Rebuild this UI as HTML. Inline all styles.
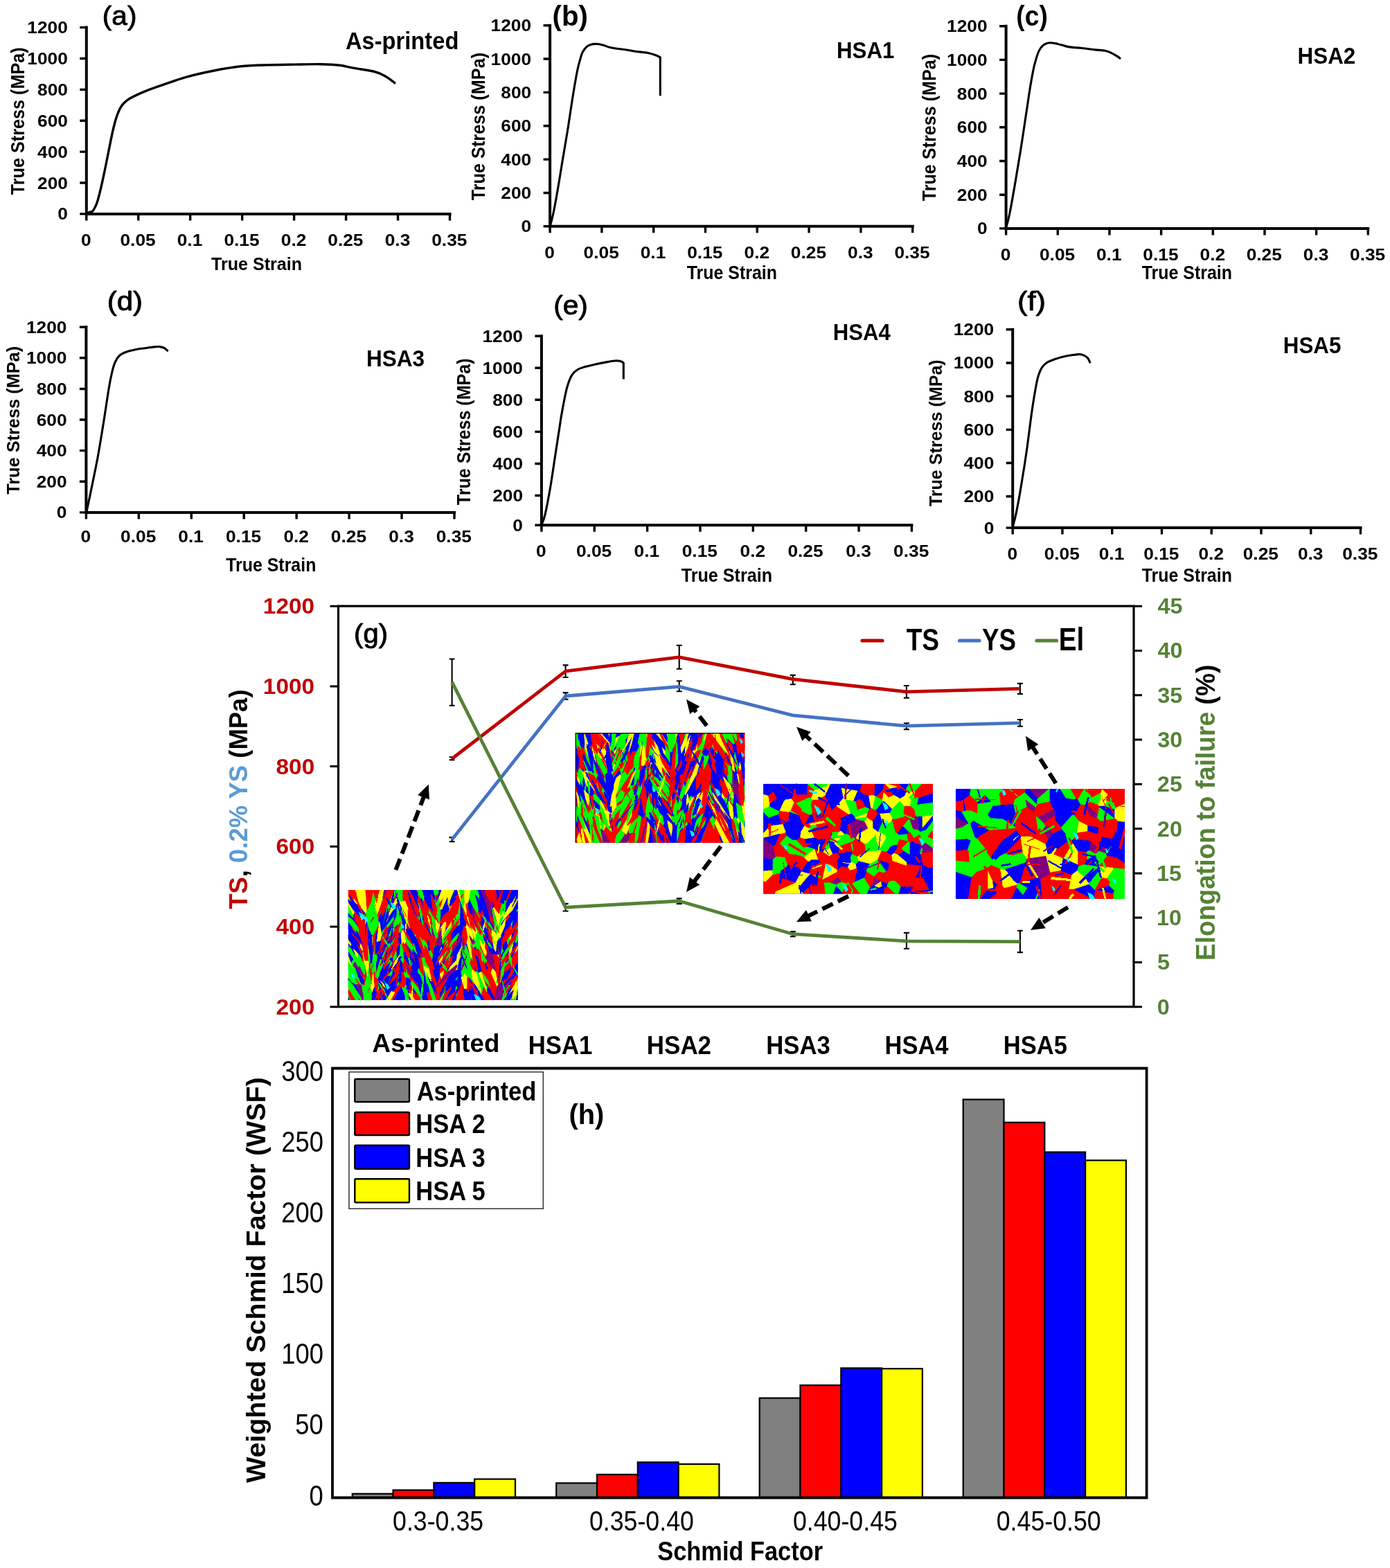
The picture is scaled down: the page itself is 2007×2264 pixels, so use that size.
<!DOCTYPE html>
<html><head><meta charset="utf-8"><title>Figure</title>
<style>
html,body{margin:0;padding:0;background:#fff}
body{width:2007px;height:2264px;overflow:hidden}
svg{display:block}
text{font-family:"Liberation Sans",sans-serif}
</style></head><body>
<svg width="2007" height="2264" viewBox="0 0 2007 2264">
<rect width="2007" height="2264" fill="#fff"/>
<path d="M124.80 39.60 V308.90 H649.50" fill="none" stroke="#000" stroke-width="4.00" stroke-linecap="square"/>
<path d="M115.30 308.90H124.80M115.30 264.02H124.80M115.30 219.13H124.80M115.30 174.25H124.80M115.30 129.37H124.80M115.30 84.48H124.80M115.30 39.60H124.80M124.80 308.90V318.40M199.76 308.90V318.40M274.71 308.90V318.40M349.67 308.90V318.40M424.63 308.90V318.40M499.59 308.90V318.40M574.54 308.90V318.40M649.50 308.90V318.40" fill="none" stroke="#000" stroke-width="3.40"/>
<text transform="translate(83.24 317.39) scale(1.0700 1)" font-size="24.60" font-weight="700" fill="#000" xml:space="preserve">0</text>
<text transform="translate(54.03 272.50) scale(1.0700 1)" font-size="24.60" font-weight="700" fill="#000" xml:space="preserve">200</text>
<text transform="translate(54.03 227.62) scale(1.0700 1)" font-size="24.60" font-weight="700" fill="#000" xml:space="preserve">400</text>
<text transform="translate(54.03 182.74) scale(1.0700 1)" font-size="24.60" font-weight="700" fill="#000" xml:space="preserve">600</text>
<text transform="translate(54.03 137.85) scale(1.0700 1)" font-size="24.60" font-weight="700" fill="#000" xml:space="preserve">800</text>
<text transform="translate(39.29 92.97) scale(1.0700 1)" font-size="24.60" font-weight="700" fill="#000" xml:space="preserve">1000</text>
<text transform="translate(39.29 48.09) scale(1.0700 1)" font-size="24.60" font-weight="700" fill="#000" xml:space="preserve">1200</text>
<text transform="translate(117.00 354.89) scale(1.0700 1)" font-size="24.60" font-weight="700" fill="#000" xml:space="preserve">0</text>
<text transform="translate(173.46 354.89) scale(1.0700 1)" font-size="24.60" font-weight="700" fill="#000" xml:space="preserve">0.05</text>
<text transform="translate(255.72 354.89) scale(1.0700 1)" font-size="24.60" font-weight="700" fill="#000" xml:space="preserve">0.1</text>
<text transform="translate(323.38 354.89) scale(1.0700 1)" font-size="24.60" font-weight="700" fill="#000" xml:space="preserve">0.15</text>
<text transform="translate(405.83 354.89) scale(1.0700 1)" font-size="24.60" font-weight="700" fill="#000" xml:space="preserve">0.2</text>
<text transform="translate(473.29 354.89) scale(1.0700 1)" font-size="24.60" font-weight="700" fill="#000" xml:space="preserve">0.25</text>
<text transform="translate(555.68 354.89) scale(1.0700 1)" font-size="24.60" font-weight="700" fill="#000" xml:space="preserve">0.3</text>
<text transform="translate(623.20 354.89) scale(1.0700 1)" font-size="24.60" font-weight="700" fill="#000" xml:space="preserve">0.35</text>
<path d="M124.4 308.3C125.2 308.0 127.9 306.9 129.4 306.3C130.9 305.8 132.0 306.3 133.3 305.2C134.6 304.0 135.9 302.0 137.1 299.4C138.4 296.8 139.4 295.2 141.0 289.7C142.6 284.3 144.9 274.9 146.8 266.6C148.7 258.2 150.7 248.8 152.6 239.5C154.5 230.2 156.5 219.9 158.4 210.5C160.3 201.2 162.2 191.2 164.2 183.5C166.1 175.8 168.0 169.3 170.0 164.2C171.9 159.0 173.5 155.8 175.8 152.6C178.0 149.4 180.6 147.1 183.5 144.9C186.4 142.6 188.3 141.5 193.2 139.1C198.0 136.7 206.0 133.1 212.5 130.6C218.9 128.0 222.1 126.9 231.8 123.6C241.4 120.3 257.5 114.5 270.4 110.9C283.3 107.3 296.2 104.5 309.0 102.0C321.9 99.5 334.8 97.2 347.7 95.8C360.6 94.5 373.4 94.3 386.3 93.9C399.2 93.4 412.1 93.3 424.9 93.1C437.8 92.9 452.6 92.5 463.6 92.7C474.5 92.9 482.9 93.4 490.6 94.3C498.3 95.2 501.6 96.6 509.9 98.1C518.3 99.7 533.1 101.5 540.8 103.5C548.6 105.5 551.3 107.3 556.3 110.1C561.3 112.9 568.5 118.8 571.0 120.5" fill="none" stroke="#000" stroke-width="3.40" stroke-linejoin="round" stroke-linecap="butt"/>
<text stroke="#000" stroke-width="1" stroke-linejoin="round" transform="translate(147.87 36.30) scale(1 0.9628)" font-size="40.55" font-weight="400" fill="#000" xml:space="preserve">(a)</text>
<text transform="translate(498.88 70.54) scale(0.9212 1)" font-size="35.51" font-weight="700" fill="#000" xml:space="preserve">As-printed</text>
<text transform="translate(34.77 281.25) rotate(-90) scale(0.9243 1)" font-size="27.27" font-weight="700" fill="#000" xml:space="preserve">True Stress (MPa)</text>
<text transform="translate(304.95 389.94) scale(0.9560 1)" font-size="26.26" font-weight="700" fill="#000" xml:space="preserve">True Strain</text>
<path d="M794.10 36.70 V326.80 H1317.70" fill="none" stroke="#000" stroke-width="4.00" stroke-linecap="square"/>
<path d="M784.60 326.80H794.10M784.60 278.45H794.10M784.60 230.10H794.10M784.60 181.75H794.10M784.60 133.40H794.10M784.60 85.05H794.10M784.60 36.70H794.10M794.10 326.80V336.30M868.90 326.80V336.30M943.70 326.80V336.30M1018.50 326.80V336.30M1093.30 326.80V336.30M1168.10 326.80V336.30M1242.90 326.80V336.30M1317.70 326.80V336.30" fill="none" stroke="#000" stroke-width="3.40"/>
<text transform="translate(752.54 335.29) scale(1.0700 1)" font-size="24.60" font-weight="700" fill="#000" xml:space="preserve">0</text>
<text transform="translate(723.33 286.94) scale(1.0700 1)" font-size="24.60" font-weight="700" fill="#000" xml:space="preserve">200</text>
<text transform="translate(723.33 238.59) scale(1.0700 1)" font-size="24.60" font-weight="700" fill="#000" xml:space="preserve">400</text>
<text transform="translate(723.33 190.24) scale(1.0700 1)" font-size="24.60" font-weight="700" fill="#000" xml:space="preserve">600</text>
<text transform="translate(723.33 141.89) scale(1.0700 1)" font-size="24.60" font-weight="700" fill="#000" xml:space="preserve">800</text>
<text transform="translate(708.59 93.54) scale(1.0700 1)" font-size="24.60" font-weight="700" fill="#000" xml:space="preserve">1000</text>
<text transform="translate(708.59 45.19) scale(1.0700 1)" font-size="24.60" font-weight="700" fill="#000" xml:space="preserve">1200</text>
<text transform="translate(786.30 372.79) scale(1.0700 1)" font-size="24.60" font-weight="700" fill="#000" xml:space="preserve">0</text>
<text transform="translate(842.60 372.79) scale(1.0700 1)" font-size="24.60" font-weight="700" fill="#000" xml:space="preserve">0.05</text>
<text transform="translate(924.71 372.79) scale(1.0700 1)" font-size="24.60" font-weight="700" fill="#000" xml:space="preserve">0.1</text>
<text transform="translate(992.20 372.79) scale(1.0700 1)" font-size="24.60" font-weight="700" fill="#000" xml:space="preserve">0.15</text>
<text transform="translate(1074.51 372.79) scale(1.0700 1)" font-size="24.60" font-weight="700" fill="#000" xml:space="preserve">0.2</text>
<text transform="translate(1141.80 372.79) scale(1.0700 1)" font-size="24.60" font-weight="700" fill="#000" xml:space="preserve">0.25</text>
<text transform="translate(1224.04 372.79) scale(1.0700 1)" font-size="24.60" font-weight="700" fill="#000" xml:space="preserve">0.3</text>
<text transform="translate(1291.40 372.79) scale(1.0700 1)" font-size="24.60" font-weight="700" fill="#000" xml:space="preserve">0.35</text>
<path d="M794.1 326.8C794.9 323.9 797.0 317.2 798.7 309.0C800.5 300.9 802.3 291.0 804.5 278.1C806.8 265.3 809.7 247.2 812.2 231.8C814.8 216.3 817.4 201.5 820.0 185.4C822.6 169.3 825.4 149.1 827.7 135.2C830.0 121.4 831.9 110.4 833.5 102.4C835.1 94.3 836.1 91.4 837.4 86.9C838.6 82.4 839.6 78.5 841.2 75.3C842.8 72.1 845.1 69.4 847.0 67.6C848.9 65.8 850.6 65.2 852.8 64.5C855.1 63.8 857.6 63.3 860.5 63.4C863.4 63.4 866.7 64.0 870.2 64.9C873.7 65.8 876.6 67.7 881.8 68.8C886.9 69.9 894.7 70.5 901.1 71.5C907.5 72.4 914.6 73.7 920.4 74.6C926.2 75.4 931.4 75.6 935.9 76.5C940.4 77.4 944.6 78.9 947.5 80.0C950.4 81.0 952.3 82.2 953.3 82.7" fill="none" stroke="#000" stroke-width="3.10" stroke-linejoin="round" stroke-linecap="butt"/>
<path d="M953.3 81.7V138.3" stroke="#000" stroke-width="3.10" fill="none"/>
<text transform="translate(797.49 36.93) scale(1 1.0017)" font-size="40.25" font-weight="700" fill="#000" xml:space="preserve">(b)</text>
<text transform="translate(1207.97 83.87) scale(0.9405 1)" font-size="33.24" font-weight="700" fill="#000" xml:space="preserve">HSA1</text>
<text transform="translate(700.39 289.25) rotate(-90) scale(0.9450 1)" font-size="26.74" font-weight="700" fill="#000" xml:space="preserve">True Stress (MPa)</text>
<text transform="translate(991.75 403.43) scale(0.9115 1)" font-size="27.35" font-weight="700" fill="#000" xml:space="preserve">True Strain</text>
<path d="M1452.60 37.70 V329.90 H1975.30" fill="none" stroke="#000" stroke-width="4.00" stroke-linecap="square"/>
<path d="M1443.10 329.90H1452.60M1443.10 281.20H1452.60M1443.10 232.50H1452.60M1443.10 183.80H1452.60M1443.10 135.10H1452.60M1443.10 86.40H1452.60M1443.10 37.70H1452.60M1452.60 329.90V339.40M1527.27 329.90V339.40M1601.94 329.90V339.40M1676.61 329.90V339.40M1751.29 329.90V339.40M1825.96 329.90V339.40M1900.63 329.90V339.40M1975.30 329.90V339.40" fill="none" stroke="#000" stroke-width="3.40"/>
<text transform="translate(1411.04 338.39) scale(1.0700 1)" font-size="24.60" font-weight="700" fill="#000" xml:space="preserve">0</text>
<text transform="translate(1381.83 289.69) scale(1.0700 1)" font-size="24.60" font-weight="700" fill="#000" xml:space="preserve">200</text>
<text transform="translate(1381.83 240.99) scale(1.0700 1)" font-size="24.60" font-weight="700" fill="#000" xml:space="preserve">400</text>
<text transform="translate(1381.83 192.29) scale(1.0700 1)" font-size="24.60" font-weight="700" fill="#000" xml:space="preserve">600</text>
<text transform="translate(1381.83 143.59) scale(1.0700 1)" font-size="24.60" font-weight="700" fill="#000" xml:space="preserve">800</text>
<text transform="translate(1367.09 94.89) scale(1.0700 1)" font-size="24.60" font-weight="700" fill="#000" xml:space="preserve">1000</text>
<text transform="translate(1367.09 46.19) scale(1.0700 1)" font-size="24.60" font-weight="700" fill="#000" xml:space="preserve">1200</text>
<text transform="translate(1444.80 375.89) scale(1.0700 1)" font-size="24.60" font-weight="700" fill="#000" xml:space="preserve">0</text>
<text transform="translate(1500.98 375.89) scale(1.0700 1)" font-size="24.60" font-weight="700" fill="#000" xml:space="preserve">0.05</text>
<text transform="translate(1582.95 375.89) scale(1.0700 1)" font-size="24.60" font-weight="700" fill="#000" xml:space="preserve">0.1</text>
<text transform="translate(1650.32 375.89) scale(1.0700 1)" font-size="24.60" font-weight="700" fill="#000" xml:space="preserve">0.15</text>
<text transform="translate(1732.49 375.89) scale(1.0700 1)" font-size="24.60" font-weight="700" fill="#000" xml:space="preserve">0.2</text>
<text transform="translate(1799.66 375.89) scale(1.0700 1)" font-size="24.60" font-weight="700" fill="#000" xml:space="preserve">0.25</text>
<text transform="translate(1881.77 375.89) scale(1.0700 1)" font-size="24.60" font-weight="700" fill="#000" xml:space="preserve">0.3</text>
<text transform="translate(1949.00 375.89) scale(1.0700 1)" font-size="24.60" font-weight="700" fill="#000" xml:space="preserve">0.35</text>
<path d="M1452.6 329.1C1453.5 325.8 1455.5 319.5 1457.7 309.0C1459.8 298.6 1462.8 281.4 1465.4 266.6C1468.0 251.7 1470.5 236.3 1473.1 220.2C1475.7 204.1 1478.6 184.8 1480.8 170.0C1483.1 155.2 1484.8 142.6 1486.6 131.3C1488.4 120.1 1490.2 109.8 1491.7 102.4C1493.1 95.0 1494.1 91.7 1495.5 86.9C1496.9 82.1 1498.4 76.9 1500.2 73.4C1501.9 69.9 1504.0 67.5 1505.9 65.7C1507.9 63.9 1509.8 63.2 1511.7 62.6C1513.7 61.9 1515.0 61.7 1517.5 61.8C1520.1 61.9 1523.0 62.4 1527.2 63.4C1531.4 64.3 1536.9 66.6 1542.6 67.6C1548.4 68.6 1555.5 68.8 1562.0 69.5C1568.4 70.2 1575.5 71.2 1581.3 71.9C1587.1 72.5 1592.5 72.5 1596.7 73.4C1600.9 74.3 1603.5 75.8 1606.4 77.3C1609.3 78.7 1612.2 80.6 1614.1 81.9C1616.0 83.2 1617.3 84.5 1618.0 85.0" fill="none" stroke="#000" stroke-width="3.10" stroke-linejoin="round" stroke-linecap="butt"/>
<text transform="translate(1467.34 36.78) scale(1 1.0794)" font-size="37.16" font-weight="700" fill="#000" xml:space="preserve">(c)</text>
<text transform="translate(1873.56 92.37) scale(0.9611 1)" font-size="32.68" font-weight="700" fill="#000" xml:space="preserve">HSA2</text>
<text transform="translate(1351.39 290.25) rotate(-90) scale(0.9406 1)" font-size="26.74" font-weight="700" fill="#000" xml:space="preserve">True Stress (MPa)</text>
<text transform="translate(1648.75 403.43) scale(0.9115 1)" font-size="27.35" font-weight="700" fill="#000" xml:space="preserve">True Strain</text>
<path d="M124.40 472.20 V739.90 H656.00" fill="none" stroke="#000" stroke-width="4.00" stroke-linecap="square"/>
<path d="M114.90 739.90H124.40M114.90 695.28H124.40M114.90 650.67H124.40M114.90 606.05H124.40M114.90 561.43H124.40M114.90 516.82H124.40M114.90 472.20H124.40M124.40 739.90V749.40M200.34 739.90V749.40M276.29 739.90V749.40M352.23 739.90V749.40M428.17 739.90V749.40M504.11 739.90V749.40M580.06 739.90V749.40M656.00 739.90V749.40" fill="none" stroke="#000" stroke-width="3.40"/>
<text transform="translate(81.84 748.39) scale(1.0700 1)" font-size="24.60" font-weight="700" fill="#000" xml:space="preserve">0</text>
<text transform="translate(52.63 703.77) scale(1.0700 1)" font-size="24.60" font-weight="700" fill="#000" xml:space="preserve">200</text>
<text transform="translate(52.63 659.15) scale(1.0700 1)" font-size="24.60" font-weight="700" fill="#000" xml:space="preserve">400</text>
<text transform="translate(52.63 614.54) scale(1.0700 1)" font-size="24.60" font-weight="700" fill="#000" xml:space="preserve">600</text>
<text transform="translate(52.63 569.92) scale(1.0700 1)" font-size="24.60" font-weight="700" fill="#000" xml:space="preserve">800</text>
<text transform="translate(37.89 525.30) scale(1.0700 1)" font-size="24.60" font-weight="700" fill="#000" xml:space="preserve">1000</text>
<text transform="translate(37.89 480.69) scale(1.0700 1)" font-size="24.60" font-weight="700" fill="#000" xml:space="preserve">1200</text>
<text transform="translate(116.60 783.39) scale(1.0700 1)" font-size="24.60" font-weight="700" fill="#000" xml:space="preserve">0</text>
<text transform="translate(174.05 783.39) scale(1.0700 1)" font-size="24.60" font-weight="700" fill="#000" xml:space="preserve">0.05</text>
<text transform="translate(257.29 783.39) scale(1.0700 1)" font-size="24.60" font-weight="700" fill="#000" xml:space="preserve">0.1</text>
<text transform="translate(325.93 783.39) scale(1.0700 1)" font-size="24.60" font-weight="700" fill="#000" xml:space="preserve">0.15</text>
<text transform="translate(409.38 783.39) scale(1.0700 1)" font-size="24.60" font-weight="700" fill="#000" xml:space="preserve">0.2</text>
<text transform="translate(477.82 783.39) scale(1.0700 1)" font-size="24.60" font-weight="700" fill="#000" xml:space="preserve">0.25</text>
<text transform="translate(561.20 783.39) scale(1.0700 1)" font-size="24.60" font-weight="700" fill="#000" xml:space="preserve">0.3</text>
<text transform="translate(629.70 783.39) scale(1.0700 1)" font-size="24.60" font-weight="700" fill="#000" xml:space="preserve">0.35</text>
<path d="M124.8 739.8C126.2 733.2 130.4 713.6 133.1 700.1C135.9 686.5 138.6 673.9 141.4 658.7C144.2 643.5 147.2 624.5 149.7 609.0C152.2 593.6 154.4 577.5 156.3 566.0C158.2 554.4 159.6 546.6 161.3 539.5C162.9 532.3 164.3 527.3 166.2 522.9C168.2 518.5 170.1 515.5 172.8 513.0C175.6 510.5 178.9 509.4 182.8 508.0C186.6 506.6 191.6 505.6 196.0 504.7C200.4 503.8 204.9 503.3 209.3 502.7C213.7 502.1 218.9 501.3 222.5 500.9C226.1 500.5 228.3 500.3 230.8 500.6C233.3 500.9 235.4 501.6 237.4 502.7C239.4 503.8 241.8 506.4 242.7 507.2" fill="none" stroke="#000" stroke-width="3.10" stroke-linejoin="round" stroke-linecap="butt"/>
<text stroke="#000" stroke-width="1" stroke-linejoin="round" transform="translate(154.78 448.27) scale(1 0.9447)" font-size="42.00" font-weight="400" fill="#000" xml:space="preserve">(d)</text>
<text transform="translate(528.95 528.97) scale(0.9541 1)" font-size="33.10" font-weight="700" fill="#000" xml:space="preserve">HSA3</text>
<text transform="translate(27.50 713.85) rotate(-90) scale(0.9670 1)" font-size="26.20" font-weight="700" fill="#000" xml:space="preserve">True Stress (MPa)</text>
<text transform="translate(326.15 825.32) scale(0.8901 1)" font-size="28.03" font-weight="700" fill="#000" xml:space="preserve">True Strain</text>
<path d="M781.90 485.20 V758.20 H1316.40" fill="none" stroke="#000" stroke-width="4.00" stroke-linecap="square"/>
<path d="M772.40 758.20H781.90M772.40 715.50H781.90M772.40 669.44H781.90M772.40 623.38H781.90M772.40 577.32H781.90M772.40 531.26H781.90M772.40 485.20H781.90M781.90 758.20V767.70M858.26 758.20V767.70M934.61 758.20V767.70M1010.97 758.20V767.70M1087.33 758.20V767.70M1163.69 758.20V767.70M1240.04 758.20V767.70M1316.40 758.20V767.70" fill="none" stroke="#000" stroke-width="3.40"/>
<text transform="translate(740.34 766.69) scale(1.0700 1)" font-size="24.60" font-weight="700" fill="#000" xml:space="preserve">0</text>
<text transform="translate(711.13 723.99) scale(1.0700 1)" font-size="24.60" font-weight="700" fill="#000" xml:space="preserve">200</text>
<text transform="translate(711.13 677.93) scale(1.0700 1)" font-size="24.60" font-weight="700" fill="#000" xml:space="preserve">400</text>
<text transform="translate(711.13 631.87) scale(1.0700 1)" font-size="24.60" font-weight="700" fill="#000" xml:space="preserve">600</text>
<text transform="translate(711.13 585.81) scale(1.0700 1)" font-size="24.60" font-weight="700" fill="#000" xml:space="preserve">800</text>
<text transform="translate(696.39 539.75) scale(1.0700 1)" font-size="24.60" font-weight="700" fill="#000" xml:space="preserve">1000</text>
<text transform="translate(696.39 493.69) scale(1.0700 1)" font-size="24.60" font-weight="700" fill="#000" xml:space="preserve">1200</text>
<text transform="translate(774.10 804.19) scale(1.0700 1)" font-size="24.60" font-weight="700" fill="#000" xml:space="preserve">0</text>
<text transform="translate(831.96 804.19) scale(1.0700 1)" font-size="24.60" font-weight="700" fill="#000" xml:space="preserve">0.05</text>
<text transform="translate(915.62 804.19) scale(1.0700 1)" font-size="24.60" font-weight="700" fill="#000" xml:space="preserve">0.1</text>
<text transform="translate(984.68 804.19) scale(1.0700 1)" font-size="24.60" font-weight="700" fill="#000" xml:space="preserve">0.15</text>
<text transform="translate(1068.53 804.19) scale(1.0700 1)" font-size="24.60" font-weight="700" fill="#000" xml:space="preserve">0.2</text>
<text transform="translate(1137.39 804.19) scale(1.0700 1)" font-size="24.60" font-weight="700" fill="#000" xml:space="preserve">0.25</text>
<text transform="translate(1221.18 804.19) scale(1.0700 1)" font-size="24.60" font-weight="700" fill="#000" xml:space="preserve">0.3</text>
<text transform="translate(1290.10 804.19) scale(1.0700 1)" font-size="24.60" font-weight="700" fill="#000" xml:space="preserve">0.35</text>
<path d="M781.7 758.4C782.6 755.8 785.0 752.0 787.1 742.6C789.3 733.2 792.3 717.1 794.9 702.0C797.4 686.9 800.0 668.5 802.6 651.8C805.2 635.0 808.1 615.1 810.3 601.6C812.6 588.0 814.5 578.4 816.1 570.7C817.7 562.9 818.4 560.0 820.0 555.2C821.6 550.4 823.5 545.2 825.8 541.7C828.0 538.1 830.6 535.9 833.5 534.0C836.4 532.0 839.0 531.4 843.2 530.1C847.3 528.8 852.8 527.5 858.6 526.2C864.4 524.9 872.8 523.3 877.9 522.4C883.1 521.5 886.3 520.9 889.5 520.8C892.7 520.8 895.4 521.4 897.2 522.0C899.0 522.6 899.8 523.9 900.3 524.3" fill="none" stroke="#000" stroke-width="3.10" stroke-linejoin="round" stroke-linecap="butt"/>
<path d="M900.3 523.3V547.5" stroke="#000" stroke-width="3.10" fill="none"/>
<text stroke="#000" stroke-width="1" stroke-linejoin="round" transform="translate(799.16 453.77) scale(1 0.9743)" font-size="40.73" font-weight="400" fill="#000" xml:space="preserve">(e)</text>
<text transform="translate(1202.68 491.17) scale(0.9529 1)" font-size="32.68" font-weight="700" fill="#000" xml:space="preserve">HSA4</text>
<text transform="translate(679.16 729.25) rotate(-90) scale(0.9346 1)" font-size="26.84" font-weight="700" fill="#000" xml:space="preserve">True Stress (MPa)</text>
<text transform="translate(983.75 840.02) scale(0.9014 1)" font-size="27.89" font-weight="700" fill="#000" xml:space="preserve">True Strain</text>
<path d="M1462.20 475.80 V762.10 H1964.50" fill="none" stroke="#000" stroke-width="4.00" stroke-linecap="square"/>
<path d="M1452.70 762.10H1462.20M1452.70 716.70H1462.20M1452.70 668.52H1462.20M1452.70 620.34H1462.20M1452.70 572.16H1462.20M1452.70 523.98H1462.20M1452.70 475.80H1462.20M1462.20 762.10V771.60M1533.96 762.10V771.60M1605.71 762.10V771.60M1677.47 762.10V771.60M1749.23 762.10V771.60M1820.99 762.10V771.60M1892.74 762.10V771.60M1964.50 762.10V771.60" fill="none" stroke="#000" stroke-width="3.40"/>
<text transform="translate(1420.64 770.59) scale(1.0700 1)" font-size="24.60" font-weight="700" fill="#000" xml:space="preserve">0</text>
<text transform="translate(1391.43 725.19) scale(1.0700 1)" font-size="24.60" font-weight="700" fill="#000" xml:space="preserve">200</text>
<text transform="translate(1391.43 677.01) scale(1.0700 1)" font-size="24.60" font-weight="700" fill="#000" xml:space="preserve">400</text>
<text transform="translate(1391.43 628.83) scale(1.0700 1)" font-size="24.60" font-weight="700" fill="#000" xml:space="preserve">600</text>
<text transform="translate(1391.43 580.65) scale(1.0700 1)" font-size="24.60" font-weight="700" fill="#000" xml:space="preserve">800</text>
<text transform="translate(1376.69 532.47) scale(1.0700 1)" font-size="24.60" font-weight="700" fill="#000" xml:space="preserve">1000</text>
<text transform="translate(1376.69 484.29) scale(1.0700 1)" font-size="24.60" font-weight="700" fill="#000" xml:space="preserve">1200</text>
<text transform="translate(1454.40 808.09) scale(1.0700 1)" font-size="24.60" font-weight="700" fill="#000" xml:space="preserve">0</text>
<text transform="translate(1507.66 808.09) scale(1.0700 1)" font-size="24.60" font-weight="700" fill="#000" xml:space="preserve">0.05</text>
<text transform="translate(1586.72 808.09) scale(1.0700 1)" font-size="24.60" font-weight="700" fill="#000" xml:space="preserve">0.1</text>
<text transform="translate(1651.18 808.09) scale(1.0700 1)" font-size="24.60" font-weight="700" fill="#000" xml:space="preserve">0.15</text>
<text transform="translate(1730.43 808.09) scale(1.0700 1)" font-size="24.60" font-weight="700" fill="#000" xml:space="preserve">0.2</text>
<text transform="translate(1794.69 808.09) scale(1.0700 1)" font-size="24.60" font-weight="700" fill="#000" xml:space="preserve">0.25</text>
<text transform="translate(1873.88 808.09) scale(1.0700 1)" font-size="24.60" font-weight="700" fill="#000" xml:space="preserve">0.3</text>
<text transform="translate(1938.20 808.09) scale(1.0700 1)" font-size="24.60" font-weight="700" fill="#000" xml:space="preserve">0.35</text>
<path d="M1461.9 761.9C1462.8 758.3 1465.1 751.3 1467.3 740.6C1469.5 730.0 1472.5 713.6 1475.0 698.1C1477.6 682.7 1480.2 666.0 1482.8 647.9C1485.3 629.9 1488.2 605.4 1490.5 590.0C1492.8 574.5 1494.7 563.6 1496.3 555.2C1497.9 546.8 1498.7 543.9 1500.2 539.8C1501.6 535.6 1502.9 532.8 1504.8 530.1C1506.7 527.4 1508.7 525.5 1511.7 523.5C1514.8 521.6 1518.8 520.1 1523.3 518.5C1527.8 517.0 1533.6 515.4 1538.8 514.3C1543.9 513.2 1550.7 512.4 1554.2 511.9C1557.8 511.5 1558.1 511.3 1560.0 511.6C1562.0 511.8 1564.0 512.5 1565.8 513.5C1567.6 514.5 1569.4 515.5 1570.8 517.3C1572.3 519.2 1573.7 523.1 1574.3 524.3" fill="none" stroke="#000" stroke-width="3.10" stroke-linejoin="round" stroke-linecap="butt"/>
<text stroke="#000" stroke-width="1" stroke-linejoin="round" transform="translate(1468.89 448.27) scale(1 0.9114)" font-size="43.54" font-weight="400" fill="#000" xml:space="preserve">(f)</text>
<text transform="translate(1852.76 510.47) scale(0.9591 1)" font-size="32.68" font-weight="700" fill="#000" xml:space="preserve">HSA5</text>
<text transform="translate(1359.61 731.25) rotate(-90) scale(0.9779 1)" font-size="25.67" font-weight="700" fill="#000" xml:space="preserve">True Stress (MPa)</text>
<text transform="translate(1648.75 840.03) scale(0.9300 1)" font-size="26.80" font-weight="700" fill="#000" xml:space="preserve">True Strain</text>
<path d="M488.5 875.2H1637.0V1453.7H488.5Z" fill="none" stroke="#000" stroke-width="3.2"/>
<path d="M476.5 1453.7H488.5M476.5 1338.0H488.5M476.5 1222.3H488.5M476.5 1106.6H488.5M476.5 990.9H488.5M476.5 875.2H488.5M1637.0 1453.7H1649.0M1637.0 1389.4H1649.0M1637.0 1325.1H1649.0M1637.0 1260.9H1649.0M1637.0 1196.6H1649.0M1637.0 1132.3H1649.0M1637.0 1068.0H1649.0M1637.0 1003.8H1649.0M1637.0 939.5H1649.0M1637.0 875.2H1649.0" fill="none" stroke="#000" stroke-width="3"/>
<text transform="translate(398.54 1464.67) scale(1.0500 1)" font-size="31.80" font-weight="700" fill="#C00000" xml:space="preserve">200</text>
<text transform="translate(398.54 1348.97) scale(1.0500 1)" font-size="31.80" font-weight="700" fill="#C00000" xml:space="preserve">400</text>
<text transform="translate(398.54 1233.27) scale(1.0500 1)" font-size="31.80" font-weight="700" fill="#C00000" xml:space="preserve">600</text>
<text transform="translate(398.54 1117.57) scale(1.0500 1)" font-size="31.80" font-weight="700" fill="#C00000" xml:space="preserve">800</text>
<text transform="translate(379.84 1001.87) scale(1.0500 1)" font-size="31.80" font-weight="700" fill="#C00000" xml:space="preserve">1000</text>
<text transform="translate(379.84 886.17) scale(1.0500 1)" font-size="31.80" font-weight="700" fill="#C00000" xml:space="preserve">1200</text>
<text transform="translate(1670.70 1464.67) scale(1.0200 1)" font-size="31.80" font-weight="700" fill="#548235" xml:space="preserve">0</text>
<text transform="translate(1671.03 1400.23) scale(1.0200 1)" font-size="31.80" font-weight="700" fill="#548235" xml:space="preserve">5</text>
<text transform="translate(1670.05 1336.12) scale(1.0200 1)" font-size="31.80" font-weight="700" fill="#548235" xml:space="preserve">10</text>
<text transform="translate(1670.05 1271.68) scale(1.0200 1)" font-size="31.80" font-weight="700" fill="#548235" xml:space="preserve">15</text>
<text transform="translate(1670.86 1207.56) scale(1.0200 1)" font-size="31.80" font-weight="700" fill="#548235" xml:space="preserve">20</text>
<text transform="translate(1670.86 1143.28) scale(1.0200 1)" font-size="31.80" font-weight="700" fill="#548235" xml:space="preserve">25</text>
<text transform="translate(1671.19 1079.00) scale(1.0200 1)" font-size="31.80" font-weight="700" fill="#548235" xml:space="preserve">30</text>
<text transform="translate(1671.19 1014.73) scale(1.0200 1)" font-size="31.80" font-weight="700" fill="#548235" xml:space="preserve">35</text>
<text transform="translate(1671.51 950.45) scale(1.0200 1)" font-size="31.80" font-weight="700" fill="#548235" xml:space="preserve">40</text>
<text transform="translate(1671.51 886.01) scale(1.0200 1)" font-size="31.80" font-weight="700" fill="#548235" xml:space="preserve">45</text>
<path d="M652.6 951.5V1018.7M648.6 951.5h8M648.6 1018.7h8M652.6 1093.3V1097.2M648.6 1093.3h8M648.6 1097.2h8M652.6 1209.1V1215.3M648.6 1209.1h8M648.6 1215.3h8M816.6 960.4V978.0M812.6 960.4h8M812.6 978.0h8M816.6 1000.1V1009.8M812.6 1000.1h8M812.6 1009.8h8M816.6 1304.9V1315.5M812.6 1304.9h8M812.6 1315.5h8M980.7 931.7V965.7M976.7 931.7h8M976.7 965.7h8M980.7 983.3V998.3M976.7 983.3h8M976.7 998.3h8M980.7 1297.4V1304.9M976.7 1297.4h8M976.7 1304.9h8M1144.8 974.9V988.2M1140.8 974.9h8M1140.8 988.2h8M1144.8 1345.1V1352.2M1140.8 1345.1h8M1140.8 1352.2h8M1308.9 990.0V1007.6M1304.9 990.0h8M1304.9 1007.6h8M1308.9 1044.3V1053.1M1304.9 1044.3h8M1304.9 1053.1h8M1308.9 1346.9V1369.8M1304.9 1346.9h8M1304.9 1369.8h8M1472.9 986.9V1001.9M1468.9 986.9h8M1468.9 1001.9h8M1472.9 1039.0V1048.7M1468.9 1039.0h8M1468.9 1048.7h8M1472.9 1343.8V1375.1M1468.9 1343.8h8M1468.9 1375.1h8" fill="none" stroke="#000" stroke-width="2.1"/>
<polyline points="652.6,1095.5 816.6,969.2 980.7,948.9 1144.8,980.7 1308.9,998.8 1472.9,994.4" fill="none" stroke="#C00000" stroke-width="4.8" stroke-linejoin="round"/>
<polyline points="652.6,1212.2 816.6,1005.0 980.7,991.3 1144.8,1032.8 1308.9,1048.2 1472.9,1043.8" fill="none" stroke="#4472C4" stroke-width="4.8" stroke-linejoin="round"/>
<polyline points="652.6,984.7 816.6,1310.2 980.7,1301.0 1144.8,1348.7 1308.9,1358.8 1472.9,1359.7" fill="none" stroke="#548235" stroke-width="4.8" stroke-linejoin="round"/>
<path d="M1245 925H1274" stroke="#C00000" stroke-width="5.2" stroke-linecap="round"/>
<path d="M1385.5 925H1414" stroke="#4472C4" stroke-width="5.2" stroke-linecap="round"/>
<path d="M1497 925H1525.5" stroke="#548235" stroke-width="5.2" stroke-linecap="round"/>
<text transform="translate(1308.63 938.75) scale(0.8348 1)" font-size="44.51" font-weight="700" fill="#000" xml:space="preserve">TS</text>
<text transform="translate(1417.97 938.75) scale(0.8247 1)" font-size="44.51" font-weight="700" fill="#000" xml:space="preserve">YS</text>
<text transform="translate(1528.79 939.20) scale(0.8438 1)" font-size="45.79" font-weight="700" fill="#000" xml:space="preserve">El</text>
<text stroke="#000" stroke-width="1" stroke-linejoin="round" transform="translate(511.10 928.03) scale(1 0.9492)" font-size="40.00" font-weight="400" fill="#000" xml:space="preserve">(g)</text>
<text transform="translate(357.23 1312.86) rotate(-90) scale(0.9726 1)" font-size="37.50" font-weight="700" fill="#000" xml:space="preserve"><tspan fill="#C00000">TS</tspan><tspan fill="#000">, </tspan><tspan fill="#5B9BD5">0.2% YS</tspan><tspan fill="#000"> (MPa)</tspan></text>
<text transform="translate(1753.60 1387.02) rotate(-90) scale(0.9520 1)" font-size="39.04" font-weight="700" fill="#000" xml:space="preserve"><tspan fill="#548235">Elongation to failure</tspan><tspan fill="#000"> (%)</tspan></text>
<text transform="translate(537.58 1518.66) scale(0.9854 1)" font-size="37.33" font-weight="700" fill="#000" xml:space="preserve">As-printed</text>
<text transform="translate(762.74 1522.13) scale(0.9348 1)" font-size="37.18" font-weight="700" fill="#000" xml:space="preserve">HSA1</text>
<text transform="translate(933.83 1522.13) scale(0.9402 1)" font-size="37.18" font-weight="700" fill="#000" xml:space="preserve">HSA2</text>
<text transform="translate(1106.24 1522.13) scale(0.9332 1)" font-size="37.18" font-weight="700" fill="#000" xml:space="preserve">HSA3</text>
<text transform="translate(1277.56 1522.13) scale(0.9276 1)" font-size="37.18" font-weight="700" fill="#000" xml:space="preserve">HSA4</text>
<text transform="translate(1448.75 1522.13) scale(0.9295 1)" font-size="37.18" font-weight="700" fill="#000" xml:space="preserve">HSA5</text>
<clipPath id="c1"><rect x="502.7" y="1285.0" width="245.1" height="158.9"/></clipPath>
<g clip-path="url(#c1)" stroke-width="0.6" stroke-linejoin="round" shape-rendering="crispEdges"><rect x="502.7" y="1285.0" width="245.1" height="158.9" fill="#0000FF"/><path d="M701 1318L697 1305L690 1305L688 1340L689 1341Z" fill="#FF0000" stroke="#FF0000"/><path d="M627 1352L622 1371L618 1375L616 1338L618 1331L625 1336Z" fill="#0000FF" stroke="#0000FF"/><path d="M656 1399L658 1444L661 1444L667 1401L667 1399Z" fill="#00FF00" stroke="#00FF00"/><path d="M519 1296L526 1302L527 1285L519 1285Z" fill="#00FF00" stroke="#00FF00"/><path d="M703 1354L703 1343L715 1357L713 1362L705 1364Z" fill="#FF0000" stroke="#FF0000"/><path d="M678 1285L679 1301L690 1305L697 1305L698 1285Z" fill="#00FF00" stroke="#00FF00"/><path d="M601 1410L608 1437L619 1416L620 1395L618 1379L607 1384Z" fill="#00FF00" stroke="#00FF00"/><path d="M560 1419L567 1444L559 1444L552 1418L554 1416L558 1417Z" fill="#0000FF" stroke="#0000FF"/><path d="M725 1285L730 1285L731 1300L721 1307L721 1294Z" fill="#0000FF" stroke="#0000FF"/><path d="M516 1358L503 1360L503 1397L519 1372L520 1365Z" fill="#0000FF" stroke="#0000FF"/><path d="M732 1348L738 1335L737 1330L730 1347Z" fill="#0000FF" stroke="#0000FF"/><path d="M550 1360L561 1351L562 1342L557 1336L549 1356Z" fill="#FF0000" stroke="#FF0000"/><path d="M503 1308L506 1305L511 1303L513 1305L512 1318L510 1322Z" fill="#FFFF00" stroke="#FFFF00"/><path d="M603 1354L603 1351L604 1342L606 1340L616 1338L618 1375L618 1379L607 1384Z" fill="#FF0000" stroke="#FF0000"/><path d="M551 1296L551 1307L557 1336L562 1342L568 1334L569 1330L569 1314L569 1312L566 1309Z" fill="#00FF00" stroke="#00FF00"/><path d="M560 1372L561 1351L550 1360L551 1366L552 1369Z" fill="#800080" stroke="#800080"/><path d="M575 1308L569 1314L569 1312L569 1285L577 1285Z" fill="#FF0000" stroke="#FF0000"/><path d="M705 1364L713 1362L711 1386L704 1379Z" fill="#0000FF" stroke="#0000FF"/><path d="M670 1332L668 1338L663 1346L652 1329L652 1329L651 1315L652 1285L658 1285Z" fill="#FF0000" stroke="#FF0000"/><path d="M743 1418L748 1413L748 1444L744 1444Z" fill="#FFFF00" stroke="#FFFF00"/><path d="M529 1360L538 1352L539 1347L537 1322L528 1326L528 1330L525 1358Z" fill="#0000FF" stroke="#0000FF"/><path d="M682 1377L687 1405L682 1444L681 1444L675 1413L680 1379Z" fill="#FF0000" stroke="#FF0000"/><path d="M738 1361L735 1374L729 1348L730 1347L732 1348L738 1359Z" fill="#00FF00" stroke="#00FF00"/><path d="M704 1379L711 1386L712 1395L706 1415L698 1391L699 1388Z" fill="#FF0000" stroke="#FF0000"/><path d="M572 1390L573 1375L579 1368L581 1372L581 1373L576 1399Z" fill="#FF0000" stroke="#FF0000"/><path d="M721 1436L715 1426L717 1410L727 1415Z" fill="#FFFF00" stroke="#FFFF00"/><path d="M630 1393L620 1395L618 1379L618 1375L622 1371L631 1370Z" fill="#00FF00" stroke="#00FF00"/><path d="M509 1334L512 1338L512 1318L510 1322Z" fill="#0000FF" stroke="#0000FF"/><path d="M703 1354L703 1343L701 1318L701 1318L694 1359L700 1359Z" fill="#FFFF00" stroke="#FFFF00"/><path d="M551 1366L542 1380L546 1350L546 1350L549 1356L550 1360Z" fill="#0000FF" stroke="#0000FF"/><path d="M680 1379L674 1379L672 1407L675 1413Z" fill="#00FF00" stroke="#00FF00"/><path d="M589 1358L591 1370L593 1375L603 1354L603 1351L593 1346Z" fill="#00FF00" stroke="#00FF00"/><path d="M639 1418L624 1424L623 1424L619 1416L620 1395L630 1393Z" fill="#FF0000" stroke="#FF0000"/><path d="M635 1364L633 1366L627 1352L625 1336L635 1328L636 1333Z" fill="#FF0000" stroke="#FF0000"/><path d="M635 1285L634 1290L618 1315L612 1285Z" fill="#0000FF" stroke="#0000FF"/><path d="M503 1397L503 1423L518 1406L521 1400L519 1372Z" fill="#00FF00" stroke="#00FF00"/><path d="M733 1392L734 1384L748 1371L748 1393L736 1397Z" fill="#FF0000" stroke="#FF0000"/><path d="M593 1321L602 1332L604 1285L596 1285L592 1310L593 1321Z" fill="#800080" stroke="#800080"/><path d="M624 1444L628 1444L624 1424L623 1424Z" fill="#00FF00" stroke="#00FF00"/><path d="M687 1366L690 1355L694 1359L696 1391L696 1391Z" fill="#FF0000" stroke="#FF0000"/><path d="M716 1341L703 1317L711 1301L720 1311L720 1315Z" fill="#0000FF" stroke="#0000FF"/><path d="M639 1418L624 1424L628 1444L642 1444L639 1418Z" fill="#0000FF" stroke="#0000FF"/><path d="M640 1369L647 1369L646 1338L645 1339Z" fill="#FF0000" stroke="#FF0000"/><path d="M572 1390L573 1375L570 1355L568 1363L567 1390L568 1392Z" fill="#00FF00" stroke="#00FF00"/><path d="M730 1285L744 1285L732 1305L731 1300Z" fill="#FF0000" stroke="#FF0000"/><path d="M696 1409L696 1391L687 1405L682 1444L692 1444Z" fill="#0000FF" stroke="#0000FF"/><path d="M732 1393L731 1393L727 1391L716 1402L717 1410L727 1415L729 1412Z" fill="#800080" stroke="#800080"/><path d="M703 1354L705 1364L704 1379L699 1388L700 1359Z" fill="#FF0000" stroke="#FF0000"/><path d="M639 1371L635 1364L636 1333L645 1339L640 1369Z" fill="#0000FF" stroke="#0000FF"/><path d="M518 1406L519 1444L503 1444L503 1423Z" fill="#00FF00" stroke="#00FF00"/><path d="M649 1315L635 1313L635 1322Z" fill="#0000FF" stroke="#0000FF"/><path d="M633 1366L627 1352L622 1371L631 1370Z" fill="#00FF00" stroke="#00FF00"/><path d="M585 1348L587 1356L589 1358L593 1346L593 1321L593 1321L591 1324Z" fill="#FF0000" stroke="#FF0000"/><path d="M639 1371L641 1409L639 1418L639 1418L630 1393L631 1370L633 1366L635 1364Z" fill="#FFFF00" stroke="#FFFF00"/><path d="M652 1329L650 1374L653 1385L661 1362L663 1346Z" fill="#0000FF" stroke="#0000FF"/><path d="M503 1308L503 1332L509 1334L510 1322L503 1308Z" fill="#00FF00" stroke="#00FF00"/><path d="M552 1369L551 1366L542 1380L542 1383L548 1394L551 1380Z" fill="#0000FF" stroke="#0000FF"/><path d="M712 1395L706 1415L706 1415L710 1428L715 1426L717 1410L716 1402L714 1396Z" fill="#FFFF00" stroke="#FFFF00"/><path d="M706 1415L706 1415L698 1431L696 1409L696 1391L696 1391L696 1391L698 1391Z" fill="#FF0000" stroke="#FF0000"/><path d="M571 1433L566 1406L560 1419L567 1444L570 1444L571 1433Z" fill="#0000FF" stroke="#0000FF"/><path d="M673 1326L664 1285L678 1285L679 1301L676 1322Z" fill="#FF0000" stroke="#FF0000"/><path d="M503 1308L506 1305L507 1285L503 1285L503 1308Z" fill="#FF0000" stroke="#FF0000"/><path d="M676 1322L679 1331L688 1340L690 1305L679 1301Z" fill="#800080" stroke="#800080"/><path d="M533 1395L528 1387L523 1361L525 1358L529 1360L535 1388Z" fill="#00FF00" stroke="#00FF00"/><path d="M583 1306L592 1310L596 1285L583 1285Z" fill="#0000FF" stroke="#0000FF"/><path d="M540 1383L542 1383L542 1380L546 1350L539 1347L538 1352Z" fill="#FF0000" stroke="#FF0000"/><path d="M546 1350L539 1347L537 1322L542 1286L543 1285L548 1285L551 1296L551 1307L546 1350Z" fill="#FF0000" stroke="#FF0000"/><path d="M670 1332L668 1338L670 1350L682 1373L682 1371L679 1331L676 1322L673 1326Z" fill="#FFFF00" stroke="#FFFF00"/><path d="M585 1348L587 1356L581 1372L579 1368L578 1352L583 1344Z" fill="#FF0000" stroke="#FF0000"/><path d="M509 1334L512 1338L513 1338L516 1358L503 1360L503 1332Z" fill="#0000FF" stroke="#0000FF"/><path d="M602 1332L604 1285L608 1285L606 1340L604 1342Z" fill="#00FF00" stroke="#00FF00"/><path d="M526 1410L531 1444L533 1444L527 1410Z" fill="#0000FF" stroke="#0000FF"/><path d="M635 1328L625 1336L618 1331L618 1315L634 1290L635 1313L635 1322Z" fill="#00FF00" stroke="#00FF00"/><path d="M639 1418L642 1444L658 1444L656 1399L653 1388L641 1409Z" fill="#0000FF" stroke="#0000FF"/><path d="M507 1285L510 1285L511 1303L506 1305Z" fill="#FF0000" stroke="#FF0000"/><path d="M533 1395L532 1406L543 1434L539 1384L535 1388Z" fill="#0000FF" stroke="#0000FF"/><path d="M539 1384L543 1434L544 1436L549 1420L548 1394L542 1383L540 1383Z" fill="#00FF00" stroke="#00FF00"/><path d="M663 1346L661 1362L667 1384L673 1378L670 1350L668 1338Z" fill="#800080" stroke="#800080"/><path d="M549 1420L544 1436L543 1444L559 1444L552 1418Z" fill="#FFFF00" stroke="#FFFF00"/><path d="M700 1359L694 1359L694 1359L696 1391L698 1391L699 1388Z" fill="#FFFF00" stroke="#FFFF00"/><path d="M560 1372L560 1372L563 1385L556 1399L555 1390Z" fill="#FF0000" stroke="#FF0000"/><path d="M594 1406L593 1375L603 1354L607 1384L601 1410Z" fill="#0000FF" stroke="#0000FF"/><path d="M576 1399L581 1373L584 1380L585 1404L578 1401L577 1401Z" fill="#0000FF" stroke="#0000FF"/><path d="M513 1338L518 1315L519 1318L520 1327L522 1361L520 1365L516 1358Z" fill="#FF0000" stroke="#FF0000"/><path d="M739 1444L737 1401L743 1418L744 1444Z" fill="#FF0000" stroke="#FF0000"/><path d="M571 1433L577 1401L578 1401L580 1427L571 1433Z" fill="#00FF00" stroke="#00FF00"/><path d="M571 1433L580 1427L580 1428L585 1444L570 1444Z" fill="#0000FF" stroke="#0000FF"/><path d="M682 1371L679 1331L688 1340L689 1341L690 1355L687 1366Z" fill="#00FF00" stroke="#00FF00"/><path d="M563 1285L569 1285L569 1312L566 1309Z" fill="#0000FF" stroke="#0000FF"/><path d="M721 1294L721 1307L720 1311L711 1301L712 1285L720 1285Z" fill="#0000FF" stroke="#0000FF"/><path d="M710 1428L709 1444L695 1444L698 1431L706 1415Z" fill="#0000FF" stroke="#0000FF"/><path d="M635 1313L634 1290L635 1285L652 1285L651 1315L649 1315Z" fill="#FFFF00" stroke="#FFFF00"/><path d="M710 1428L709 1444L721 1444L721 1436L715 1426Z" fill="#0000FF" stroke="#0000FF"/><path d="M682 1377L682 1373L670 1350L673 1378L674 1379L680 1379Z" fill="#0000FF" stroke="#0000FF"/><path d="M593 1346L603 1351L604 1342L602 1332L593 1321Z" fill="#FF0000" stroke="#FF0000"/><path d="M551 1380L548 1394L549 1420L552 1418L554 1416L556 1399L555 1390Z" fill="#FF0000" stroke="#FF0000"/><path d="M616 1338L606 1340L608 1285L612 1285L618 1315L618 1331Z" fill="#0000FF" stroke="#0000FF"/><path d="M533 1395L532 1406L527 1410L526 1410L526 1410L524 1406L528 1387Z" fill="#0000FF" stroke="#0000FF"/><path d="M579 1368L578 1352L571 1346L570 1355L573 1375Z" fill="#FF0000" stroke="#FF0000"/><path d="M580 1428L585 1444L587 1444L592 1409L585 1404Z" fill="#00FF00" stroke="#00FF00"/><path d="M725 1285L720 1285L721 1294Z" fill="#800080" stroke="#800080"/><path d="M549 1356L557 1336L551 1307L546 1350Z" fill="#00FF00" stroke="#00FF00"/><path d="M737 1401L736 1397L748 1393L748 1413L743 1418Z" fill="#FF0000" stroke="#FF0000"/><path d="M582 1326L581 1311L583 1306L592 1310L593 1321L591 1324Z" fill="#FF0000" stroke="#FF0000"/><path d="M675 1413L672 1407L667 1401L661 1444L681 1444Z" fill="#FF0000" stroke="#FF0000"/><path d="M727 1346L729 1348L730 1347L737 1330L736 1323L734 1317L730 1326Z" fill="#FF0000" stroke="#FF0000"/><path d="M719 1383L727 1391L716 1402L714 1396Z" fill="#FFFF00" stroke="#FFFF00"/><path d="M624 1444L608 1444L608 1437L619 1416L623 1424Z" fill="#FF0000" stroke="#FF0000"/><path d="M563 1385L564 1387L558 1417L554 1416L556 1399Z" fill="#00FF00" stroke="#00FF00"/><path d="M517 1305L518 1315L519 1318L527 1321L527 1304L526 1302L519 1296Z" fill="#0000FF" stroke="#0000FF"/><path d="M723 1325L720 1315L720 1311L721 1307L731 1300L732 1305L734 1317L730 1326Z" fill="#00FF00" stroke="#00FF00"/><path d="M682 1377L682 1373L682 1371L687 1366L696 1391L696 1391L687 1405Z" fill="#0000FF" stroke="#0000FF"/><path d="M716 1357L717 1353L716 1341L703 1317L701 1318L703 1343L715 1357Z" fill="#0000FF" stroke="#0000FF"/><path d="M585 1348L591 1324L582 1326L582 1331L583 1344Z" fill="#00FF00" stroke="#00FF00"/><path d="M716 1357L719 1383L714 1396L712 1395L711 1386L713 1362L715 1357Z" fill="#FF0000" stroke="#FF0000"/><path d="M737 1401L739 1444L733 1444L729 1412L732 1393L733 1392L736 1397Z" fill="#0000FF" stroke="#0000FF"/><path d="M535 1388L539 1384L540 1383L538 1352L529 1360Z" fill="#FFFF00" stroke="#FFFF00"/><path d="M526 1302L527 1285L543 1285L542 1286L527 1304Z" fill="#00FF00" stroke="#00FF00"/><path d="M526 1410L522 1444L519 1444L518 1406L521 1400L524 1406Z" fill="#FF0000" stroke="#FF0000"/><path d="M698 1431L696 1409L692 1444L695 1444Z" fill="#00FF00" stroke="#00FF00"/><path d="M585 1404L592 1409L594 1406L593 1375L591 1370L584 1380L585 1404Z" fill="#FF0000" stroke="#FF0000"/><path d="M701 1318L689 1341L690 1355L694 1359L694 1359L701 1318Z" fill="#0000FF" stroke="#0000FF"/><path d="M636 1333L635 1328L635 1322L649 1315L651 1315L652 1329L646 1338L645 1339Z" fill="#FF0000" stroke="#FF0000"/><path d="M520 1327L519 1318L527 1321L528 1326L528 1330Z" fill="#00FF00" stroke="#00FF00"/><path d="M716 1357L717 1353L723 1354L731 1393L727 1391L719 1383Z" fill="#00FF00" stroke="#00FF00"/><path d="M732 1393L731 1393L723 1354L724 1349L727 1346L729 1348L735 1374L734 1384L733 1392Z" fill="#0000FF" stroke="#0000FF"/><path d="M571 1433L577 1401L576 1399L572 1390L568 1392L566 1406Z" fill="#0000FF" stroke="#0000FF"/><path d="M701 1318L697 1305L698 1285L712 1285L711 1301L703 1317L701 1318L701 1318Z" fill="#FF0000" stroke="#FF0000"/><path d="M670 1332L658 1285L664 1285L673 1326Z" fill="#FF0000" stroke="#FF0000"/><path d="M527 1410L533 1444L543 1444L544 1436L543 1434L532 1406Z" fill="#FF0000" stroke="#FF0000"/><path d="M512 1338L512 1318L513 1305L517 1305L518 1315L513 1338Z" fill="#FF0000" stroke="#FF0000"/><path d="M740 1344L748 1340L748 1363Z" fill="#FF0000" stroke="#FF0000"/><path d="M527 1321L527 1304L542 1286L537 1322L528 1326Z" fill="#FF0000" stroke="#FF0000"/><path d="M566 1406L568 1392L567 1390L564 1387L558 1417L560 1419Z" fill="#00FF00" stroke="#00FF00"/><path d="M526 1410L531 1444L522 1444L526 1410Z" fill="#00FF00" stroke="#00FF00"/><path d="M594 1406L592 1409L587 1444L608 1444L608 1437L601 1410Z" fill="#FF0000" stroke="#FF0000"/><path d="M724 1349L723 1325L730 1326L727 1346Z" fill="#0000FF" stroke="#0000FF"/><path d="M560 1372L560 1372L568 1363L570 1355L571 1346L568 1334L562 1342L561 1351L560 1372Z" fill="#00FF00" stroke="#00FF00"/><path d="M528 1387L524 1406L521 1400L519 1372L520 1365L522 1361L523 1361Z" fill="#FFFF00" stroke="#FFFF00"/><path d="M510 1285L519 1285L519 1296L517 1305L513 1305L511 1303Z" fill="#FFFF00" stroke="#FFFF00"/><path d="M739 1344L738 1335L737 1330L736 1323L748 1312L748 1340L740 1344Z" fill="#00FF00" stroke="#00FF00"/><path d="M652 1329L646 1338L647 1369L650 1374L652 1329Z" fill="#FF0000" stroke="#FF0000"/><path d="M583 1285L583 1306L581 1311L575 1308L577 1285Z" fill="#00FF00" stroke="#00FF00"/><path d="M729 1412L727 1415L721 1436L721 1444L733 1444Z" fill="#0000FF" stroke="#0000FF"/><path d="M734 1317L736 1323L748 1312L748 1285L744 1285L732 1305Z" fill="#0000FF" stroke="#0000FF"/><path d="M560 1372L555 1390L551 1380L552 1369L560 1372Z" fill="#0000FF" stroke="#0000FF"/><path d="M738 1361L748 1366L748 1371L734 1384L735 1374Z" fill="#FFFF00" stroke="#FFFF00"/><path d="M667 1399L667 1401L672 1407L674 1379L673 1378L667 1384Z" fill="#00FF00" stroke="#00FF00"/><path d="M560 1372L568 1363L567 1390L564 1387L563 1385Z" fill="#0000FF" stroke="#0000FF"/><path d="M582 1331L569 1330L569 1314L575 1308L581 1311L582 1326Z" fill="#0000FF" stroke="#0000FF"/><path d="M523 1361L522 1361L520 1327L528 1330L525 1358Z" fill="#FFFF00" stroke="#FFFF00"/><path d="M738 1361L748 1366L748 1363L740 1344L739 1344L738 1359Z" fill="#800080" stroke="#800080"/><path d="M653 1388L656 1399L667 1399L667 1384L661 1362L653 1385Z" fill="#0000FF" stroke="#0000FF"/><path d="M738 1359L732 1348L738 1335L739 1344Z" fill="#FFFF00" stroke="#FFFF00"/><path d="M583 1344L578 1352L571 1346L568 1334L569 1330L582 1331Z" fill="#800080" stroke="#800080"/><path d="M580 1427L578 1401L585 1404L585 1404L580 1428Z" fill="#00FF00" stroke="#00FF00"/><path d="M723 1354L724 1349L723 1325L720 1315L716 1341L717 1353Z" fill="#FFFF00" stroke="#FFFF00"/><path d="M589 1358L591 1370L584 1380L581 1373L581 1372L587 1356Z" fill="#FF0000" stroke="#FF0000"/><path d="M639 1371L641 1409L653 1388L653 1385L650 1374L647 1369L640 1369Z" fill="#FF0000" stroke="#FF0000"/><path d="M551 1296L566 1309L563 1285L548 1285Z" fill="#800080" stroke="#800080"/><path d="M762 1331L763 1336L756 1348L755 1339L755 1329L756 1327L758 1324Z" fill="#00FF00" stroke="#00FF00"/><path d="M523 1419L523 1419L523 1422L523 1444L529 1444Z" fill="#00FF00" stroke="#00FF00"/><path d="M696 1416L698 1427L699 1432L700 1435L704 1425L704 1425Z" fill="#00FF00" stroke="#00FF00"/><path d="M456 1436L453 1444L447 1444L459 1408L460 1412Z" fill="#FF0000" stroke="#FF0000"/><path d="M665 1351L669 1321L672 1324L673 1336L665 1352Z" fill="#0000FF" stroke="#0000FF"/><path d="M597 1394L600 1398L605 1417L603 1416L597 1401Z" fill="#0000FF" stroke="#0000FF"/><path d="M723 1323L734 1303L740 1305L737 1314L721 1337L718 1336L722 1326Z" fill="#FFFF00" stroke="#FFFF00"/><path d="M674 1303L669 1305L667 1314L669 1321L673 1324L674 1309Z" fill="#FFFF00" stroke="#FFFF00"/><path d="M799 1360L805 1365L803 1350L798 1342L792 1338L791 1342Z" fill="#0000FF" stroke="#0000FF"/><path d="M778 1398L778 1402L777 1422L773 1411L772 1408L774 1396L775 1392Z" fill="#0000FF" stroke="#0000FF"/><path d="M663 1351L665 1301L665 1301L662 1315L660 1334L661 1350Z" fill="#00FF00" stroke="#00FF00"/><path d="M641 1296L632 1319L632 1308L634 1305L641 1295Z" fill="#FF0000" stroke="#FF0000"/><path d="M494 1383L496 1410L493 1417L492 1409L494 1384Z" fill="#0000FF" stroke="#0000FF"/><path d="M579 1383L573 1416L572 1415L571 1413L572 1396L576 1382L577 1381L579 1383Z" fill="#FF0000" stroke="#FF0000"/><path d="M533 1390L531 1387L527 1387L529 1416L532 1406L533 1398Z" fill="#FFFF00" stroke="#FFFF00"/><path d="M717 1350L717 1350L706 1331L693 1318L694 1321Z" fill="#00FF00" stroke="#00FF00"/><path d="M490 1338L490 1338L488 1339L478 1354L472 1368L472 1368L483 1357L485 1353Z" fill="#00FF00" stroke="#00FF00"/><path d="M627 1322L625 1291L623 1285L620 1285L618 1303L619 1307L621 1315L623 1318Z" fill="#0000FF" stroke="#0000FF"/><path d="M512 1285L502 1285L520 1309L516 1292Z" fill="#FF0000" stroke="#FF0000"/><path d="M664 1428L661 1423L660 1432L664 1430Z" fill="#FF0000" stroke="#FF0000"/><path d="M515 1292L520 1309L531 1322L531 1317L527 1285L515 1285Z" fill="#FFFF00" stroke="#FFFF00"/><path d="M697 1404L703 1416L706 1427L696 1403L697 1403Z" fill="#FF0000" stroke="#FF0000"/><path d="M785 1369L796 1390L799 1396L799 1396L794 1380Z" fill="#00FF00" stroke="#00FF00"/><path d="M557 1429L567 1411L575 1401L576 1405L569 1415L563 1423Z" fill="#FF0000" stroke="#FF0000"/><path d="M491 1393L486 1405L482 1412L480 1414L482 1399L483 1394L488 1389Z" fill="#00FF00" stroke="#00FF00"/><path d="M481 1346L477 1354L469 1368L471 1354L478 1341L484 1335Z" fill="#FF0000" stroke="#FF0000"/><path d="M621 1334L619 1323L621 1327L628 1349L628 1358L626 1352Z" fill="#800080" stroke="#800080"/><path d="M510 1326L499 1315L495 1317L495 1317L522 1345Z" fill="#0000FF" stroke="#0000FF"/><path d="M749 1361L750 1354L750 1342L742 1361L737 1382L737 1385L743 1375Z" fill="#0000FF" stroke="#0000FF"/><path d="M649 1315L644 1326L643 1333L657 1318L660 1310L661 1300L650 1313Z" fill="#FF0000" stroke="#FF0000"/><path d="M715 1350L693 1321L694 1323L711 1350Z" fill="#0000FF" stroke="#0000FF"/><path d="M652 1444L658 1431L664 1422L664 1423L661 1432L653 1444Z" fill="#0000FF" stroke="#0000FF"/><path d="M805 1311L806 1311L807 1309L809 1308L804 1285L800 1285L804 1309Z" fill="#00FF00" stroke="#00FF00"/><path d="M738 1423L741 1418L731 1426L725 1437L734 1430Z" fill="#0000FF" stroke="#0000FF"/><path d="M558 1358L557 1359L556 1356L556 1351L558 1346L562 1341L568 1334L562 1348Z" fill="#0000FF" stroke="#0000FF"/><path d="M650 1444L656 1431L661 1415L662 1412L651 1430L649 1444Z" fill="#0000FF" stroke="#0000FF"/><path d="M589 1428L593 1429L594 1425L591 1416L588 1412L584 1413L584 1413L585 1418Z" fill="#0000FF" stroke="#0000FF"/><path d="M713 1310L726 1285L729 1285L725 1303L719 1323L717 1323Z" fill="#FF0000" stroke="#FF0000"/><path d="M770 1285L777 1285L782 1298L779 1297Z" fill="#FF0000" stroke="#FF0000"/><path d="M492 1383L492 1383L493 1371L496 1372L501 1401L500 1410L500 1410Z" fill="#00FF00" stroke="#00FF00"/><path d="M460 1347L461 1337L467 1344L464 1353Z" fill="#FF0000" stroke="#FF0000"/><path d="M486 1353L485 1357L485 1363L488 1365L493 1354L494 1345L494 1342L492 1342Z" fill="#00FF00" stroke="#00FF00"/><path d="M754 1428L750 1420L745 1444L751 1444Z" fill="#0000FF" stroke="#0000FF"/><path d="M452 1303L452 1296L455 1285L459 1285Z" fill="#FF0000" stroke="#FF0000"/><path d="M748 1306L749 1285L755 1285L749 1306Z" fill="#00FF00" stroke="#00FF00"/><path d="M549 1308L542 1327L541 1315L540 1307L543 1299L549 1285L554 1285L551 1303Z" fill="#FFFF00" stroke="#FFFF00"/><path d="M475 1285L481 1285L478 1297L473 1298L473 1294Z" fill="#0000FF" stroke="#0000FF"/><path d="M673 1385L677 1410L677 1411L685 1420L685 1412L684 1404L676 1387L674 1383L674 1383Z" fill="#00FF00" stroke="#00FF00"/><path d="M691 1405L691 1404L687 1402L685 1405L694 1428L703 1439L702 1435L701 1432Z" fill="#00FF00" stroke="#00FF00"/><path d="M681 1325L690 1348L690 1365L688 1361L682 1345L680 1323Z" fill="#FFFF00" stroke="#FFFF00"/><path d="M668 1428L671 1427L679 1436L680 1444L671 1444Z" fill="#0000FF" stroke="#0000FF"/><path d="M680 1338L681 1336L682 1309L677 1285L677 1285L675 1299Z" fill="#0000FF" stroke="#0000FF"/><path d="M467 1425L466 1437L464 1444L463 1444L465 1427Z" fill="#0000FF" stroke="#0000FF"/><path d="M656 1358L662 1350L667 1334L659 1338L655 1347L655 1355Z" fill="#0000FF" stroke="#0000FF"/><path d="M656 1399L660 1366L663 1358L667 1350L669 1351L669 1351L669 1352L669 1365L667 1372L657 1402Z" fill="#0000FF" stroke="#0000FF"/><path d="M632 1297L633 1291L634 1285L637 1285L633 1298Z" fill="#0000FF" stroke="#0000FF"/><path d="M572 1343L578 1338L565 1362L565 1355Z" fill="#800080" stroke="#800080"/><path d="M514 1422L509 1419L508 1423L519 1444L525 1444Z" fill="#0000FF" stroke="#0000FF"/><path d="M594 1392L590 1382L597 1388L601 1394L602 1401L602 1403Z" fill="#0000FF" stroke="#0000FF"/><path d="M697 1387L702 1403L703 1404L711 1416L704 1397L697 1384Z" fill="#0000FF" stroke="#0000FF"/><path d="M699 1397L706 1403L709 1418L708 1416Z" fill="#FF0000" stroke="#FF0000"/><path d="M536 1444L537 1434L536 1425L532 1431L530 1444Z" fill="#00FF00" stroke="#00FF00"/><path d="M500 1429L494 1417L501 1442Z" fill="#0000FF" stroke="#0000FF"/><path d="M753 1410L759 1424L756 1444L753 1444L752 1428L753 1412Z" fill="#FFFF00" stroke="#FFFF00"/><path d="M461 1316L467 1299L471 1285L465 1285L457 1318Z" fill="#0000FF" stroke="#0000FF"/><path d="M737 1357L738 1355L748 1343L741 1361L729 1382L731 1372L736 1358Z" fill="#FF0000" stroke="#FF0000"/><path d="M579 1423L579 1426L581 1444L573 1444L578 1423Z" fill="#0000FF" stroke="#0000FF"/><path d="M461 1384L460 1361L455 1383L460 1387Z" fill="#0000FF" stroke="#0000FF"/><path d="M605 1323L612 1325L606 1301L600 1285L595 1285L602 1313Z" fill="#0000FF" stroke="#0000FF"/><path d="M590 1413L590 1413L583 1387L583 1394L585 1405Z" fill="#00FF00" stroke="#00FF00"/><path d="M762 1303L764 1304L767 1285L760 1285L761 1297Z" fill="#0000FF" stroke="#0000FF"/><path d="M638 1295L640 1285L639 1285L633 1298L632 1305Z" fill="#FFFF00" stroke="#FFFF00"/><path d="M737 1304L730 1317L726 1314L730 1305L743 1285L746 1285Z" fill="#0000FF" stroke="#0000FF"/><path d="M454 1355L464 1337L466 1330L455 1344L449 1358L449 1358L453 1357Z" fill="#FF0000" stroke="#FF0000"/><path d="M716 1342L708 1330L706 1319Z" fill="#FF0000" stroke="#FF0000"/><path d="M492 1403L493 1409L493 1417L489 1432L486 1412L489 1405Z" fill="#00FF00" stroke="#00FF00"/><path d="M750 1402L726 1431L726 1430L730 1423L747 1402L751 1401Z" fill="#FF0000" stroke="#FF0000"/><path d="M559 1342L554 1350L551 1358L549 1368L550 1367L550 1367L559 1351L560 1346Z" fill="#FF0000" stroke="#FF0000"/><path d="M538 1390L531 1343L528 1337L527 1334L535 1387L537 1390Z" fill="#0000FF" stroke="#0000FF"/><path d="M547 1358L570 1331L574 1323L573 1323L554 1348Z" fill="#800080" stroke="#800080"/><path d="M735 1426L731 1437L727 1444L721 1444L725 1437L735 1422L736 1423Z" fill="#00FF00" stroke="#00FF00"/><path d="M653 1294L650 1300L649 1310L659 1297Z" fill="#0000FF" stroke="#0000FF"/><path d="M679 1357L677 1345L678 1345L686 1361L685 1362L682 1364Z" fill="#800080" stroke="#800080"/><path d="M805 1408L804 1395L803 1394L802 1404L804 1409L805 1408Z" fill="#FF0000" stroke="#FF0000"/><path d="M741 1402L738 1412L738 1412L738 1415L747 1406L753 1392L758 1375L749 1385L741 1401Z" fill="#0000FF" stroke="#0000FF"/><path d="M631 1444L627 1444L631 1429L641 1406L643 1405L640 1424Z" fill="#FF0000" stroke="#FF0000"/><path d="M748 1335L739 1354L739 1342L741 1327L743 1323L750 1314L752 1315Z" fill="#0000FF" stroke="#0000FF"/><path d="M488 1332L497 1350L506 1366L508 1362L508 1358Z" fill="#FFFF00" stroke="#FFFF00"/><path d="M633 1308L631 1309L630 1303L633 1297L634 1298L634 1305Z" fill="#00FF00" stroke="#00FF00"/><path d="M569 1381L564 1383L574 1365Z" fill="#00FF00" stroke="#00FF00"/><path d="M451 1436L457 1412L471 1395L458 1425Z" fill="#00FF00" stroke="#00FF00"/><path d="M682 1323L673 1309L679 1336L686 1345L687 1345Z" fill="#FF0000" stroke="#FF0000"/><path d="M554 1308L547 1327L546 1331L549 1350L552 1342Z" fill="#0000FF" stroke="#0000FF"/><path d="M572 1384L566 1400L565 1401L558 1411L548 1421L554 1409L568 1388L568 1388Z" fill="#FF0000" stroke="#FF0000"/><path d="M619 1365L620 1368L630 1387L626 1365Z" fill="#FF0000" stroke="#FF0000"/><path d="M495 1417L501 1442L502 1444L497 1444L494 1432L491 1417L492 1410L492 1410Z" fill="#FF0000" stroke="#FF0000"/><path d="M549 1348L556 1334L564 1323L567 1321L568 1323Z" fill="#0000FF" stroke="#0000FF"/><path d="M467 1437L463 1444L472 1444L473 1438L475 1426Z" fill="#FF0000" stroke="#FF0000"/><path d="M622 1433L616 1434L615 1421L618 1421Z" fill="#0000FF" stroke="#0000FF"/><path d="M781 1428L778 1429L784 1444L791 1444L787 1436Z" fill="#0000FF" stroke="#0000FF"/><path d="M732 1444L734 1437L749 1412L749 1412L743 1426Z" fill="#FFFF00" stroke="#FFFF00"/><path d="M779 1407L781 1428L779 1430L776 1422L775 1402Z" fill="#0000FF" stroke="#0000FF"/><path d="M491 1365L495 1354L496 1371L492 1383L491 1371Z" fill="#0000FF" stroke="#0000FF"/><path d="M652 1444L659 1430L648 1439L645 1444Z" fill="#FF0000" stroke="#FF0000"/><path d="M734 1391L735 1387L728 1393L721 1407L732 1396Z" fill="#00FF00" stroke="#00FF00"/><path d="M714 1343L719 1346L717 1337L715 1332Z" fill="#FFFF00" stroke="#FFFF00"/><path d="M799 1398L787 1381L779 1370L778 1369L785 1387L798 1400Z" fill="#00FF00" stroke="#00FF00"/><path d="M587 1362L582 1338L585 1343L595 1363L595 1366L595 1375L594 1374Z" fill="#00FF00" stroke="#00FF00"/><path d="M804 1381L797 1365L795 1350L804 1360L807 1386Z" fill="#00FF00" stroke="#00FF00"/><path d="M513 1315L508 1317L494 1285L498 1285Z" fill="#FFFF00" stroke="#FFFF00"/><path d="M693 1373L699 1382L699 1379L691 1364L688 1361L689 1365Z" fill="#00FF00" stroke="#00FF00"/><path d="M771 1312L774 1308L777 1323L772 1322Z" fill="#00FF00" stroke="#00FF00"/><path d="M588 1391L590 1392L596 1403L599 1411L598 1416L595 1412L587 1395Z" fill="#FF0000" stroke="#FF0000"/><path d="M459 1318L454 1324L454 1321L457 1311L467 1285L468 1285Z" fill="#FF0000" stroke="#FF0000"/><path d="M638 1332L637 1343L645 1334L647 1329L643 1325L643 1325Z" fill="#FF0000" stroke="#FF0000"/><path d="M477 1338L476 1338L480 1321L480 1321L486 1312L487 1319L485 1324Z" fill="#FFFF00" stroke="#FFFF00"/><path d="M679 1385L678 1385L668 1372L666 1365L668 1354L680 1383Z" fill="#00FF00" stroke="#00FF00"/><path d="M474 1294L468 1305L465 1299L469 1285L475 1285Z" fill="#FFFF00" stroke="#FFFF00"/><path d="M757 1391L753 1397L751 1390L754 1382Z" fill="#00FF00" stroke="#00FF00"/><path d="M507 1424L516 1431L502 1411L497 1409Z" fill="#0000FF" stroke="#0000FF"/><path d="M448 1358L449 1342L453 1332L454 1335L453 1344Z" fill="#0000FF" stroke="#0000FF"/><path d="M754 1390L752 1392L749 1406L750 1412L751 1410L756 1397Z" fill="#FF0000" stroke="#FF0000"/><path d="M544 1435L543 1444L549 1444L551 1439L552 1437L553 1415Z" fill="#FF0000" stroke="#FF0000"/><path d="M663 1428L667 1416L667 1411L666 1402L665 1399L664 1400L660 1415L659 1422L659 1423Z" fill="#0000FF" stroke="#0000FF"/><path d="M768 1371L770 1369L772 1345L770 1337L767 1338L767 1358Z" fill="#FF0000" stroke="#FF0000"/><path d="M688 1370L683 1370L690 1387L690 1378Z" fill="#FF0000" stroke="#FF0000"/><path d="M780 1398L783 1400L801 1436L794 1428L786 1415L779 1400Z" fill="#FF0000" stroke="#FF0000"/><path d="M703 1418L705 1425L706 1425L716 1444L723 1444L717 1424L705 1397L702 1403Z" fill="#FF0000" stroke="#FF0000"/><path d="M808 1337L806 1309L808 1308Z" fill="#FF0000" stroke="#FF0000"/><path d="M511 1390L510 1394L523 1409L527 1410L520 1396L515 1388L514 1388Z" fill="#800080" stroke="#800080"/><path d="M719 1380L719 1378L729 1353L729 1353L724 1372Z" fill="#FF0000" stroke="#FF0000"/><path d="M618 1344L617 1344L616 1350L619 1359L621 1365L624 1368L624 1365L623 1358L622 1352Z" fill="#FF0000" stroke="#FF0000"/><path d="M765 1386L767 1419L762 1432L758 1419L765 1387Z" fill="#00FF00" stroke="#00FF00"/><path d="M662 1291L666 1285L653 1285L647 1294L653 1297Z" fill="#0000FF" stroke="#0000FF"/><path d="M753 1369L759 1347L749 1362L750 1370Z" fill="#0000FF" stroke="#0000FF"/><path d="M518 1340L510 1329L496 1318L500 1326L513 1345L517 1350L518 1349Z" fill="#00FF00" stroke="#00FF00"/><path d="M696 1299L690 1285L700 1285L699 1303Z" fill="#0000FF" stroke="#0000FF"/><path d="M483 1338L481 1353L488 1342L491 1326L488 1324Z" fill="#FF0000" stroke="#FF0000"/><path d="M766 1382L769 1411L766 1419L762 1386L762 1385L762 1384Z" fill="#0000FF" stroke="#0000FF"/><path d="M794 1369L792 1367L790 1363L788 1360L796 1365L806 1381L803 1380Z" fill="#0000FF" stroke="#0000FF"/><path d="M662 1361L664 1358L663 1357L661 1359L637 1393L637 1396L637 1396Z" fill="#00FF00" stroke="#00FF00"/><path d="M631 1384L631 1386L637 1366L631 1363Z" fill="#0000FF" stroke="#0000FF"/><path d="M744 1437L750 1426L736 1444L736 1444L738 1444Z" fill="#00FF00" stroke="#00FF00"/><path d="M595 1391L594 1395L588 1387L587 1382L592 1384Z" fill="#00FF00" stroke="#00FF00"/><path d="M555 1308L549 1342L550 1346L552 1341L558 1311L557 1303Z" fill="#0000FF" stroke="#0000FF"/><path d="M630 1361L630 1363L632 1384L626 1399L624 1398L624 1387L628 1365Z" fill="#0000FF" stroke="#0000FF"/><path d="M651 1428L652 1424L645 1431L635 1444L643 1444L645 1439Z" fill="#FF0000" stroke="#FF0000"/><path d="M494 1366L494 1372L506 1401L511 1404L509 1397L496 1362Z" fill="#FFFF00" stroke="#FFFF00"/><path d="M807 1389L808 1386L807 1402L804 1408L805 1395Z" fill="#00FF00" stroke="#00FF00"/><path d="M653 1329L650 1334L636 1357L637 1359L639 1357L660 1326L665 1315Z" fill="#FFFF00" stroke="#FFFF00"/><path d="M587 1425L591 1434L595 1444L593 1444L591 1440L586 1429Z" fill="#0000FF" stroke="#0000FF"/><path d="M767 1376L772 1395L772 1408L772 1411L771 1411L765 1382Z" fill="#00FF00" stroke="#00FF00"/><path d="M776 1430L775 1422L773 1411L772 1411L769 1419L766 1432L766 1444L775 1444Z" fill="#0000FF" stroke="#0000FF"/><path d="M759 1329L757 1339L754 1347L745 1362L744 1361L745 1354L752 1335Z" fill="#00FF00" stroke="#00FF00"/><path d="M609 1385L609 1385L609 1399L616 1424L616 1401L615 1395L612 1387Z" fill="#00FF00" stroke="#00FF00"/><path d="M578 1383L582 1391L583 1402L578 1423L577 1423L576 1416Z" fill="#0000FF" stroke="#0000FF"/><path d="M617 1318L614 1315L614 1329L623 1350L623 1344Z" fill="#FF0000" stroke="#FF0000"/><path d="M605 1293L617 1331L612 1325L602 1301Z" fill="#FF0000" stroke="#FF0000"/><path d="M568 1362L569 1367L578 1340L579 1333L575 1338Z" fill="#FF0000" stroke="#FF0000"/><path d="M447 1305L442 1321L447 1326L452 1314L452 1310L448 1301Z" fill="#00FF00" stroke="#00FF00"/><path d="M538 1403L535 1421L535 1425L538 1434L541 1425L541 1412L539 1407Z" fill="#FFFF00" stroke="#FFFF00"/><path d="M651 1338L652 1333L662 1318L666 1315L659 1334Z" fill="#00FF00" stroke="#00FF00"/><path d="M802 1311L810 1344L809 1337L804 1309Z" fill="#00FF00" stroke="#00FF00"/><path d="M635 1406L634 1392L633 1386L633 1384L625 1399L629 1429Z" fill="#0000FF" stroke="#0000FF"/><path d="M690 1336L700 1356L700 1358L698 1364L695 1361L689 1350Z" fill="#00FF00" stroke="#00FF00"/><path d="M723 1370L736 1339L727 1353L719 1372Z" fill="#FF0000" stroke="#FF0000"/><path d="M701 1350L701 1350L716 1369L716 1382L699 1357L698 1350Z" fill="#0000FF" stroke="#0000FF"/><path d="M794 1397L802 1409L800 1397L797 1391Z" fill="#0000FF" stroke="#0000FF"/><path d="M471 1321L478 1312L484 1301L486 1297L480 1298L473 1311L471 1322Z" fill="#0000FF" stroke="#0000FF"/><path d="M802 1342L802 1338L797 1327L787 1311L786 1311L793 1330L800 1339Z" fill="#0000FF" stroke="#0000FF"/><path d="M457 1314L457 1321L448 1335L447 1332L449 1326Z" fill="#0000FF" stroke="#0000FF"/><path d="M623 1444L619 1433L613 1434L613 1440L613 1444Z" fill="#FF0000" stroke="#FF0000"/><path d="M594 1413L597 1412L589 1395L583 1387L583 1387Z" fill="#800080" stroke="#800080"/><path d="M742 1315L740 1314L751 1285L753 1285L748 1306Z" fill="#0000FF" stroke="#0000FF"/><path d="M665 1428L668 1416L669 1428L669 1444L663 1444L664 1430Z" fill="#FF0000" stroke="#FF0000"/><path d="M637 1374L644 1360L646 1357L647 1364L642 1371Z" fill="#00FF00" stroke="#00FF00"/><path d="M574 1428L575 1423L570 1429L567 1433L563 1444L568 1444Z" fill="#FF0000" stroke="#FF0000"/><path d="M802 1311L801 1311L784 1285L790 1285L802 1304Z" fill="#00FF00" stroke="#00FF00"/><path d="M638 1357L639 1364L644 1357L655 1334L646 1343Z" fill="#00FF00" stroke="#00FF00"/><path d="M691 1308L693 1317L693 1325L691 1323L683 1309L672 1285L678 1285L683 1292Z" fill="#00FF00" stroke="#00FF00"/><path d="M539 1350L546 1336L547 1331L542 1323L532 1337L533 1343L536 1351L538 1350Z" fill="#00FF00" stroke="#00FF00"/><path d="M624 1421L622 1404L621 1400L612 1395L613 1401L621 1421Z" fill="#FFFF00" stroke="#FFFF00"/><path d="M764 1387L758 1419L756 1424L752 1410L756 1397L760 1391Z" fill="#FFFF00" stroke="#FFFF00"/><path d="M692 1301L691 1308L686 1292L690 1296Z" fill="#0000FF" stroke="#0000FF"/><path d="M583 1402L586 1405L586 1394L583 1383L582 1385L581 1391Z" fill="#FF0000" stroke="#FF0000"/><path d="M544 1385L545 1387L555 1368L557 1358L552 1360L545 1377Z" fill="#FF0000" stroke="#FF0000"/><path d="M770 1312L769 1304L772 1285L774 1307L774 1308Z" fill="#0000FF" stroke="#0000FF"/><path d="M750 1318L760 1285L756 1285L750 1306Z" fill="#00FF00" stroke="#00FF00"/><path d="M587 1434L586 1428L583 1418L581 1425L588 1440Z" fill="#00FF00" stroke="#00FF00"/><path d="M510 1355L514 1364L514 1365L518 1370L524 1375L515 1360Z" fill="#0000FF" stroke="#0000FF"/><path d="M588 1416L589 1411L595 1420L597 1423L601 1435L598 1434L592 1425Z" fill="#0000FF" stroke="#0000FF"/><path d="M802 1350L801 1342L804 1311L805 1311L808 1344L807 1361L806 1360Z" fill="#0000FF" stroke="#0000FF"/><path d="M621 1433L625 1444L630 1444L616 1404L618 1421Z" fill="#00FF00" stroke="#00FF00"/><path d="M637 1325L637 1325L649 1313L646 1304Z" fill="#0000FF" stroke="#0000FF"/><path d="M716 1346L717 1337L724 1323L726 1323L726 1326L716 1352Z" fill="#00FF00" stroke="#00FF00"/><path d="M622 1303L616 1285L622 1285Z" fill="#0000FF" stroke="#0000FF"/><path d="M806 1395L806 1389L800 1388L804 1394Z" fill="#FF0000" stroke="#FF0000"/><path d="M777 1428L775 1430L777 1444L783 1444L780 1429Z" fill="#FF0000" stroke="#FF0000"/><path d="M542 1350L540 1351L536 1379L539 1379Z" fill="#FF0000" stroke="#FF0000"/><path d="M605 1417L614 1431L607 1409L597 1397L596 1398Z" fill="#0000FF" stroke="#0000FF"/><path d="M753 1327L754 1318L754 1306L753 1306L748 1315L746 1335L753 1329Z" fill="#FF0000" stroke="#FF0000"/><path d="M540 1407L540 1412L543 1410L544 1403L545 1386Z" fill="#FF0000" stroke="#FF0000"/><path d="M585 1301L599 1327L600 1329L600 1327L586 1285L580 1285Z" fill="#FF0000" stroke="#FF0000"/><path d="M507 1370L518 1390L518 1394L518 1394L512 1386L511 1384L503 1365Z" fill="#00FF00" stroke="#00FF00"/><path d="M666 1430L662 1444L656 1444L662 1432Z" fill="#FF0000" stroke="#FF0000"/><path d="M633 1405L638 1399L640 1394L649 1369L635 1392L631 1406Z" fill="#0000FF" stroke="#0000FF"/><path d="M493 1354L499 1371L502 1372L502 1366L497 1350L491 1343L490 1345Z" fill="#FF0000" stroke="#FF0000"/><path d="M544 1381L545 1378L547 1377L549 1385L544 1403L543 1386Z" fill="#0000FF" stroke="#0000FF"/><path d="M540 1318L543 1315L546 1327L545 1331L545 1331L539 1323Z" fill="#00FF00" stroke="#00FF00"/><path d="M575 1383L580 1363L580 1347L578 1340L573 1367L573 1381Z" fill="#0000FF" stroke="#0000FF"/><path d="M577 1362L576 1364L558 1390L549 1400L557 1384L574 1363Z" fill="#FF0000" stroke="#FF0000"/><path d="M520 1444L510 1431L498 1411L497 1407L510 1423L524 1444Z" fill="#00FF00" stroke="#00FF00"/><path d="M700 1380L699 1379L691 1364L692 1358L700 1377Z" fill="#FF0000" stroke="#FF0000"/><path d="M458 1337L458 1337L459 1330L460 1324L465 1318L468 1316L468 1317L466 1337L464 1344Z" fill="#00FF00" stroke="#00FF00"/><path d="M693 1380L691 1379L691 1382L692 1388L696 1402L701 1404L697 1392Z" fill="#FF0000" stroke="#FF0000"/><path d="M753 1402L749 1412L728 1437L730 1431Z" fill="#FF0000" stroke="#FF0000"/><path d="M552 1372L553 1367L563 1351L563 1356L553 1371Z" fill="#0000FF" stroke="#0000FF"/><path d="M558 1309L567 1299L576 1285L567 1285L556 1304Z" fill="#00FF00" stroke="#00FF00"/><path d="M495 1345L496 1343L496 1340L491 1311L488 1306L494 1342Z" fill="#0000FF" stroke="#0000FF"/><path d="M481 1354L470 1376L471 1393L472 1393L475 1390L483 1368L483 1368Z" fill="#FF0000" stroke="#FF0000"/><path d="M708 1387L708 1387L699 1377L691 1358L691 1356L693 1357L707 1382L708 1384Z" fill="#FFFF00" stroke="#FFFF00"/><path d="M690 1318L692 1311L698 1327L694 1326Z" fill="#FF0000" stroke="#FF0000"/><path d="M515 1375L523 1388L518 1390L510 1370Z" fill="#FFFF00" stroke="#FFFF00"/><path d="M765 1358L768 1338L767 1335L764 1337L762 1352Z" fill="#00FF00" stroke="#00FF00"/><path d="M443 1305L445 1285L450 1285L445 1301Z" fill="#FFFF00" stroke="#FFFF00"/><path d="M559 1367L558 1368L549 1387L548 1394L549 1404L554 1395Z" fill="#00FF00" stroke="#00FF00"/><path d="M479 1322L479 1311L476 1314L474 1319L468 1338L468 1341L472 1335Z" fill="#0000FF" stroke="#0000FF"/><path d="M689 1433L688 1428L697 1439L699 1444L690 1444Z" fill="#0000FF" stroke="#0000FF"/><path d="M574 1365L563 1383L557 1390L574 1364Z" fill="#00FF00" stroke="#00FF00"/><path d="M629 1294L633 1291L633 1285L626 1285L627 1291Z" fill="#00FF00" stroke="#00FF00"/><path d="M558 1323L557 1321L570 1304L572 1309L559 1323Z" fill="#800080" stroke="#800080"/><path d="M538 1403L536 1421L535 1419L533 1398L533 1390L533 1390L536 1391L538 1399Z" fill="#FF0000" stroke="#FF0000"/><path d="M694 1301L696 1299L691 1285L689 1285L692 1296Z" fill="#0000FF" stroke="#0000FF"/><path d="M468 1387L460 1412L460 1418L475 1396L476 1393L477 1376L474 1378Z" fill="#FF0000" stroke="#FF0000"/><path d="M483 1321L482 1338L481 1339L478 1340Z" fill="#0000FF" stroke="#0000FF"/><path d="M542 1299L538 1289L539 1285L546 1285Z" fill="#FF0000" stroke="#FF0000"/><path d="M451 1314L452 1321L455 1321L458 1311L458 1303L458 1296L452 1310Z" fill="#00FF00" stroke="#00FF00"/><path d="M586 1434L591 1440L588 1429L585 1428Z" fill="#00FF00" stroke="#00FF00"/><path d="M680 1340L673 1309L672 1303L672 1299L681 1338Z" fill="#FF0000" stroke="#FF0000"/><path d="M688 1318L687 1317L685 1325L692 1348L693 1348L691 1326Z" fill="#FF0000" stroke="#FF0000"/><path d="M632 1323L629 1327L629 1354L634 1340L635 1334Z" fill="#FFFF00" stroke="#FFFF00"/><path d="M798 1339L791 1330L777 1313L778 1320L798 1353Z" fill="#00FF00" stroke="#00FF00"/><path d="M735 1401L746 1385L748 1382L751 1372L729 1396L727 1400L731 1402Z" fill="#FF0000" stroke="#FF0000"/><path d="M751 1382L748 1390L746 1392L746 1375L751 1361L752 1362L754 1370Z" fill="#FF0000" stroke="#FF0000"/><path d="M763 1337L763 1336L758 1348L759 1364Z" fill="#FFFF00" stroke="#FFFF00"/><path d="M688 1380L692 1388L694 1402L693 1405L687 1400L684 1387L686 1378Z" fill="#0000FF" stroke="#0000FF"/><path d="M640 1366L629 1386L628 1392L640 1369L642 1365Z" fill="#0000FF" stroke="#0000FF"/><path d="M642 1331L640 1334L636 1340L631 1364L635 1360L636 1357L643 1343L644 1332Z" fill="#FFFF00" stroke="#FFFF00"/><path d="M773 1374L770 1369L768 1371L767 1376L773 1395L773 1377L773 1377Z" fill="#0000FF" stroke="#0000FF"/><path d="M640 1296L638 1304L640 1313L641 1313L649 1300L652 1294L656 1285L645 1285L640 1295Z" fill="#FFFF00" stroke="#FFFF00"/><path d="M630 1309L633 1323L631 1327L628 1327L626 1323L626 1322L622 1291L624 1294L628 1303Z" fill="#FF0000" stroke="#FF0000"/><path d="M522 1364L526 1375L527 1373L527 1331L526 1327L518 1345Z" fill="#FF0000" stroke="#FF0000"/><path d="M652 1313L652 1313L651 1315L639 1329L636 1325Z" fill="#FF0000" stroke="#FF0000"/><path d="M543 1381L544 1378L542 1350L542 1350L541 1379L542 1381Z" fill="#00FF00" stroke="#00FF00"/><path d="M621 1359L612 1351L610 1344L608 1333L611 1329L619 1350Z" fill="#FF0000" stroke="#FF0000"/><path d="M478 1346L475 1354L485 1339L482 1340Z" fill="#FFFF00" stroke="#FFFF00"/><path d="M679 1361L678 1362L681 1387L690 1404L690 1400L688 1387L683 1370L681 1365Z" fill="#FF0000" stroke="#FF0000"/><path d="M640 1424L650 1405L649 1399L643 1405L635 1424L633 1431Z" fill="#FF0000" stroke="#FF0000"/><path d="M702 1384L702 1382L704 1369L704 1369L713 1382L719 1397L716 1403L710 1397Z" fill="#800080" stroke="#800080"/><path d="M450 1344L450 1335L457 1321L460 1321L460 1324L459 1330Z" fill="#00FF00" stroke="#00FF00"/><path d="M689 1301L691 1299L694 1303L696 1311L694 1318L692 1317L690 1308Z" fill="#0000FF" stroke="#0000FF"/><path d="M770 1297L773 1307L773 1308L781 1323L788 1330L786 1320L774 1298Z" fill="#FF0000" stroke="#FF0000"/><path d="M762 1337L765 1335L768 1308L766 1304L764 1303L761 1331L762 1336L762 1337Z" fill="#800080" stroke="#800080"/><path d="M753 1412L751 1406L746 1415L746 1420L751 1428Z" fill="#FF0000" stroke="#FF0000"/><path d="M565 1429L573 1411L563 1421L562 1423L558 1431L562 1433Z" fill="#0000FF" stroke="#0000FF"/><path d="M508 1424L510 1432L507 1429L498 1417L494 1410L492 1401L497 1404L500 1409Z" fill="#00FF00" stroke="#00FF00"/><path d="M583 1365L586 1360L583 1343L581 1343L579 1347L580 1363Z" fill="#FFFF00" stroke="#FFFF00"/><path d="M489 1366L482 1387L487 1381L488 1374Z" fill="#0000FF" stroke="#0000FF"/><path d="M537 1403L539 1407L544 1386L545 1381L544 1381L537 1399Z" fill="#00FF00" stroke="#00FF00"/><path d="M726 1391L751 1358L744 1372L724 1396L724 1396Z" fill="#FF0000" stroke="#FF0000"/><path d="M447 1431L444 1444L440 1444L445 1421L447 1421Z" fill="#00FF00" stroke="#00FF00"/><path d="M775 1370L775 1381L779 1392L783 1398L780 1382Z" fill="#FF0000" stroke="#FF0000"/><path d="M577 1383L582 1391L583 1385L581 1365L578 1363L577 1383Z" fill="#00FF00" stroke="#00FF00"/><path d="M768 1371L766 1376L764 1382L760 1384L765 1352L768 1358Z" fill="#00FF00" stroke="#00FF00"/><path d="M730 1377L722 1388L722 1388L723 1380L728 1372L731 1370L731 1371Z" fill="#0000FF" stroke="#0000FF"/><path d="M594 1435L592 1423L604 1444L599 1444Z" fill="#FF0000" stroke="#FF0000"/><path d="M597 1384L587 1366L587 1375L592 1382Z" fill="#FF0000" stroke="#FF0000"/><path d="M465 1352L462 1366L460 1384L460 1387L461 1389L463 1387L467 1378L468 1370Z" fill="#0000FF" stroke="#0000FF"/><path d="M464 1387L464 1389L462 1395L450 1412L449 1408L449 1404L452 1389L453 1386L459 1383Z" fill="#0000FF" stroke="#0000FF"/><path d="M445 1305L446 1285L445 1285L440 1322L441 1321Z" fill="#0000FF" stroke="#0000FF"/><path d="M481 1316L480 1319L478 1312L484 1301L489 1298Z" fill="#0000FF" stroke="#0000FF"/><path d="M621 1327L627 1349L634 1360L633 1354L625 1327Z" fill="#00FF00" stroke="#00FF00"/><path d="M544 1435L542 1428L540 1444L545 1444Z" fill="#0000FF" stroke="#0000FF"/><path d="M776 1381L772 1377L772 1377L777 1396L778 1392Z" fill="#00FF00" stroke="#00FF00"/><path d="M743 1402L739 1400L737 1403L730 1418L727 1423Z" fill="#FF0000" stroke="#FF0000"/><path d="M534 1425L535 1421L535 1419L533 1406L528 1416L528 1416L530 1431Z" fill="#00FF00" stroke="#00FF00"/><path d="M524 1373L527 1387L531 1387L531 1334L531 1331Z" fill="#FF0000" stroke="#FF0000"/><path d="M571 1299L580 1285L583 1285L558 1331L563 1315Z" fill="#FFFF00" stroke="#FFFF00"/><path d="M722 1437L729 1422L730 1414L724 1418Z" fill="#FF0000" stroke="#FF0000"/><path d="M562 1423L548 1439L549 1437L558 1414Z" fill="#0000FF" stroke="#0000FF"/><path d="M580 1382L579 1381L574 1383L569 1390L561 1400L561 1401L562 1405L570 1396Z" fill="#0000FF" stroke="#0000FF"/><path d="M804 1408L808 1402L808 1422L804 1408Z" fill="#800080" stroke="#800080"/><path d="M462 1352L464 1370L467 1353L463 1347Z" fill="#00FF00" stroke="#00FF00"/><path d="M580 1343L577 1347L575 1340L575 1333L575 1331L582 1304L582 1305Z" fill="#00FF00" stroke="#00FF00"/><path d="M751 1327L744 1342L729 1361L737 1343Z" fill="#FF0000" stroke="#FF0000"/><path d="M695 1380L699 1392L703 1387L695 1377Z" fill="#00FF00" stroke="#00FF00"/><path d="M630 1303L628 1294L633 1291L633 1297Z" fill="#FF0000" stroke="#FF0000"/><path d="M694 1433L684 1418L682 1412L681 1404L682 1400L688 1405L694 1428Z" fill="#FFFF00" stroke="#FFFF00"/><path d="M495 1358L495 1358L496 1362L518 1397L518 1386L517 1384Z" fill="#00FF00" stroke="#00FF00"/><path d="M624 1334L622 1323L622 1322L617 1318L622 1344L623 1344Z" fill="#FF0000" stroke="#FF0000"/><path d="M696 1435L697 1439L700 1444L712 1444L698 1425Z" fill="#FF0000" stroke="#FF0000"/><path d="M445 1436L444 1444L445 1444L458 1408L459 1404L453 1414Z" fill="#0000FF" stroke="#0000FF"/><path d="M580 1402L582 1405L586 1413L586 1418L584 1425L581 1426L580 1423Z" fill="#FF0000" stroke="#FF0000"/><path d="M507 1394L514 1407L514 1411L509 1409L504 1404L501 1397L501 1386Z" fill="#00FF00" stroke="#00FF00"/><path d="M482 1321L481 1322L474 1335L472 1346L476 1340L482 1321Z" fill="#0000FF" stroke="#0000FF"/><path d="M794 1380L796 1381L799 1386L799 1386L801 1391L798 1397L797 1396Z" fill="#00FF00" stroke="#00FF00"/><path d="M717 1371L731 1357L733 1355L739 1337L737 1336L735 1339L717 1370Z" fill="#FF0000" stroke="#FF0000"/><path d="M614 1359L617 1365L620 1387L616 1385L604 1351Z" fill="#00FF00" stroke="#00FF00"/><path d="M729 1388L729 1393L727 1407L724 1414L719 1418L716 1419L729 1388Z" fill="#00FF00" stroke="#00FF00"/><path d="M519 1355L512 1344L508 1340L508 1349L523 1364Z" fill="#FF0000" stroke="#FF0000"/><path d="M641 1374L647 1360L643 1364L642 1365L640 1369L629 1394L637 1382Z" fill="#FF0000" stroke="#FF0000"/><path d="M778 1407L783 1415L788 1428L784 1429L781 1428L778 1407Z" fill="#FF0000" stroke="#FF0000"/><path d="M497 1332L500 1350L494 1343L495 1340L497 1329Z" fill="#FF0000" stroke="#FF0000"/><path d="M484 1285L493 1285L481 1298L475 1301L477 1297Z" fill="#00FF00" stroke="#00FF00"/><path d="M464 1316L463 1317L469 1319L471 1314L473 1305L471 1299Z" fill="#0000FF" stroke="#0000FF"/><path d="M724 1388L722 1419L720 1424L715 1397L713 1382L714 1378L721 1378L723 1380Z" fill="#FF0000" stroke="#FF0000"/><path d="M742 1327L730 1343L720 1355L726 1337L744 1314L747 1317L745 1323Z" fill="#0000FF" stroke="#0000FF"/><path d="M499 1444L499 1442L496 1429L499 1432L505 1444Z" fill="#0000FF" stroke="#0000FF"/><path d="M740 1437L740 1444L743 1444L748 1420L749 1415L748 1412L743 1426Z" fill="#FFFF00" stroke="#FFFF00"/><path d="M453 1358L454 1342L443 1362L441 1369L445 1378L453 1358Z" fill="#00FF00" stroke="#00FF00"/><path d="M673 1385L677 1410L673 1404L672 1385Z" fill="#00FF00" stroke="#00FF00"/><path d="M780 1370L780 1381L775 1377L774 1374L773 1369L775 1358L778 1365Z" fill="#FF0000" stroke="#FF0000"/><path d="M576 1285L588 1285L591 1301L583 1302Z" fill="#FF0000" stroke="#FF0000"/><path d="M741 1430L733 1437L729 1444L735 1444L736 1444L739 1437L741 1431Z" fill="#0000FF" stroke="#0000FF"/><path d="M774 1377L775 1396L771 1408L772 1395Z" fill="#FF0000" stroke="#FF0000"/><path d="M559 1331L558 1336L572 1315L580 1299L572 1309L562 1323Z" fill="#0000FF" stroke="#0000FF"/><path d="M726 1437L726 1418L722 1419L718 1424L713 1444L724 1444Z" fill="#800080" stroke="#800080"/><path d="M810 1330L792 1313L776 1285L777 1285L800 1311Z" fill="#FF0000" stroke="#FF0000"/><path d="M651 1379L654 1369L664 1355L665 1358L661 1366L651 1379Z" fill="#800080" stroke="#800080"/><path d="M593 1403L594 1401L603 1416L601 1420L596 1411Z" fill="#0000FF" stroke="#0000FF"/><path d="M787 1400L791 1415L785 1407L778 1387L779 1387Z" fill="#0000FF" stroke="#0000FF"/><path d="M698 1387L698 1387L694 1392L698 1404L699 1405L702 1403L703 1403Z" fill="#FF0000" stroke="#FF0000"/><path d="M680 1383L682 1387L680 1362L676 1364Z" fill="#00FF00" stroke="#00FF00"/><path d="M532 1398L531 1406L536 1419Z" fill="#00FF00" stroke="#00FF00"/><path d="M490 1384L485 1393L482 1389L484 1387L491 1381Z" fill="#0000FF" stroke="#0000FF"/><path d="M587 1385L581 1365L582 1360L583 1362L589 1374L588 1383Z" fill="#FF0000" stroke="#FF0000"/><path d="M680 1383L681 1383L679 1364L678 1357L672 1347L672 1354Z" fill="#FFFF00" stroke="#FFFF00"/><path d="M799 1327L801 1338L805 1342L801 1311L800 1309L798 1307Z" fill="#FF0000" stroke="#FF0000"/><path d="M450 1436L449 1431L445 1444L449 1444Z" fill="#0000FF" stroke="#0000FF"/><path d="M561 1323L560 1311L552 1341L556 1334Z" fill="#0000FF" stroke="#0000FF"/><path d="M601 1391L603 1392L599 1382L591 1369L585 1363L586 1366L596 1384Z" fill="#800080" stroke="#800080"/><path d="M806 1404L801 1397L799 1391L798 1386L799 1388L804 1394Z" fill="#FF0000" stroke="#FF0000"/><path d="M568 1363L557 1384L553 1388L557 1372L558 1371L569 1360Z" fill="#FF0000" stroke="#FF0000"/><path d="M605 1351L617 1385L617 1385L611 1381L601 1352L602 1344Z" fill="#FF0000" stroke="#FF0000"/><path d="M604 1327L589 1285L591 1285L605 1313Z" fill="#FF0000" stroke="#FF0000"/><path d="M594 1360L584 1343L581 1332L584 1327L585 1329L590 1338L596 1362Z" fill="#800080" stroke="#800080"/><path d="M521 1421L522 1422L516 1419L512 1409L515 1410Z" fill="#FF0000" stroke="#FF0000"/><path d="M581 1302L580 1304L572 1331L572 1331L575 1285L581 1285Z" fill="#00FF00" stroke="#00FF00"/><path d="M667 1401L639 1428L631 1439L642 1430L659 1412L667 1402Z" fill="#0000FF" stroke="#0000FF"/><path d="M734 1377L730 1387L723 1393L724 1388Z" fill="#FF0000" stroke="#FF0000"/><path d="M712 1347L718 1369L718 1369L707 1350L701 1331L701 1330L709 1342Z" fill="#FF0000" stroke="#FF0000"/><path d="M499 1329L498 1340L491 1311L498 1319Z" fill="#00FF00" stroke="#00FF00"/><path d="M565 1343L571 1338L575 1333L576 1331L576 1331L576 1315L567 1336Z" fill="#00FF00" stroke="#00FF00"/><path d="M616 1329L619 1315L617 1307L610 1293L610 1293L612 1331L612 1333Z" fill="#FF0000" stroke="#FF0000"/><path d="M488 1326L491 1299L492 1306L492 1342L490 1342Z" fill="#800080" stroke="#800080"/><path d="M503 1394L516 1409L522 1419L522 1423L510 1407L503 1394Z" fill="#00FF00" stroke="#00FF00"/><path d="M646 1296L646 1304L638 1325L634 1332L631 1331L636 1319Z" fill="#0000FF" stroke="#0000FF"/><path d="M596 1417L607 1431L614 1444L610 1444L594 1423L593 1420L594 1416Z" fill="#00FF00" stroke="#00FF00"/><path d="M654 1379L638 1396L664 1361L660 1369Z" fill="#0000FF" stroke="#0000FF"/><path d="M577 1302L578 1304L578 1305L592 1332L595 1327L585 1301Z" fill="#FFFF00" stroke="#FFFF00"/><path d="M676 1303L671 1305L669 1285L679 1285L677 1299Z" fill="#FFFF00" stroke="#FFFF00"/><path d="M736 1285L727 1285L722 1303L728 1305Z" fill="#0000FF" stroke="#0000FF"/><path d="M710 1345L710 1343L715 1346L717 1352L719 1359L720 1378L720 1382L713 1369L710 1347Z" fill="#FFFF00" stroke="#FFFF00"/><path d="M689 1373L694 1382L695 1388L691 1380Z" fill="#FF0000" stroke="#FF0000"/><path d="M488 1363L491 1365L490 1371L486 1374L487 1366Z" fill="#00FF00" stroke="#00FF00"/><path d="M469 1317L465 1337L469 1338L474 1319Z" fill="#00FF00" stroke="#00FF00"/><path d="M585 1343L573 1305L586 1332L587 1343Z" fill="#0000FF" stroke="#0000FF"/><path d="M681 1418L678 1412L678 1420L680 1436L682 1444L691 1444Z" fill="#0000FF" stroke="#0000FF"/><path d="M577 1415L567 1428L568 1423L572 1415L577 1413Z" fill="#0000FF" stroke="#0000FF"/><path d="M517 1375L518 1373L525 1387L532 1416L532 1416L531 1419L531 1419L520 1396L517 1388Z" fill="#00FF00" stroke="#00FF00"/><path d="M568 1381L574 1367L575 1362L575 1355L569 1362L568 1364L568 1365L566 1381L567 1382Z" fill="#FF0000" stroke="#FF0000"/><path d="M465 1444L467 1444L486 1393L485 1393L484 1396L466 1438Z" fill="#FF0000" stroke="#FF0000"/><path d="M517 1355L514 1344L516 1345L524 1364L519 1360Z" fill="#0000FF" stroke="#0000FF"/><path d="M546 1413L553 1394L554 1404L554 1410L553 1414L549 1437L546 1415Z" fill="#0000FF" stroke="#0000FF"/><path d="M660 1399L667 1366L660 1379L658 1399L659 1400Z" fill="#FFFF00" stroke="#FFFF00"/><path d="M712 1311L713 1310L722 1323L720 1337L718 1332Z" fill="#FFFF00" stroke="#FFFF00"/><path d="M466 1389L464 1395L458 1425L460 1427L462 1425L467 1412L468 1387Z" fill="#0000FF" stroke="#0000FF"/><path d="M559 1421L564 1409L558 1410L555 1414L557 1423L557 1423Z" fill="#0000FF" stroke="#0000FF"/><path d="M793 1398L795 1400L798 1402L796 1396L792 1390L785 1382L782 1381Z" fill="#FF0000" stroke="#FF0000"/><path d="M490 1414L492 1399L469 1444L474 1444Z" fill="#FF0000" stroke="#FF0000"/><path d="M679 1340L679 1341L675 1336L669 1324L668 1309Z" fill="#FF0000" stroke="#FF0000"/><path d="M512 1360L517 1364L523 1375L525 1388L524 1388L518 1375Z" fill="#FF0000" stroke="#FF0000"/><path d="M490 1444L480 1444L487 1414L489 1412L492 1432Z" fill="#0000FF" stroke="#0000FF"/><path d="M705 1416L705 1418L708 1425L700 1416L696 1404Z" fill="#00FF00" stroke="#00FF00"/><path d="M586 1440L587 1444L583 1444L577 1426L579 1425Z" fill="#0000FF" stroke="#0000FF"/><path d="M488 1403L490 1409L494 1384L494 1385Z" fill="#FF0000" stroke="#FF0000"/><path d="M530 1317L537 1303L538 1289L538 1285L528 1285Z" fill="#FF0000" stroke="#FF0000"/><path d="M481 1324L482 1319L484 1316L496 1292L495 1299L485 1326Z" fill="#FF0000" stroke="#FF0000"/><path d="M722 1353L722 1353L714 1359L716 1352L730 1326L729 1336L728 1339Z" fill="#FFFF00" stroke="#FFFF00"/><path d="M613 1365L616 1368L624 1387L627 1398L627 1400L618 1395L614 1387Z" fill="#FF0000" stroke="#FF0000"/><path d="M535 1399L535 1391L539 1379L543 1379L544 1381Z" fill="#00FF00" stroke="#00FF00"/><path d="M691 1444L690 1444L679 1418L690 1433Z" fill="#FF0000" stroke="#FF0000"/><path d="M634 1429L623 1399L621 1398L620 1400L621 1404L630 1444L636 1444Z" fill="#FF0000" stroke="#FF0000"/><path d="M782 1396L785 1402L818 1444L820 1444L796 1409L784 1397L783 1396Z" fill="#0000FF" stroke="#0000FF"/><path d="M596 1338L590 1329L589 1327L589 1313L597 1323L606 1340L601 1343Z" fill="#FF0000" stroke="#FF0000"/><path d="M460 1444L486 1393L489 1390L489 1394L487 1399L461 1444Z" fill="#FF0000" stroke="#FF0000"/><path d="M489 1374L488 1381L488 1384L491 1385L491 1384L492 1383L492 1383L493 1371Z" fill="#00FF00" stroke="#00FF00"/><path d="M613 1293L609 1285L602 1285L611 1301L613 1293Z" fill="#00FF00" stroke="#00FF00"/><path d="M528 1419L513 1396L517 1410L522 1421L528 1422Z" fill="#0000FF" stroke="#0000FF"/><path d="M643 1431L643 1424L634 1444L638 1444Z" fill="#00FF00" stroke="#00FF00"/><path d="M778 1297L771 1285L769 1285L769 1285L778 1307Z" fill="#0000FF" stroke="#0000FF"/><path d="M693 1296L689 1285L684 1285L688 1292Z" fill="#00FF00" stroke="#00FF00"/><path d="M596 1363L587 1343L593 1340L602 1358L604 1362L602 1369Z" fill="#0000FF" stroke="#0000FF"/><path d="M794 1381L798 1382L790 1367L788 1363L787 1370Z" fill="#0000FF" stroke="#0000FF"/><path d="M516 1364L501 1349L500 1350L504 1358L523 1384L516 1365Z" fill="#0000FF" stroke="#0000FF"/><path d="M635 1308L633 1309L630 1323L633 1334L635 1331L636 1319Z" fill="#00FF00" stroke="#00FF00"/><path d="M582 1416L580 1423L567 1444L567 1444L571 1428L581 1415Z" fill="#FF0000" stroke="#FF0000"/><path d="M799 1404L794 1397L796 1409L805 1444L806 1444L801 1409Z" fill="#FF0000" stroke="#FF0000"/><path d="M464 1425L470 1412L471 1418L470 1426L464 1437Z" fill="#FF0000" stroke="#FF0000"/><path d="M606 1431L611 1444L618 1444L617 1440L611 1424L599 1399L601 1409Z" fill="#0000FF" stroke="#0000FF"/><path d="M513 1309L518 1318L522 1326L511 1315L491 1285L491 1285Z" fill="#0000FF" stroke="#0000FF"/><path d="M771 1322L770 1337L772 1345L775 1345L779 1342L780 1330L776 1323Z" fill="#800080" stroke="#800080"/><path d="M455 1384L460 1366L460 1355L459 1357L458 1361Z" fill="#800080" stroke="#800080"/><path d="M808 1444L808 1422L804 1408L803 1409L799 1444Z" fill="#FFFF00" stroke="#FFFF00"/><path d="M584 1434L589 1440L591 1444L585 1444L585 1440Z" fill="#00FF00" stroke="#00FF00"/><path d="M724 1426L735 1418L744 1403L726 1423Z" fill="#0000FF" stroke="#0000FF"/><path d="M674 1340L674 1341L676 1347L683 1357L682 1345L675 1336L674 1338Z" fill="#FFFF00" stroke="#FFFF00"/><path d="M773 1374L770 1369L771 1345L774 1345L774 1369Z" fill="#FF0000" stroke="#FF0000"/><path d="M791 1387L791 1387L786 1382L777 1370L774 1365L779 1361L785 1369Z" fill="#0000FF" stroke="#0000FF"/><path d="M780 1358L776 1342L773 1345L778 1369Z" fill="#800080" stroke="#800080"/><path d="M599 1382L605 1388L600 1370L597 1362L595 1369Z" fill="#00FF00" stroke="#00FF00"/><path d="M553 1321L551 1323L550 1311L551 1303L560 1285L569 1285L561 1304Z" fill="#FF0000" stroke="#FF0000"/><path d="M659 1422L652 1431L657 1415L663 1415Z" fill="#0000FF" stroke="#0000FF"/><path d="M545 1435L546 1415L545 1413L543 1410L540 1412L541 1425L542 1428Z" fill="#FF0000" stroke="#FF0000"/><path d="M738 1396L738 1396L737 1400L735 1403L723 1423L723 1422L724 1414L728 1407Z" fill="#0000FF" stroke="#0000FF"/><path d="M599 1444L594 1444L590 1434L593 1435Z" fill="#FFFF00" stroke="#FFFF00"/><path d="M727 1377L723 1387L722 1391L743 1358L744 1357L731 1371Z" fill="#00FF00" stroke="#00FF00"/><path d="M491 1363L492 1357L482 1368L474 1390L475 1394L479 1389L480 1387L490 1366Z" fill="#0000FF" stroke="#0000FF"/><path d="M447 1436L451 1414L446 1421L446 1431Z" fill="#0000FF" stroke="#0000FF"/><path d="M559 1358L558 1359L558 1360L556 1363L559 1362L566 1355L575 1343L578 1336L579 1331Z" fill="#FF0000" stroke="#FF0000"/><path d="M648 1393L654 1380L649 1382L639 1394L635 1399L636 1405Z" fill="#FF0000" stroke="#FF0000"/><path d="M648 1369L651 1361L652 1358L662 1347L660 1355Z" fill="#00FF00" stroke="#00FF00"/><path d="M672 1427L680 1436L680 1420L673 1411Z" fill="#FF0000" stroke="#FF0000"/><path d="M603 1370L599 1362L598 1358L600 1352L611 1381L611 1380Z" fill="#0000FF" stroke="#0000FF"/><path d="M745 1285L739 1285L732 1304Z" fill="#0000FF" stroke="#0000FF"/><path d="M514 1350L511 1345L485 1317L486 1319L492 1329L494 1332L519 1358L519 1358Z" fill="#0000FF" stroke="#0000FF"/><path d="M521 1422L514 1421L515 1422L523 1444L526 1444Z" fill="#800080" stroke="#800080"/><path d="M501 1319L495 1311L492 1306L491 1299L489 1292L489 1285L499 1285L501 1317L501 1317Z" fill="#FF0000" stroke="#FF0000"/><path d="M564 1360L551 1371L563 1356L564 1359Z" fill="#0000FF" stroke="#0000FF"/><path d="M739 1444L743 1444L746 1437Z" fill="#00FF00" stroke="#00FF00"/><path d="M761 1385L761 1386L760 1387L757 1391L752 1382L753 1370L755 1369L759 1376Z" fill="#FF0000" stroke="#FF0000"/><path d="M462 1285L454 1311L454 1303L459 1285Z" fill="#0000FF" stroke="#0000FF"/><path d="M667 1416L671 1428L674 1427L674 1411L674 1410L670 1404L666 1411Z" fill="#FFFF00" stroke="#FFFF00"/><path d="M541 1428L541 1425L537 1434L537 1444L540 1444Z" fill="#0000FF" stroke="#0000FF"/><path d="M644 1374L649 1371L644 1380L639 1382Z" fill="#00FF00" stroke="#00FF00"/><path d="M663 1291L663 1301L663 1301L667 1314L670 1305L670 1285L663 1285Z" fill="#00FF00" stroke="#00FF00"/><path d="M507 1444L501 1432L498 1424L505 1431L513 1444Z" fill="#FF0000" stroke="#FF0000"/><path d="M542 1299L540 1307L538 1307L536 1303L539 1289Z" fill="#00FF00" stroke="#00FF00"/><path d="M544 1403L543 1410L545 1413L550 1394L550 1387L549 1385Z" fill="#00FF00" stroke="#00FF00"/><path d="M529 1327L529 1322L529 1317L536 1303L538 1307L539 1318L539 1323L532 1337L531 1334L530 1331Z" fill="#00FF00" stroke="#00FF00"/><path d="M542 1350L549 1336L547 1360L544 1377L542 1378Z" fill="#0000FF" stroke="#0000FF"/><path d="M720 1345L705 1310L702 1308L706 1319L718 1342L721 1347Z" fill="#FF0000" stroke="#FF0000"/><path d="M761 1424L754 1444L765 1444L766 1432L763 1419Z" fill="#800080" stroke="#800080"/><path d="M751 1285L755 1285L740 1314L731 1323L733 1317L739 1304Z" fill="#FFFF00" stroke="#FFFF00"/><path d="M566 1423L565 1423L550 1439L547 1444L557 1444L563 1431Z" fill="#0000FF" stroke="#0000FF"/><path d="M753 1324L750 1327L751 1318L762 1285L764 1285L763 1297Z" fill="#FF0000" stroke="#FF0000"/><path d="M601 1340L610 1358L612 1352L612 1344L608 1333L607 1331L602 1325L595 1323Z" fill="#FF0000" stroke="#FF0000"/><path d="M716 1310L717 1311L718 1310L716 1285L703 1285L714 1308Z" fill="#FF0000" stroke="#FF0000"/><path d="M564 1388L557 1409L551 1410L552 1404L558 1395Z" fill="#0000FF" stroke="#0000FF"/><path d="M770 1285L770 1285L770 1304L767 1308L765 1304L765 1285Z" fill="#FF0000" stroke="#FF0000"/><path d="M648 1401L650 1396L650 1396L666 1379L666 1379L657 1399L647 1402Z" fill="#FFFF00" stroke="#FFFF00"/><path d="M757 1384L757 1385L757 1376L759 1364L768 1337L768 1337L765 1352Z" fill="#0000FF" stroke="#0000FF"/><path d="M803 1327L799 1307L797 1304L796 1311Z" fill="#0000FF" stroke="#0000FF"/><path d="M491 1292L480 1316L483 1298L490 1285L492 1285Z" fill="#800080" stroke="#800080"/><path d="M669 1291L661 1297L653 1310L652 1318L656 1315L665 1301Z" fill="#FF0000" stroke="#FF0000"/><path d="M538 1307L541 1307L542 1315L539 1318Z" fill="#00FF00" stroke="#00FF00"/><path d="M465 1427L464 1425L458 1436L455 1444L462 1444Z" fill="#FF0000" stroke="#FF0000"/><path d="M570 1433L565 1431L558 1444L564 1444Z" fill="#FFFF00" stroke="#FFFF00"/><path d="M713 1319L715 1330L715 1331L705 1318L694 1285L698 1285L710 1308Z" fill="#800080" stroke="#800080"/><path d="M777 1298L793 1320L793 1320L792 1313L779 1285L769 1285Z" fill="#00FF00" stroke="#00FF00"/><path d="M804 1307L807 1309L799 1285L793 1285L802 1304Z" fill="#0000FF" stroke="#0000FF"/><path d="M535 1390L533 1343L537 1351L538 1379L537 1391Z" fill="#0000FF" stroke="#0000FF"/><path d="M448 1414L453 1404L457 1389L441 1416L440 1421L442 1421Z" fill="#FF0000" stroke="#FF0000"/><path d="M468 1426L465 1438L486 1396L470 1418Z" fill="#FF0000" stroke="#FF0000"/><path d="M458 1361L459 1357L455 1358L448 1378L448 1386L454 1383Z" fill="#800080" stroke="#800080"/><path d="M521 1344L523 1345L528 1327L526 1322L512 1309L515 1329L518 1340Z" fill="#FF0000" stroke="#FF0000"/><path d="M621 1334L624 1352L621 1344Z" fill="#00FF00" stroke="#00FF00"/><path d="M591 1394L590 1387L590 1387L588 1382L585 1375L584 1374L584 1383Z" fill="#0000FF" stroke="#0000FF"/><path d="M504 1292L517 1309L526 1329L514 1318L510 1309Z" fill="#0000FF" stroke="#0000FF"/><path d="M689 1326L693 1348L694 1350L697 1336L696 1333L694 1327Z" fill="#FF0000" stroke="#FF0000"/><path d="M793 1365L788 1358L778 1342L772 1330L769 1320L769 1320L793 1353L797 1361Z" fill="#0000FF" stroke="#0000FF"/><path d="M620 1303L620 1307L612 1293L610 1285L616 1285Z" fill="#0000FF" stroke="#0000FF"/><path d="M445 1301L451 1285L455 1285L453 1296L448 1310Z" fill="#00FF00" stroke="#00FF00"/><path d="M666 1402L668 1372L674 1385L671 1404L667 1411Z" fill="#00FF00" stroke="#00FF00"/><path d="M795 1369L789 1361L784 1353L783 1339L785 1342L796 1360L797 1363L796 1370Z" fill="#FF0000" stroke="#FF0000"/><path d="M705 1350L705 1357L703 1356L695 1336L694 1333L696 1323Z" fill="#0000FF" stroke="#0000FF"/><path d="M461 1370L459 1378L462 1376L474 1354L478 1341L478 1338L474 1337L471 1344L467 1353Z" fill="#00FF00" stroke="#00FF00"/><path d="M695 1403L702 1427L703 1432L691 1405Z" fill="#FFFF00" stroke="#FFFF00"/><path d="M777 1402L808 1444L800 1444L794 1436L774 1400Z" fill="#0000FF" stroke="#0000FF"/><path d="M637 1393L660 1359L659 1357L653 1364L648 1371L642 1380L635 1393Z" fill="#FF0000" stroke="#FF0000"/><path d="M622 1358L623 1365L630 1365L631 1361L630 1360L624 1349Z" fill="#FF0000" stroke="#FF0000"/><path d="M692 1373L694 1380L692 1378L690 1370L689 1365Z" fill="#FF0000" stroke="#FF0000"/><path d="M755 1376L752 1369L756 1347L759 1339L760 1348L757 1364Z" fill="#FF0000" stroke="#FF0000"/><path d="M616 1434L615 1440L612 1424L612 1401L616 1421Z" fill="#0000FF" stroke="#0000FF"/><path d="M693 1365L693 1361L689 1350L687 1348L687 1348L687 1365L688 1370L693 1370Z" fill="#00FF00" stroke="#00FF00"/><path d="M657 1401L660 1396L660 1393L659 1393L645 1405L630 1424L628 1428Z" fill="#800080" stroke="#800080"/><path d="M664 1351L669 1321L668 1314L665 1301L664 1351Z" fill="#0000FF" stroke="#0000FF"/><path d="M556 1388L556 1388L548 1395L560 1367L560 1367L560 1372Z" fill="#FF0000" stroke="#FF0000"/><path d="M461 1352L458 1366L456 1355L461 1337L461 1337L461 1347Z" fill="#0000FF" stroke="#0000FF"/><path d="M772 1312L771 1304L768 1308L764 1335L766 1338L769 1337L771 1322Z" fill="#00FF00" stroke="#00FF00"/><path d="M603 1380L603 1381L609 1385L611 1399L611 1409L604 1397Z" fill="#FF0000" stroke="#FF0000"/><path d="M776 1382L779 1398L780 1402L785 1407L786 1407L779 1387Z" fill="#00FF00" stroke="#00FF00"/><path d="M672 1365L666 1352L670 1336L673 1341L674 1347L675 1354Z" fill="#FF0000" stroke="#FF0000"/><path d="M602 1394L600 1388L596 1370L603 1380L606 1397L605 1398Z" fill="#0000FF" stroke="#0000FF"/><path d="M578 1396L571 1405L566 1415L571 1413Z" fill="#FF0000" stroke="#FF0000"/><path d="M451 1378L451 1386L450 1389L437 1416L446 1369Z" fill="#00FF00" stroke="#00FF00"/><path d="M716 1345L716 1343L717 1332L711 1311L710 1310Z" fill="#00FF00" stroke="#00FF00"/><path d="M447 1321L447 1322L434 1362L447 1342L451 1332L452 1326Z" fill="#FF0000" stroke="#FF0000"/><path d="M666 1400L665 1399L656 1402L651 1412L650 1415L656 1415Z" fill="#0000FF" stroke="#0000FF"/><path d="M762 1331L762 1303L760 1297L757 1324Z" fill="#0000FF" stroke="#0000FF"/><path d="M478 1294L470 1305L468 1314L472 1311L477 1298Z" fill="#0000FF" stroke="#0000FF"/><path d="M801 1386L801 1386L802 1388L808 1389L808 1386L806 1361L805 1360Z" fill="#0000FF" stroke="#0000FF"/><path d="M490 1384L492 1385L489 1403L487 1405L488 1393Z" fill="#FF0000" stroke="#FF0000"/><path d="M788 1369L786 1367L796 1382L803 1390Z" fill="#0000FF" stroke="#0000FF"/><path d="M526 1419L528 1416L531 1431L531 1444L525 1444Z" fill="#00FF00" stroke="#00FF00"/><path d="M695 1311L692 1303L693 1285L694 1285L705 1318L705 1321L706 1323L705 1333L702 1327Z" fill="#0000FF" stroke="#0000FF"/><path d="M723 1378L716 1378L718 1359L724 1353Z" fill="#0000FF" stroke="#0000FF"/><path d="M652 1347L641 1358L641 1357L663 1326L662 1333L659 1338Z" fill="#FF0000" stroke="#FF0000"/><path d="M551 1350L548 1331L548 1331L547 1336L544 1360L549 1358Z" fill="#FFFF00" stroke="#FFFF00"/><path d="M638 1364L637 1365L636 1366L630 1363L630 1361L630 1360L632 1354L637 1340Z" fill="#800080" stroke="#800080"/><path d="M734 1389L744 1405L755 1420L745 1404Z" fill="#0000FF"/><path d="M588 1318L585 1337L584 1357L587 1338Z" fill="#FFFF00"/><path d="M568 1332L564 1349L563 1366L567 1349Z" fill="#0000FF"/><path d="M550 1349L556 1361L564 1371L558 1359Z" fill="#00FF00"/><path d="M640 1279L632 1293L625 1309L634 1294Z" fill="#0000FF"/><path d="M704 1337L710 1353L717 1368L711 1352Z" fill="#00FF00"/><path d="M545 1415L552 1431L562 1446L555 1429Z" fill="#00FF00"/><path d="M724 1411L727 1428L732 1445L729 1428Z" fill="#00FF00"/><path d="M698 1411L693 1421L689 1433L694 1422Z" fill="#00FF00"/><path d="M574 1294L576 1307L581 1318L578 1306Z" fill="#0000FF"/><path d="M621 1411L625 1422L631 1433L627 1421Z" fill="#0000FF"/><path d="M701 1329L697 1338L697 1348L700 1338Z" fill="#FFFF00"/><path d="M702 1355L705 1365L712 1372L708 1363Z" fill="#00FF00"/><path d="M549 1426L552 1434L558 1440L555 1432Z" fill="#FF0000"/><path d="M735 1372L735 1385L739 1397L739 1384Z" fill="#00FF00"/><path d="M580 1339L588 1355L599 1369L591 1353Z" fill="#FF0000"/><path d="M657 1269L661 1290L668 1309L664 1289Z" fill="#FFFF00"/><path d="M646 1301L653 1319L662 1336L655 1318Z" fill="#FF0000"/><path d="M617 1409L623 1424L632 1437L626 1422Z" fill="#0000FF"/><path d="M612 1407L608 1429L607 1452L611 1430Z" fill="#00FF00"/><path d="M653 1360L649 1377L647 1394L651 1377Z" fill="#00FF00"/><path d="M555 1422L545 1434L539 1448L548 1436Z" fill="#FF0000"/><path d="M692 1341L699 1352L707 1363L700 1351Z" fill="#FF0000"/><path d="M570 1282L565 1298L562 1315L568 1299Z" fill="#0000FF"/><path d="M528 1396L526 1410L526 1425L529 1410Z" fill="#FF0000"/><path d="M509 1342L512 1349L517 1355L514 1348Z" fill="#0000FF"/><path d="M580 1311L585 1326L592 1341L587 1325Z" fill="#FFFF00"/><path d="M664 1372L668 1387L675 1401L671 1386Z" fill="#0000FF"/><path d="M675 1377L668 1391L664 1406L671 1392Z" fill="#800080"/><path d="M706 1272L707 1294L711 1315L710 1293Z" fill="#FF0000"/><path d="M560 1367L556 1382L554 1397L558 1382Z" fill="#0000FF"/><path d="M545 1360L549 1380L555 1399L551 1379Z" fill="#0000FF"/><path d="M723 1380L721 1398L720 1416L723 1398Z" fill="#0000FF"/><path d="M614 1303L624 1321L637 1337L627 1319Z" fill="#FF0000"/><path d="M564 1393L569 1403L576 1411L572 1401Z" fill="#FF0000"/><path d="M603 1310L597 1326L592 1342L599 1326Z" fill="#FF0000"/><path d="M678 1422L677 1434L680 1446L681 1434Z" fill="#0000FF"/><path d="M654 1319L652 1331L654 1342L656 1331Z" fill="#FF0000"/><path d="M689 1330L694 1342L702 1353L696 1341Z" fill="#00FF00"/><path d="M549 1416L553 1423L558 1429L555 1422Z" fill="#FFFF00"/><path d="M668 1350L667 1364L670 1378L671 1364Z" fill="#800080"/><path d="M591 1367L592 1382L594 1396L594 1382Z" fill="#0000FF"/><path d="M569 1279L573 1300L578 1322L575 1300Z" fill="#0000FF"/><path d="M637 1389L640 1398L647 1405L644 1396Z" fill="#00FF00"/><path d="M544 1425L551 1444L560 1462L553 1443Z" fill="#FF0000"/><path d="M561 1288L555 1300L552 1312L558 1301Z" fill="#FF0000"/><path d="M596 1419L594 1435L595 1451L596 1435Z" fill="#FFFF00"/><path d="M557 1296L562 1307L570 1315L566 1305Z" fill="#0000FF"/><path d="M574 1409L572 1417L571 1425L574 1417Z" fill="#FF0000"/><path d="M513 1297L518 1311L525 1322L521 1309Z" fill="#FF0000"/><path d="M729 1297L727 1310L728 1324L730 1311Z" fill="#00FF00"/><path d="M548 1281L544 1295L542 1310L546 1295Z" fill="#FF0000"/><path d="M718 1365L722 1382L729 1399L724 1382Z" fill="#FF0000"/><path d="M738 1390L745 1405L754 1418L747 1404Z" fill="#00FF00"/><path d="M578 1377L570 1388L564 1402L573 1390Z" fill="#FFFF00"/><path d="M647 1418L639 1432L633 1446L641 1433Z" fill="#800080"/><path d="M604 1303L606 1321L611 1338L610 1320Z" fill="#00FF00"/><path d="M756 1274L746 1292L738 1313L749 1294Z" fill="#0000FF"/><path d="M541 1383L541 1399L543 1415L543 1399Z" fill="#00FF00"/><path d="M617 1320L618 1330L622 1340L621 1329Z" fill="#FFFF00"/><path d="M524 1321l5 3l3 5l-4 3Z" fill="#00FFFF"/><path d="M555 1418l5 3l3 5l-4 3Z" fill="#00FFFF"/><path d="M518 1317l6 3l3 6l-5 3Z" fill="#00FFFF"/><path d="M578 1333l4 2l2 4l-3 2Z" fill="#00FFFF"/><path d="M506 1405l5 2l2 5l-3 2Z" fill="#00FFFF"/><path d="M563 1302l6 3l3 6l-4 3Z" fill="#00FFFF"/><path d="M684 1435l8 4l4 8l-6 4Z" fill="#00FFFF"/></g>
<clipPath id="c2"><rect x="831.2" y="1058.6" width="244.2" height="158.2"/></clipPath>
<g clip-path="url(#c2)" stroke-width="0.6" stroke-linejoin="round" shape-rendering="crispEdges"><rect x="831.2" y="1058.6" width="244.2" height="158.2" fill="#0000FF"/><path d="M841 1074L844 1059L846 1059L846 1089L845 1090Z" fill="#FF0000" stroke="#FF0000"/><path d="M1039 1173L1034 1168L1031 1217L1036 1217L1041 1201L1041 1200Z" fill="#FF0000" stroke="#FF0000"/><path d="M999 1099L994 1097L993 1101L995 1132L995 1132L995 1131L1000 1109Z" fill="#FF0000" stroke="#FF0000"/><path d="M970 1147L975 1140L984 1140L985 1161L972 1173L970 1172L969 1169Z" fill="#00FF00" stroke="#00FF00"/><path d="M979 1085L974 1102L970 1103L973 1075L978 1075Z" fill="#FF0000" stroke="#FF0000"/><path d="M935 1131L935 1131L931 1118L929 1104L932 1101L941 1115L942 1125L941 1128L940 1129Z" fill="#0000FF" stroke="#0000FF"/><path d="M1004 1217L1013 1217L1008 1207Z" fill="#FFFF00" stroke="#FFFF00"/><path d="M1060 1160L1058 1132L1058 1126L1060 1124L1067 1129L1070 1138L1065 1157Z" fill="#FF0000" stroke="#FF0000"/><path d="M932 1101L941 1115L943 1099L941 1082L937 1083Z" fill="#0000FF" stroke="#0000FF"/><path d="M836 1073L836 1059L844 1059L841 1074Z" fill="#00FF00" stroke="#00FF00"/><path d="M943 1126L942 1125L941 1115L943 1099L948 1104L949 1111Z" fill="#00FF00" stroke="#00FF00"/><path d="M921 1198L921 1174L929 1185L937 1213L937 1217L929 1217Z" fill="#FF0000" stroke="#FF0000"/><path d="M954 1165L963 1177L964 1177L969 1169L970 1147L968 1142L958 1141L957 1141Z" fill="#0000FF" stroke="#0000FF"/><path d="M901 1061L901 1059L881 1059L883 1076L896 1080Z" fill="#00FF00" stroke="#00FF00"/><path d="M901 1059L916 1059L921 1097L916 1104L903 1070L901 1061Z" fill="#0000FF" stroke="#0000FF"/><path d="M961 1217L955 1217L957 1212L958 1212Z" fill="#FF0000" stroke="#FF0000"/><path d="M995 1069L992 1090L994 1097L999 1099L999 1098L998 1076Z" fill="#00FF00" stroke="#00FF00"/><path d="M1041 1200L1041 1201L1053 1199L1054 1191L1047 1171Z" fill="#FFFF00" stroke="#FFFF00"/><path d="M1008 1207L1013 1217L1017 1217L1012 1187L1012 1185L1009 1181L1008 1203Z" fill="#FF0000" stroke="#FF0000"/><path d="M1025 1186L1016 1178L1012 1185L1012 1187L1026 1191Z" fill="#FF0000" stroke="#FF0000"/><path d="M920 1211L919 1206L902 1206L901 1217L917 1217Z" fill="#00FF00" stroke="#00FF00"/><path d="M1060 1090L1058 1059L1069 1059L1070 1093Z" fill="#0000FF" stroke="#0000FF"/><path d="M1019 1157L1008 1179L1009 1181L1012 1185L1016 1178Z" fill="#0000FF" stroke="#0000FF"/><path d="M950 1165L945 1172L941 1158L941 1128L942 1125L943 1126L949 1139Z" fill="#0000FF" stroke="#0000FF"/><path d="M953 1208L954 1200L944 1184L944 1184L937 1213L937 1217L951 1217Z" fill="#800080" stroke="#800080"/><path d="M954 1165L963 1177L956 1197L954 1200L944 1184L945 1172L950 1165Z" fill="#00FF00" stroke="#00FF00"/><path d="M919 1206L921 1198L921 1174L918 1165L918 1165L902 1205L902 1206Z" fill="#FF0000" stroke="#FF0000"/><path d="M1058 1132L1058 1126L1050 1117L1050 1148Z" fill="#00FF00" stroke="#00FF00"/><path d="M969 1169L970 1172L975 1217L964 1217L964 1177Z" fill="#FF0000" stroke="#FF0000"/><path d="M1006 1127L1009 1117L1014 1138L1006 1136Z" fill="#800080" stroke="#800080"/><path d="M894 1111L880 1093L875 1105L876 1110L881 1127Z" fill="#FFFF00" stroke="#FFFF00"/><path d="M998 1076L999 1098L1005 1089L1006 1088L1008 1078L1006 1070Z" fill="#FFFF00" stroke="#FFFF00"/><path d="M1059 1095L1047 1095L1046 1098L1046 1111L1047 1112L1059 1098Z" fill="#00FF00" stroke="#00FF00"/><path d="M1050 1117L1047 1112L1059 1098L1060 1108L1060 1124L1058 1126Z" fill="#FF0000" stroke="#FF0000"/><path d="M1059 1165L1065 1176L1068 1165L1065 1157L1060 1160Z" fill="#FFFF00" stroke="#FFFF00"/><path d="M954 1165L957 1141L954 1126L949 1139L950 1165Z" fill="#FFFF00" stroke="#FFFF00"/><path d="M990 1167L997 1145L995 1132L995 1132L987 1128L984 1140L985 1161L987 1169Z" fill="#0000FF" stroke="#0000FF"/><path d="M903 1074L903 1070L916 1104L909 1122Z" fill="#FF0000" stroke="#FF0000"/><path d="M958 1212L956 1197L954 1200L953 1208L957 1212Z" fill="#FF0000" stroke="#FF0000"/><path d="M984 1089L989 1059L979 1059L978 1075L979 1085Z" fill="#0000FF" stroke="#0000FF"/><path d="M1029 1145L1024 1148L1025 1186L1026 1191L1030 1217L1031 1217L1034 1168Z" fill="#FF0000" stroke="#FF0000"/><path d="M1059 1095L1047 1095L1052 1059L1058 1059L1060 1090Z" fill="#0000FF" stroke="#0000FF"/><path d="M1017 1093L1008 1078L1006 1070L1007 1059L1022 1059L1022 1070L1021 1080Z" fill="#FF0000" stroke="#FF0000"/><path d="M993 1101L986 1119L986 1118L985 1093L992 1090L994 1097Z" fill="#0000FF" stroke="#0000FF"/><path d="M885 1198L888 1217L901 1217L902 1206L902 1205L898 1185L891 1177L884 1177Z" fill="#00FF00" stroke="#00FF00"/><path d="M856 1136L860 1133L856 1150L856 1150Z" fill="#FF0000" stroke="#FF0000"/><path d="M1033 1101L1036 1084L1038 1077L1046 1098L1046 1111L1038 1131L1038 1131L1033 1105Z" fill="#0000FF" stroke="#0000FF"/><path d="M868 1216L867 1209L871 1200L883 1176L884 1177L885 1198Z" fill="#FF0000" stroke="#FF0000"/><path d="M944 1184L937 1213L929 1185L933 1165Z" fill="#FF0000" stroke="#FF0000"/><path d="M838 1108L842 1123L837 1122L833 1114Z" fill="#FFFF00" stroke="#FFFF00"/><path d="M876 1157L874 1152L868 1148L867 1149L864 1169L863 1186L865 1197L867 1209L871 1200Z" fill="#00FF00" stroke="#00FF00"/><path d="M868 1216L867 1209L865 1197L841 1205L837 1217L868 1217Z" fill="#FF0000" stroke="#FF0000"/><path d="M844 1156L843 1190L841 1205L837 1217L831 1217L831 1181L844 1156Z" fill="#FF0000" stroke="#FF0000"/><path d="M838 1108L842 1098L833 1083L831 1085L831 1113L833 1114Z" fill="#FF0000" stroke="#FF0000"/><path d="M1033 1101L1036 1084L1022 1070L1021 1080Z" fill="#00FF00" stroke="#00FF00"/><path d="M882 1170L879 1161L876 1157L871 1200L883 1176Z" fill="#FFFF00" stroke="#FFFF00"/><path d="M916 1059L921 1097L922 1099L931 1059Z" fill="#0000FF" stroke="#0000FF"/><path d="M1071 1100L1075 1101L1075 1059L1069 1059L1070 1093Z" fill="#FF0000" stroke="#FF0000"/><path d="M838 1108L842 1098L843 1098L847 1127L842 1123Z" fill="#FFFF00" stroke="#FFFF00"/><path d="M987 1170L979 1188L972 1173L985 1161L987 1169Z" fill="#FF0000" stroke="#FF0000"/><path d="M866 1098L862 1126L856 1118L860 1097L861 1095Z" fill="#00FF00" stroke="#00FF00"/><path d="M837 1122L837 1138L845 1151L846 1149L847 1128L847 1127L842 1123Z" fill="#00FF00" stroke="#00FF00"/><path d="M1024 1148L1023 1146L1019 1157L1016 1178L1025 1186Z" fill="#0000FF" stroke="#0000FF"/><path d="M1057 1170L1057 1173L1054 1191L1047 1171L1048 1157Z" fill="#0000FF" stroke="#0000FF"/><path d="M1048 1157L1047 1171L1041 1200L1039 1173L1042 1143L1048 1154Z" fill="#FFFF00" stroke="#FFFF00"/><path d="M951 1082L949 1066L941 1082L943 1099L948 1104Z" fill="#FFFF00" stroke="#FFFF00"/><path d="M993 1101L995 1132L987 1128L986 1119Z" fill="#FF0000" stroke="#FF0000"/><path d="M856 1136L860 1133L862 1130L862 1126L856 1118L852 1119L848 1127Z" fill="#FF0000" stroke="#FF0000"/><path d="M1038 1077L1046 1098L1047 1095L1052 1059L1039 1059Z" fill="#00FF00" stroke="#00FF00"/><path d="M968 1142L965 1106L970 1103L974 1102L977 1114L975 1140L970 1147Z" fill="#0000FF" stroke="#0000FF"/><path d="M964 1105L964 1105L964 1065L963 1059L949 1059L949 1066L951 1082L959 1106Z" fill="#0000FF" stroke="#0000FF"/><path d="M1071 1100L1070 1093L1060 1090L1059 1095L1059 1098L1060 1108L1070 1103Z" fill="#FF0000" stroke="#FF0000"/><path d="M986 1118L977 1114L975 1140L984 1140L987 1128L986 1119Z" fill="#FF0000" stroke="#FF0000"/><path d="M836 1138L837 1138L845 1151L845 1153L844 1156L844 1156L831 1157L831 1143Z" fill="#0000FF" stroke="#0000FF"/><path d="M860 1059L869 1095L871 1059Z" fill="#FFFF00" stroke="#FFFF00"/><path d="M843 1098L845 1090L841 1074L836 1073L833 1083L842 1098Z" fill="#0000FF" stroke="#0000FF"/><path d="M845 1151L846 1149L856 1150L856 1150L864 1169L863 1186L858 1181L845 1153Z" fill="#00FF00" stroke="#00FF00"/><path d="M957 1212L955 1217L951 1217L953 1208Z" fill="#FF0000" stroke="#FF0000"/><path d="M1055 1204L1055 1217L1071 1217L1070 1214L1063 1203Z" fill="#00FF00" stroke="#00FF00"/><path d="M894 1111L881 1127L881 1132L882 1132L886 1142L888 1144L899 1125L895 1111Z" fill="#0000FF" stroke="#0000FF"/><path d="M899 1125L901 1129L898 1185L891 1177L888 1144Z" fill="#FF0000" stroke="#FF0000"/><path d="M982 1203L979 1188L987 1170L987 1173L986 1197Z" fill="#0000FF" stroke="#0000FF"/><path d="M999 1098L1005 1089L1005 1112L1000 1109L999 1099Z" fill="#0000FF" stroke="#0000FF"/><path d="M935 1131L935 1131L934 1134L934 1155L937 1153L936 1148Z" fill="#FFFF00" stroke="#FFFF00"/><path d="M831 1059L836 1059L836 1073L833 1083L831 1085Z" fill="#0000FF" stroke="#0000FF"/><path d="M923 1100L929 1104L932 1101L937 1083L933 1059L931 1059L922 1099Z" fill="#FF0000" stroke="#FF0000"/><path d="M1017 1093L1008 1078L1006 1088L1009 1115L1017 1094Z" fill="#00FF00" stroke="#00FF00"/><path d="M861 1095L860 1097L853 1098L850 1087L855 1065Z" fill="#FF0000" stroke="#FF0000"/><path d="M894 1111L880 1093L883 1076L896 1080L895 1111Z" fill="#FF0000" stroke="#FF0000"/><path d="M957 1141L958 1141L964 1105L959 1106L955 1114L954 1126Z" fill="#00FF00" stroke="#00FF00"/><path d="M904 1128L901 1129L898 1185L902 1205L918 1165L907 1127Z" fill="#FF0000" stroke="#FF0000"/><path d="M868 1217L888 1217L885 1198L868 1216Z" fill="#FF0000" stroke="#FF0000"/><path d="M1068 1165L1071 1172L1069 1186L1065 1180L1065 1176Z" fill="#00FF00" stroke="#00FF00"/><path d="M935 1131L940 1129L936 1148Z" fill="#FFFF00" stroke="#FFFF00"/><path d="M978 1075L979 1059L963 1059L964 1065L973 1075Z" fill="#FFFF00" stroke="#FFFF00"/><path d="M934 1134L929 1149L933 1155L934 1155Z" fill="#0000FF" stroke="#0000FF"/><path d="M875 1105L869 1095L869 1095L871 1059L881 1059L883 1076L880 1093Z" fill="#FFFF00" stroke="#FFFF00"/><path d="M1033 1105L1038 1131L1029 1145L1024 1148L1023 1146L1022 1145L1021 1112Z" fill="#0000FF" stroke="#0000FF"/><path d="M958 1212L956 1197L963 1177L964 1177L964 1217L961 1217Z" fill="#0000FF" stroke="#0000FF"/><path d="M984 1089L985 1093L986 1118L977 1114L974 1102L979 1085Z" fill="#0000FF" stroke="#0000FF"/><path d="M1071 1100L1075 1101L1075 1140L1070 1138L1067 1129L1070 1103Z" fill="#0000FF" stroke="#0000FF"/><path d="M844 1156L831 1181L831 1157Z" fill="#800080" stroke="#800080"/><path d="M856 1118L860 1097L853 1098L852 1119Z" fill="#00FF00" stroke="#00FF00"/><path d="M1039 1173L1034 1168L1029 1145L1038 1131L1038 1131L1042 1143Z" fill="#0000FF" stroke="#0000FF"/><path d="M836 1138L831 1117L831 1113L833 1114L837 1122L837 1138Z" fill="#FFFF00" stroke="#FFFF00"/><path d="M934 1134L929 1149L928 1148L931 1118L935 1131Z" fill="#FF0000" stroke="#FF0000"/><path d="M886 1142L882 1170L879 1161L882 1132Z" fill="#FFFF00" stroke="#FFFF00"/><path d="M843 1098L845 1090L846 1089L850 1087L853 1098L852 1119L848 1127L847 1128L847 1127Z" fill="#00FF00" stroke="#00FF00"/><path d="M920 1211L919 1206L921 1198L929 1217L922 1217Z" fill="#FF0000" stroke="#FF0000"/><path d="M844 1156L843 1190L858 1181L845 1153Z" fill="#FF0000" stroke="#FF0000"/><path d="M882 1132L879 1161L876 1157L874 1152L881 1132Z" fill="#00FF00" stroke="#00FF00"/><path d="M923 1100L922 1152L928 1148L931 1118L929 1104Z" fill="#0000FF" stroke="#0000FF"/><path d="M1017 1094L1009 1115L1009 1116L1009 1117L1014 1138L1015 1142L1022 1145L1021 1112Z" fill="#FF0000" stroke="#FF0000"/><path d="M869 1095L860 1059L855 1059L855 1065L861 1095L866 1098L869 1095Z" fill="#FFFF00" stroke="#FFFF00"/><path d="M858 1181L863 1186L865 1197L841 1205L843 1190Z" fill="#FF0000" stroke="#FF0000"/><path d="M996 1217L981 1217L982 1203L986 1197L996 1205Z" fill="#FF0000" stroke="#FF0000"/><path d="M993 1059L1007 1059L1006 1070L998 1076L995 1069Z" fill="#0000FF" stroke="#0000FF"/><path d="M997 1200L999 1184L990 1167L987 1169L987 1170L987 1173L997 1202Z" fill="#800080" stroke="#800080"/><path d="M1006 1136L1003 1159L1004 1162L1015 1142L1014 1138Z" fill="#FF0000" stroke="#FF0000"/><path d="M909 1122L916 1104L921 1097L922 1099L923 1100L922 1152L918 1165L918 1165L907 1127Z" fill="#00FF00" stroke="#00FF00"/><path d="M1017 1093L1021 1080L1033 1101L1033 1105L1021 1112L1017 1094Z" fill="#0000FF" stroke="#0000FF"/><path d="M968 1142L965 1106L964 1105L964 1105L958 1141Z" fill="#0000FF" stroke="#0000FF"/><path d="M1061 1185L1063 1203L1070 1214L1069 1186L1065 1180Z" fill="#FFFF00" stroke="#FFFF00"/><path d="M1061 1185L1063 1203L1055 1204L1053 1199L1054 1191L1057 1173Z" fill="#00FF00" stroke="#00FF00"/><path d="M903 1074L904 1128L907 1127L909 1122Z" fill="#00FF00" stroke="#00FF00"/><path d="M955 1114L959 1106L951 1082L948 1104L949 1111Z" fill="#FFFF00" stroke="#FFFF00"/><path d="M934 1155L933 1155L933 1165L944 1184L944 1184L945 1172L941 1158L937 1153Z" fill="#00FF00" stroke="#00FF00"/><path d="M1059 1165L1057 1170L1048 1157L1048 1154L1050 1148L1058 1132L1060 1160Z" fill="#FF0000" stroke="#FF0000"/><path d="M1022 1070L1022 1059L1039 1059L1038 1077L1036 1084Z" fill="#FFFF00" stroke="#FFFF00"/><path d="M920 1211L922 1217L917 1217Z" fill="#0000FF" stroke="#0000FF"/><path d="M876 1110L868 1148L867 1149L862 1130L862 1126L866 1098L869 1095L875 1105Z" fill="#FF0000" stroke="#FF0000"/><path d="M846 1089L846 1059L855 1059L855 1065L850 1087Z" fill="#00FF00" stroke="#00FF00"/><path d="M1036 1217L1055 1217L1055 1204L1053 1199L1041 1201Z" fill="#0000FF" stroke="#0000FF"/><path d="M995 1069L993 1059L989 1059L984 1089L985 1093L992 1090Z" fill="#00FF00" stroke="#00FF00"/><path d="M895 1111L896 1080L901 1061L903 1070L903 1074L904 1128L901 1129L899 1125Z" fill="#00FF00" stroke="#00FF00"/><path d="M999 1184L1004 1170L1004 1162L1003 1159L997 1145L990 1167Z" fill="#00FF00" stroke="#00FF00"/><path d="M936 1148L937 1153L941 1158L941 1128L940 1129Z" fill="#FF0000" stroke="#FF0000"/><path d="M862 1130L867 1149L864 1169L856 1150L860 1133Z" fill="#00FF00" stroke="#00FF00"/><path d="M1059 1165L1057 1170L1057 1173L1061 1185L1065 1180L1065 1176Z" fill="#0000FF" stroke="#0000FF"/><path d="M846 1149L856 1150L856 1136L848 1127L847 1128Z" fill="#0000FF" stroke="#0000FF"/><path d="M1005 1089L1006 1088L1009 1115L1009 1116L1005 1112Z" fill="#FF0000" stroke="#FF0000"/><path d="M1048 1154L1042 1143L1038 1131L1046 1111L1047 1112L1050 1117L1050 1148Z" fill="#FF0000" stroke="#FF0000"/><path d="M1006 1127L995 1131L1000 1109L1005 1112L1009 1116L1009 1117Z" fill="#0000FF" stroke="#0000FF"/><path d="M1075 1165L1075 1217L1071 1217L1070 1214L1069 1186L1071 1172Z" fill="#00FF00" stroke="#00FF00"/><path d="M965 1106L964 1105L964 1065L973 1075L970 1103Z" fill="#0000FF" stroke="#0000FF"/><path d="M937 1083L941 1082L949 1066L949 1059L933 1059Z" fill="#FFFF00" stroke="#FFFF00"/><path d="M982 1203L979 1188L972 1173L970 1172L975 1217L981 1217Z" fill="#0000FF" stroke="#0000FF"/><path d="M881 1132L874 1152L868 1148L876 1110L881 1127Z" fill="#00FF00" stroke="#00FF00"/><path d="M954 1126L955 1114L949 1111L943 1126L949 1139Z" fill="#0000FF" stroke="#0000FF"/><path d="M996 1217L1004 1217L1008 1207L1008 1203L997 1200L997 1202L996 1205Z" fill="#0000FF" stroke="#0000FF"/><path d="M1006 1127L995 1131L995 1132L997 1145L1003 1159L1006 1136Z" fill="#0000FF" stroke="#0000FF"/><path d="M1070 1103L1060 1108L1060 1124L1067 1129Z" fill="#FF0000" stroke="#FF0000"/><path d="M1019 1157L1008 1179L1004 1170L1004 1162L1015 1142L1022 1145L1023 1146Z" fill="#FFFF00" stroke="#FFFF00"/><path d="M1026 1191L1012 1187L1017 1217L1030 1217Z" fill="#FF0000" stroke="#FF0000"/><path d="M888 1144L891 1177L884 1177L883 1176L882 1170L886 1142Z" fill="#FF0000" stroke="#FF0000"/><path d="M933 1155L933 1165L929 1185L921 1174L918 1165L922 1152L928 1148L929 1149Z" fill="#800080" stroke="#800080"/><path d="M1068 1165L1071 1172L1075 1165L1075 1140L1070 1138L1065 1157Z" fill="#800080" stroke="#800080"/><path d="M836 1138L831 1117L831 1143Z" fill="#0000FF" stroke="#0000FF"/><path d="M997 1200L999 1184L1004 1170L1008 1179L1009 1181L1008 1203Z" fill="#0000FF" stroke="#0000FF"/><path d="M997 1202L987 1173L986 1197L996 1205Z" fill="#00FF00" stroke="#00FF00"/><path d="M852 1202L854 1217L853 1217L843 1182L845 1178Z" fill="#0000FF" stroke="#0000FF"/><path d="M1030 1112L1023 1080L1023 1080L1022 1084L1023 1092L1023 1101L1029 1113Z" fill="#0000FF" stroke="#0000FF"/><path d="M1111 1135L1093 1170L1088 1176L1096 1156L1112 1133Z" fill="#FFFF00" stroke="#FFFF00"/><path d="M922 1126L924 1111L924 1110L921 1111L919 1128Z" fill="#00FF00" stroke="#00FF00"/><path d="M1042 1144L1042 1139L1041 1136L1037 1130L1023 1118L1028 1129L1034 1137L1042 1145Z" fill="#0000FF" stroke="#0000FF"/><path d="M1005 1090L1007 1083L1009 1079L1023 1059L1023 1059L1014 1083L1011 1088L1011 1088L1006 1096Z" fill="#00FF00" stroke="#00FF00"/><path d="M1033 1107L1029 1086L1025 1080L1022 1080L1031 1112Z" fill="#FF0000" stroke="#FF0000"/><path d="M1095 1111L1097 1105L1103 1088L1106 1086L1112 1083L1105 1099L1096 1111Z" fill="#800080" stroke="#800080"/><path d="M900 1152L905 1132L895 1143L884 1164L884 1164L898 1155Z" fill="#00FF00" stroke="#00FF00"/><path d="M915 1135L919 1133L917 1147L911 1160L909 1149L910 1144L912 1138Z" fill="#FF0000" stroke="#FF0000"/><path d="M1112 1093L1107 1106L1103 1099L1106 1083L1108 1075L1112 1064Z" fill="#0000FF" stroke="#0000FF"/><path d="M1046 1152L1049 1152L1051 1156L1058 1177L1054 1178L1051 1173L1046 1156Z" fill="#00FF00" stroke="#00FF00"/><path d="M1062 1133L1063 1142L1062 1144L1057 1138L1055 1133L1055 1114L1056 1114Z" fill="#800080" stroke="#800080"/><path d="M937 1099L935 1095L933 1095L933 1098L932 1104L936 1120L939 1118L939 1107Z" fill="#FF0000" stroke="#FF0000"/><path d="M942 1096L941 1088L942 1088L945 1092L948 1106L945 1103Z" fill="#0000FF" stroke="#0000FF"/><path d="M838 1129L843 1140L843 1146L838 1135Z" fill="#0000FF" stroke="#0000FF"/><path d="M840 1129L840 1119L843 1123L845 1134L843 1140Z" fill="#0000FF" stroke="#0000FF"/><path d="M973 1118L974 1122L985 1102L984 1101L974 1115Z" fill="#FF0000" stroke="#FF0000"/><path d="M835 1164L833 1159L831 1130L834 1143Z" fill="#FF0000" stroke="#FF0000"/><path d="M1077 1111L1077 1112L1089 1096L1094 1085L1090 1082L1088 1083Z" fill="#FFFF00" stroke="#FFFF00"/><path d="M992 1164L991 1172L992 1171L1004 1148L1003 1147L996 1157Z" fill="#FFFF00" stroke="#FFFF00"/><path d="M1096 1176L1106 1156L1108 1152L1098 1162L1090 1173L1088 1175L1089 1183L1092 1183L1092 1183Z" fill="#FF0000" stroke="#FF0000"/><path d="M881 1115L888 1085L884 1079L880 1113Z" fill="#800080" stroke="#800080"/><path d="M1076 1106L1080 1096L1077 1121L1076 1121Z" fill="#FFFF00" stroke="#FFFF00"/><path d="M776 1182L774 1179L773 1180L773 1185L780 1217L781 1217L779 1195Z" fill="#0000FF" stroke="#0000FF"/><path d="M841 1097L847 1113L847 1123L844 1119L839 1110L839 1099Z" fill="#0000FF" stroke="#0000FF"/><path d="M894 1088L878 1121L878 1115L891 1085L892 1083Z" fill="#00FF00" stroke="#00FF00"/><path d="M1040 1112L1029 1100L1027 1107L1035 1118L1051 1130Z" fill="#FF0000" stroke="#FF0000"/><path d="M932 1106L933 1104L934 1120L934 1124L930 1131L931 1115Z" fill="#00FF00" stroke="#00FF00"/><path d="M1077 1075L1076 1075L1074 1066L1074 1059L1079 1059Z" fill="#FF0000" stroke="#FF0000"/><path d="M979 1059L984 1059L985 1077L984 1079L979 1089L978 1090L977 1077L977 1065Z" fill="#0000FF" stroke="#0000FF"/><path d="M830 1138L828 1163L827 1167L824 1155Z" fill="#FF0000" stroke="#FF0000"/><path d="M902 1085L907 1085L908 1085L918 1059L909 1059L907 1064Z" fill="#FFFF00" stroke="#FFFF00"/><path d="M991 1194L989 1217L979 1217L982 1202L991 1192Z" fill="#FF0000" stroke="#FF0000"/><path d="M1009 1148L1013 1141L1011 1123L999 1147L1005 1156Z" fill="#0000FF" stroke="#0000FF"/><path d="M1059 1190L1067 1214L1067 1217L1062 1217Z" fill="#FF0000" stroke="#FF0000"/><path d="M824 1127L823 1125L827 1097L829 1097L829 1105L824 1128Z" fill="#800080" stroke="#800080"/><path d="M1120 1198L1116 1195L1116 1196L1128 1217L1129 1217L1125 1207Z" fill="#FF0000" stroke="#FF0000"/><path d="M846 1182L847 1162L844 1155L844 1157Z" fill="#0000FF" stroke="#0000FF"/><path d="M1094 1136L1081 1158L1085 1155L1098 1135Z" fill="#FF0000" stroke="#FF0000"/><path d="M1032 1154L1033 1157L1028 1161L1020 1133L1021 1128L1026 1134Z" fill="#00FF00" stroke="#00FF00"/><path d="M857 1116L855 1084L853 1095L857 1116Z" fill="#0000FF" stroke="#0000FF"/><path d="M794 1158L798 1169L795 1185L792 1175Z" fill="#FF0000" stroke="#FF0000"/><path d="M818 1166L825 1155L825 1153L822 1155Z" fill="#0000FF" stroke="#0000FF"/><path d="M916 1106L917 1102L917 1108L916 1123L915 1133L911 1135Z" fill="#0000FF" stroke="#0000FF"/><path d="M1130 1129L1121 1100L1121 1099L1125 1104L1130 1119Z" fill="#00FF00" stroke="#00FF00"/><path d="M947 1140L948 1138L948 1124L940 1110L939 1121L940 1123L945 1138Z" fill="#FF0000" stroke="#FF0000"/><path d="M859 1115L843 1078L842 1077L844 1089L856 1113L858 1115Z" fill="#00FF00" stroke="#00FF00"/><path d="M970 1187L972 1217L969 1217L962 1175L963 1174L969 1179Z" fill="#FFFF00" stroke="#FFFF00"/><path d="M811 1201L815 1191L797 1206L790 1217L805 1217Z" fill="#00FF00" stroke="#00FF00"/><path d="M1018 1069L1016 1077L1011 1083L1016 1059L1020 1059Z" fill="#00FF00" stroke="#00FF00"/><path d="M1035 1134L1030 1128L1025 1113L1025 1112L1026 1107L1026 1107L1032 1118L1035 1129Z" fill="#0000FF" stroke="#0000FF"/><path d="M971 1085L952 1065L948 1059L955 1059Z" fill="#FFFF00" stroke="#FFFF00"/><path d="M941 1123L957 1142L973 1157L955 1136Z" fill="#FF0000" stroke="#FF0000"/><path d="M1053 1152L1054 1156L1061 1165L1059 1144L1053 1138Z" fill="#00FF00" stroke="#00FF00"/><path d="M1027 1183L1023 1172L1021 1168L1021 1168L1021 1161L1026 1157L1028 1160L1033 1178L1028 1184Z" fill="#0000FF" stroke="#0000FF"/><path d="M852 1078L855 1074L857 1059L845 1059L851 1077Z" fill="#0000FF" stroke="#0000FF"/><path d="M932 1067L946 1088L951 1092L953 1090L952 1089Z" fill="#0000FF" stroke="#0000FF"/><path d="M818 1126L818 1119L819 1114L826 1098L828 1094L828 1097L821 1125Z" fill="#00FF00" stroke="#00FF00"/><path d="M963 1137L964 1143L969 1157L972 1162L963 1136Z" fill="#FF0000" stroke="#FF0000"/><path d="M1002 1209L998 1214L997 1217L1004 1217L1014 1198L1011 1200Z" fill="#FF0000" stroke="#FF0000"/><path d="M813 1144L815 1139L806 1146L798 1161L807 1154Z" fill="#0000FF" stroke="#0000FF"/><path d="M805 1161L801 1169L796 1177L793 1169L803 1150L811 1140L811 1146Z" fill="#0000FF" stroke="#0000FF"/><path d="M934 1098L935 1095L933 1059L931 1059L927 1076Z" fill="#00FF00" stroke="#00FF00"/><path d="M889 1149L883 1160L880 1174L882 1179L889 1166L890 1165Z" fill="#FFFF00" stroke="#FFFF00"/><path d="M941 1186L941 1186L946 1192L955 1217L949 1217L941 1198Z" fill="#FF0000" stroke="#FF0000"/><path d="M913 1096L906 1103L904 1107L882 1145L886 1140L905 1116L912 1104Z" fill="#00FF00" stroke="#00FF00"/><path d="M1109 1141L1108 1155L1105 1160L1105 1150L1108 1142Z" fill="#00FF00" stroke="#00FF00"/><path d="M824 1182L827 1173L826 1173L801 1201L792 1217L794 1217L813 1196L824 1183Z" fill="#00FF00" stroke="#00FF00"/><path d="M912 1205L907 1199L894 1217L905 1217Z" fill="#800080" stroke="#800080"/><path d="M997 1202L1006 1178L1007 1182L1004 1189Z" fill="#0000FF" stroke="#0000FF"/><path d="M1107 1133L1085 1156L1087 1152L1098 1133L1109 1129Z" fill="#0000FF" stroke="#0000FF"/><path d="M1118 1059L1118 1059L1128 1059L1128 1059L1129 1065L1131 1078L1121 1065Z" fill="#00FF00" stroke="#00FF00"/><path d="M903 1194L889 1217L883 1217L891 1203L904 1185Z" fill="#00FF00" stroke="#00FF00"/><path d="M779 1180L773 1170L767 1145L769 1144L777 1164L780 1179Z" fill="#FFFF00" stroke="#FFFF00"/><path d="M1131 1155L1144 1178L1131 1149L1129 1150Z" fill="#0000FF" stroke="#0000FF"/><path d="M1081 1082L1085 1085L1088 1078L1094 1059L1087 1059Z" fill="#0000FF" stroke="#0000FF"/><path d="M966 1136L968 1162L972 1178L973 1164L968 1131L967 1131Z" fill="#FF0000" stroke="#FF0000"/><path d="M927 1132L927 1134L929 1136L931 1131L932 1115Z" fill="#FF0000" stroke="#FF0000"/><path d="M1058 1090L1061 1094L1063 1086L1063 1084L1063 1068L1058 1075L1058 1087Z" fill="#0000FF" stroke="#0000FF"/><path d="M787 1135L785 1139L785 1156L792 1162L791 1143L791 1137L791 1137Z" fill="#00FF00" stroke="#00FF00"/><path d="M1127 1194L1128 1198L1124 1195L1120 1186L1118 1177L1118 1177Z" fill="#FF0000" stroke="#FF0000"/><path d="M1019 1096L1023 1088L1021 1111L1017 1120L1006 1131L1009 1121Z" fill="#FF0000" stroke="#FF0000"/><path d="M1104 1059L1105 1059L1099 1068L1094 1069Z" fill="#0000FF" stroke="#0000FF"/><path d="M856 1178L868 1198L869 1200L862 1191L853 1177Z" fill="#0000FF" stroke="#0000FF"/><path d="M1098 1129L1087 1133L1088 1132L1100 1118L1107 1119Z" fill="#0000FF" stroke="#0000FF"/><path d="M1108 1075L1106 1071L1096 1086L1102 1083Z" fill="#00FF00" stroke="#00FF00"/><path d="M983 1090L995 1065L998 1059L992 1059L984 1077L983 1079Z" fill="#FFFF00" stroke="#FFFF00"/><path d="M861 1073L854 1059L853 1059L855 1074L863 1095L863 1084Z" fill="#FF0000" stroke="#FF0000"/><path d="M768 1103L778 1126L781 1141L782 1144L780 1145L762 1099L764 1099Z" fill="#00FF00" stroke="#00FF00"/><path d="M953 1121L944 1099L952 1108L955 1113L959 1123L955 1123L954 1122Z" fill="#FFFF00" stroke="#FFFF00"/><path d="M1017 1059L1000 1079L1010 1059Z" fill="#FF0000" stroke="#FF0000"/><path d="M953 1135L962 1150L965 1159L962 1158L962 1157L952 1136Z" fill="#FF0000" stroke="#FF0000"/><path d="M916 1203L917 1217L922 1217L922 1214L922 1184Z" fill="#00FF00" stroke="#00FF00"/><path d="M812 1131L815 1126L820 1118L823 1121L812 1139L810 1138Z" fill="#0000FF" stroke="#0000FF"/><path d="M938 1107L937 1118L938 1122L942 1123L942 1121L940 1113Z" fill="#00FF00" stroke="#00FF00"/><path d="M1127 1155L1124 1149L1125 1143L1127 1156Z" fill="#FF0000" stroke="#FF0000"/><path d="M953 1123L954 1123L966 1136L967 1135L963 1127L955 1117L949 1113Z" fill="#00FF00" stroke="#00FF00"/><path d="M935 1176L934 1179L919 1217L927 1217L936 1182L936 1182L936 1176Z" fill="#800080" stroke="#800080"/><path d="M1061 1144L1061 1142L1066 1159L1063 1179L1061 1182L1059 1178L1058 1165Z" fill="#0000FF" stroke="#0000FF"/><path d="M829 1130L833 1126L833 1130L831 1159L827 1163L828 1138Z" fill="#FF0000" stroke="#FF0000"/><path d="M819 1108L822 1103L821 1114L818 1119L816 1121L813 1118Z" fill="#0000FF" stroke="#0000FF"/><path d="M786 1174L778 1157L776 1155L775 1164L781 1179L783 1182Z" fill="#0000FF" stroke="#0000FF"/><path d="M1126 1157L1129 1151L1129 1164Z" fill="#0000FF" stroke="#0000FF"/><path d="M976 1065L978 1077L979 1101L973 1115L974 1078Z" fill="#00FF00" stroke="#00FF00"/><path d="M930 1136L930 1131L934 1124L936 1140L936 1146L935 1156Z" fill="#0000FF" stroke="#0000FF"/><path d="M926 1113L923 1111L922 1110L923 1107L927 1089L928 1105Z" fill="#FF0000" stroke="#FF0000"/><path d="M854 1173L851 1167L848 1174L848 1178L855 1202L856 1183L855 1177Z" fill="#00FF00" stroke="#00FF00"/><path d="M1114 1190L1115 1180L1119 1186L1122 1195L1122 1196L1121 1204Z" fill="#0000FF" stroke="#0000FF"/><path d="M993 1065L992 1079L1002 1059L995 1059Z" fill="#0000FF" stroke="#0000FF"/><path d="M887 1205L878 1185L879 1196Z" fill="#FFFF00" stroke="#FFFF00"/><path d="M1127 1138L1121 1135L1121 1135L1127 1149L1129 1143L1129 1141Z" fill="#00FF00" stroke="#00FF00"/><path d="M983 1164L981 1169L977 1172L975 1169L975 1160L978 1155L982 1153L983 1160Z" fill="#00FF00" stroke="#00FF00"/><path d="M864 1178L861 1177L858 1173L856 1166L862 1169Z" fill="#FFFF00" stroke="#FFFF00"/><path d="M912 1167L898 1199L904 1205L905 1203L910 1192L910 1191L912 1182Z" fill="#FFFF00" stroke="#FFFF00"/><path d="M940 1172L932 1182L931 1176L935 1156L938 1146L941 1145Z" fill="#00FF00" stroke="#00FF00"/><path d="M969 1130L975 1119L976 1155L974 1160L972 1164L969 1131Z" fill="#FF0000" stroke="#FF0000"/><path d="M936 1193L937 1201L939 1217L943 1217L940 1198Z" fill="#0000FF" stroke="#0000FF"/><path d="M1049 1121L1039 1108L1033 1103L1035 1112L1045 1130L1049 1136L1055 1141Z" fill="#0000FF" stroke="#0000FF"/><path d="M967 1204L948 1181L943 1176L950 1191L955 1196Z" fill="#FF0000" stroke="#FF0000"/><path d="M1034 1141L1029 1136L1030 1139L1050 1182L1050 1182L1053 1179L1053 1173L1046 1156Z" fill="#0000FF" stroke="#0000FF"/><path d="M1120 1081L1123 1082L1119 1065L1117 1059Z" fill="#FF0000" stroke="#FF0000"/><path d="M990 1159L992 1147L991 1141L989 1146L985 1171Z" fill="#0000FF" stroke="#0000FF"/><path d="M939 1217L937 1201L937 1217Z" fill="#0000FF" stroke="#0000FF"/><path d="M1127 1135L1127 1135L1125 1136L1120 1128L1119 1127L1116 1119L1113 1100L1125 1129Z" fill="#FF0000" stroke="#FF0000"/><path d="M996 1172L996 1172L993 1178L996 1189L997 1185L998 1171Z" fill="#0000FF" stroke="#0000FF"/><path d="M1027 1113L1022 1101L1020 1111L1020 1120L1024 1133L1026 1128Z" fill="#FF0000" stroke="#FF0000"/><path d="M1062 1132L1064 1115L1063 1109L1059 1108L1058 1114L1062 1133Z" fill="#0000FF" stroke="#0000FF"/><path d="M823 1167L823 1167L819 1185L822 1182L828 1167L829 1155L829 1155L823 1166Z" fill="#0000FF" stroke="#0000FF"/><path d="M1009 1136L1012 1131L1015 1121L1014 1112L1008 1118L1005 1123L1005 1141Z" fill="#FF0000" stroke="#FF0000"/><path d="M946 1196L942 1191L942 1192L957 1217L965 1217Z" fill="#0000FF" stroke="#0000FF"/><path d="M1064 1132L1067 1132L1065 1117L1063 1115L1063 1115Z" fill="#0000FF" stroke="#0000FF"/><path d="M1110 1138L1109 1135L1093 1170L1093 1170L1106 1150L1110 1142Z" fill="#0000FF" stroke="#0000FF"/><path d="M918 1147L921 1147L918 1181L918 1181L915 1161L915 1160Z" fill="#0000FF" stroke="#0000FF"/><path d="M1053 1183L1054 1181L1062 1217L1061 1217L1054 1198Z" fill="#0000FF" stroke="#0000FF"/><path d="M1016 1176L1023 1148L1018 1156L1007 1175L1003 1186L1013 1179Z" fill="#FF0000" stroke="#FF0000"/><path d="M926 1059L916 1059L910 1085L910 1092L921 1074L922 1072Z" fill="#0000FF" stroke="#0000FF"/><path d="M934 1095L932 1095L935 1059L938 1059L938 1083Z" fill="#FF0000" stroke="#FF0000"/><path d="M1113 1094L1121 1119L1122 1127L1112 1120L1110 1106L1111 1093L1112 1093Z" fill="#0000FF" stroke="#0000FF"/><path d="M991 1173L997 1172L995 1178L991 1187L985 1194L986 1192L989 1177Z" fill="#FF0000" stroke="#FF0000"/><path d="M834 1182L833 1202L835 1211L839 1197Z" fill="#FF0000" stroke="#FF0000"/><path d="M894 1065L893 1059L891 1059L886 1083L887 1088L887 1089L889 1086L890 1082Z" fill="#FFFF00" stroke="#FFFF00"/><path d="M992 1102L990 1124L984 1136L990 1107L990 1106Z" fill="#FF0000" stroke="#FF0000"/><path d="M1110 1131L1105 1141L1104 1142L1103 1138L1109 1120L1112 1122Z" fill="#0000FF" stroke="#0000FF"/><path d="M792 1093L795 1091L807 1079L819 1059L814 1059L795 1088Z" fill="#FFFF00" stroke="#FFFF00"/><path d="M781 1146L783 1155L785 1157L785 1156L785 1139L781 1129L779 1133Z" fill="#FFFF00" stroke="#FFFF00"/><path d="M1037 1075L1036 1086L1031 1080L1024 1059L1030 1059Z" fill="#FF0000" stroke="#FF0000"/><path d="M892 1132L896 1122L896 1118L890 1123L883 1143Z" fill="#FFFF00" stroke="#FFFF00"/><path d="M1089 1217L1111 1187L1095 1217Z" fill="#0000FF" stroke="#0000FF"/><path d="M1095 1155L1090 1158L1086 1164L1084 1173L1092 1162Z" fill="#FF0000" stroke="#FF0000"/><path d="M981 1102L984 1090L981 1077L979 1101L980 1102Z" fill="#0000FF" stroke="#0000FF"/><path d="M988 1096L991 1100L997 1098L998 1095L1000 1079L999 1065L989 1090Z" fill="#FF0000" stroke="#FF0000"/><path d="M885 1205L886 1205L884 1179L881 1174L880 1175L880 1185Z" fill="#800080" stroke="#800080"/><path d="M978 1169L980 1172L976 1179Z" fill="#FF0000" stroke="#FF0000"/><path d="M937 1099L940 1096L940 1096L943 1103L943 1113L940 1107Z" fill="#FFFF00" stroke="#FFFF00"/><path d="M959 1158L963 1174L953 1159L949 1152L947 1142L958 1157Z" fill="#0000FF" stroke="#0000FF"/><path d="M871 1217L872 1217L862 1200L854 1191L848 1188Z" fill="#FF0000" stroke="#FF0000"/><path d="M1135 1102L1117 1065L1119 1078L1124 1091L1127 1096L1128 1099L1133 1104Z" fill="#FF0000" stroke="#FF0000"/><path d="M857 1177L864 1191L860 1188L856 1183L854 1177L854 1173Z" fill="#FF0000" stroke="#FF0000"/><path d="M1036 1090L1042 1100L1038 1107L1038 1107L1026 1086L1025 1075Z" fill="#0000FF" stroke="#0000FF"/><path d="M987 1106L986 1107L981 1114L982 1102L986 1090L986 1089Z" fill="#FF0000" stroke="#FF0000"/><path d="M1093 1135L1082 1147L1080 1154L1079 1163L1083 1165L1084 1164L1086 1158L1093 1136Z" fill="#FF0000" stroke="#FF0000"/><path d="M964 1089L967 1099L948 1074L943 1065L961 1085Z" fill="#FFFF00" stroke="#FFFF00"/><path d="M922 1132L921 1123L918 1133L915 1147L918 1147L918 1147L921 1139Z" fill="#0000FF" stroke="#0000FF"/><path d="M901 1084L912 1064L907 1085L897 1104L896 1096Z" fill="#0000FF" stroke="#0000FF"/><path d="M847 1182L840 1157L836 1160L838 1166L847 1187L847 1183Z" fill="#00FF00" stroke="#00FF00"/><path d="M1113 1177L1107 1193L1100 1203L1100 1200L1112 1177L1113 1177Z" fill="#0000FF" stroke="#0000FF"/><path d="M997 1196L999 1189L996 1178L993 1187Z" fill="#FF0000" stroke="#FF0000"/><path d="M831 1059L828 1059L812 1096L816 1098L818 1094Z" fill="#00FF00" stroke="#00FF00"/><path d="M1025 1080L1028 1080L1030 1059L1024 1059L1024 1073L1025 1080Z" fill="#FF0000" stroke="#FF0000"/><path d="M807 1177L801 1169L801 1169L796 1185L792 1206L804 1191Z" fill="#FF0000" stroke="#FF0000"/><path d="M841 1075L846 1091L846 1097L843 1099L839 1081Z" fill="#FF0000" stroke="#FF0000"/><path d="M920 1181L920 1181L920 1183L920 1184L913 1203L908 1203L909 1192Z" fill="#00FF00" stroke="#00FF00"/><path d="M771 1194L777 1217L779 1217L772 1185Z" fill="#FF0000" stroke="#FF0000"/><path d="M886 1137L885 1149L880 1160L879 1147Z" fill="#0000FF" stroke="#0000FF"/><path d="M948 1088L948 1088L943 1067L940 1059L938 1059L942 1077Z" fill="#FF0000" stroke="#FF0000"/><path d="M1117 1090L1127 1096L1125 1091L1119 1082L1116 1081Z" fill="#FFFF00" stroke="#FFFF00"/><path d="M1062 1179L1060 1182L1061 1190L1070 1214L1069 1201L1067 1190Z" fill="#00FF00" stroke="#00FF00"/><path d="M936 1182L932 1217L935 1217L938 1201L938 1193Z" fill="#FFFF00" stroke="#FFFF00"/><path d="M797 1102L792 1081L797 1063L801 1088L801 1093L800 1099Z" fill="#FF0000" stroke="#FF0000"/><path d="M954 1074L950 1065L947 1059L938 1059L943 1067L958 1089L957 1085Z" fill="#0000FF" stroke="#0000FF"/><path d="M1061 1132L1065 1132L1067 1133L1068 1136L1068 1159L1068 1159L1061 1142L1061 1133Z" fill="#800080" stroke="#800080"/><path d="M1065 1109L1063 1095L1061 1086L1060 1094L1062 1108Z" fill="#00FF00" stroke="#00FF00"/><path d="M783 1190L790 1217L780 1217L777 1195Z" fill="#FF0000" stroke="#FF0000"/><path d="M849 1115L851 1140L847 1134L844 1123L843 1113L848 1113Z" fill="#FFFF00" stroke="#FFFF00"/><path d="M818 1153L824 1144L825 1139L823 1138L811 1157L805 1171L813 1162Z" fill="#0000FF" stroke="#0000FF"/><path d="M938 1099L936 1095L938 1083L940 1080L942 1096Z" fill="#00FF00" stroke="#00FF00"/><path d="M787 1113L784 1097L783 1114L784 1117L788 1118Z" fill="#FF0000" stroke="#FF0000"/><path d="M1059 1087L1057 1075L1049 1066L1053 1080L1055 1085Z" fill="#FF0000" stroke="#FF0000"/><path d="M854 1149L859 1173L855 1167L851 1153L850 1147L850 1143Z" fill="#0000FF" stroke="#0000FF"/><path d="M998 1202L1010 1178L1010 1174L1003 1185L1001 1189L997 1196L990 1214L994 1209Z" fill="#0000FF" stroke="#0000FF"/><path d="M1004 1189L1007 1182L1011 1178L1015 1175L1012 1186L1010 1192L1005 1198L1002 1200Z" fill="#00FF00" stroke="#00FF00"/><path d="M823 1191L824 1185L825 1182L829 1187L833 1202L835 1211L835 1217L828 1217Z" fill="#FF0000" stroke="#FF0000"/><path d="M786 1088L784 1088L778 1074L777 1063Z" fill="#0000FF" stroke="#0000FF"/><path d="M797 1201L801 1191L809 1177L814 1169L815 1173Z" fill="#0000FF" stroke="#0000FF"/><path d="M964 1217L953 1204L943 1196L961 1217Z" fill="#0000FF" stroke="#0000FF"/><path d="M1126 1196L1134 1210L1136 1215L1137 1217L1125 1217L1124 1207Z" fill="#FF0000" stroke="#FF0000"/><path d="M989 1125L997 1100L1003 1098L1000 1105L989 1126Z" fill="#0000FF" stroke="#0000FF"/><path d="M1117 1169L1122 1177L1124 1186L1119 1180L1117 1175Z" fill="#800080" stroke="#800080"/><path d="M844 1141L848 1155L848 1157L844 1160L841 1154L839 1146L839 1140L840 1134L844 1140Z" fill="#0000FF" stroke="#0000FF"/><path d="M781 1063L781 1074L777 1071L777 1070L775 1059L781 1059Z" fill="#FF0000" stroke="#FF0000"/><path d="M1002 1182L1005 1178L1008 1158L1001 1174L1001 1178Z" fill="#00FF00" stroke="#00FF00"/><path d="M1082 1185L1086 1163L1090 1165L1082 1202L1080 1196Z" fill="#0000FF" stroke="#0000FF"/><path d="M816 1183L812 1196L822 1191L825 1185L828 1167Z" fill="#0000FF" stroke="#0000FF"/><path d="M1134 1176L1129 1164L1127 1151L1127 1148L1127 1148L1128 1150L1130 1155L1134 1164L1136 1180Z" fill="#0000FF" stroke="#0000FF"/><path d="M956 1121L939 1090L937 1092L943 1106L945 1110L957 1124L957 1122Z" fill="#0000FF" stroke="#0000FF"/><path d="M799 1150L791 1137L791 1143L793 1158L798 1169L799 1169Z" fill="#00FF00" stroke="#00FF00"/><path d="M1129 1091L1125 1078L1116 1065L1122 1082Z" fill="#FF0000" stroke="#FF0000"/><path d="M1067 1190L1068 1201L1072 1204L1071 1185L1070 1183Z" fill="#0000FF" stroke="#0000FF"/><path d="M914 1167L895 1199L881 1217L879 1217L894 1194L917 1160L917 1159Z" fill="#FF0000" stroke="#FF0000"/><path d="M828 1128L826 1105L828 1101L829 1103L834 1116L834 1117L833 1126L830 1130Z" fill="#FF0000" stroke="#FF0000"/><path d="M979 1189L974 1217L977 1217L981 1202L983 1192L980 1187Z" fill="#00FF00" stroke="#00FF00"/><path d="M964 1076L967 1087L969 1086L973 1078L975 1065L975 1059L964 1059Z" fill="#00FF00" stroke="#00FF00"/><path d="M1112 1136L1112 1131L1108 1141L1107 1155L1108 1160Z" fill="#FF0000" stroke="#FF0000"/><path d="M1058 1105L1050 1087L1048 1080L1051 1085L1058 1097L1061 1107Z" fill="#FF0000" stroke="#FF0000"/><path d="M899 1063L904 1059L904 1059L893 1077L888 1083L883 1086L886 1082Z" fill="#0000FF" stroke="#0000FF"/><path d="M834 1110L838 1110L842 1119L841 1129L841 1135L833 1117L833 1116Z" fill="#00FF00" stroke="#00FF00"/><path d="M925 1147L914 1181L914 1183L918 1177L928 1152L926 1147Z" fill="#FF0000" stroke="#FF0000"/><path d="M1072 1114L1073 1106L1075 1106L1078 1121L1073 1127L1072 1122Z" fill="#0000FF" stroke="#0000FF"/><path d="M1105 1177L1112 1164L1113 1160L1113 1155L1110 1160L1104 1174L1104 1177Z" fill="#00FF00" stroke="#00FF00"/><path d="M903 1084L903 1077L898 1083L892 1101L891 1103L897 1096Z" fill="#00FF00" stroke="#00FF00"/><path d="M1122 1166L1118 1166L1115 1160L1114 1158L1117 1157Z" fill="#FFFF00" stroke="#FFFF00"/><path d="M792 1190L791 1174L787 1162L780 1156L780 1157L785 1174Z" fill="#00FF00" stroke="#00FF00"/><path d="M916 1119L914 1114L911 1116L897 1140L902 1144L906 1138Z" fill="#FF0000" stroke="#FF0000"/><path d="M1057 1099L1057 1108L1053 1103L1039 1059L1042 1059L1045 1066L1052 1080L1054 1087Z" fill="#FF0000" stroke="#FF0000"/><path d="M868 1120L878 1137L882 1156L862 1123L862 1122Z" fill="#0000FF" stroke="#0000FF"/><path d="M1102 1069L1102 1070L1097 1077L1092 1087L1092 1088L1095 1086L1106 1071L1107 1068Z" fill="#FF0000" stroke="#FF0000"/><path d="M1074 1183L1075 1185L1078 1191L1077 1162L1077 1158L1072 1154L1071 1155L1071 1164Z" fill="#FFFF00" stroke="#FFFF00"/><path d="M834 1166L836 1172L839 1175L840 1166L839 1160L836 1154L834 1151Z" fill="#00FF00" stroke="#00FF00"/><path d="M1004 1148L1004 1148L1002 1158L998 1174L994 1185L994 1171Z" fill="#FF0000" stroke="#FF0000"/><path d="M963 1108L962 1105L967 1105L970 1130L970 1131L970 1131Z" fill="#0000FF" stroke="#0000FF"/><path d="M958 1099L945 1085L940 1074L961 1099L967 1108Z" fill="#FFFF00" stroke="#FFFF00"/><path d="M935 1140L938 1122L938 1118L935 1120L934 1124Z" fill="#0000FF" stroke="#0000FF"/><path d="M804 1103L813 1090L822 1075L815 1079L803 1091L803 1104Z" fill="#00FF00" stroke="#00FF00"/><path d="M885 1152L894 1132L900 1122L916 1107L892 1145Z" fill="#00FF00" stroke="#00FF00"/><path d="M977 1169L975 1160L973 1164L971 1178L970 1179L971 1187L975 1189L977 1187L977 1179Z" fill="#00FF00" stroke="#00FF00"/><path d="M850 1126L853 1123L871 1156L875 1165L873 1164L871 1161Z" fill="#0000FF" stroke="#0000FF"/><path d="M892 1089L888 1101L893 1101L899 1083L894 1086Z" fill="#FF0000" stroke="#FF0000"/><path d="M822 1196L833 1191L819 1217L807 1217Z" fill="#0000FF" stroke="#0000FF"/><path d="M1109 1177L1114 1190L1112 1198L1110 1195L1109 1193Z" fill="#0000FF" stroke="#0000FF"/><path d="M832 1059L832 1059L838 1077L841 1096L833 1080Z" fill="#00FF00" stroke="#00FF00"/><path d="M803 1117L811 1104L811 1091L808 1093L804 1099L799 1109L799 1110Z" fill="#FF0000" stroke="#FF0000"/><path d="M925 1076L924 1078L921 1072L924 1059L933 1059Z" fill="#00FF00" stroke="#00FF00"/><path d="M926 1150L925 1152L922 1177L925 1180L931 1179L932 1176Z" fill="#0000FF" stroke="#0000FF"/><path d="M1079 1085L1077 1095L1074 1094L1075 1076L1076 1075L1077 1075Z" fill="#FF0000" stroke="#FF0000"/><path d="M775 1194L775 1185L774 1180L768 1170L773 1194Z" fill="#00FF00" stroke="#00FF00"/><path d="M913 1106L915 1102L917 1092L918 1085L917 1085L903 1114L906 1119Z" fill="#FF0000" stroke="#FF0000"/><path d="M826 1097L827 1095L829 1101L827 1105Z" fill="#0000FF" stroke="#0000FF"/><path d="M880 1120L874 1122L868 1111L855 1079L869 1098L879 1118Z" fill="#00FF00" stroke="#00FF00"/><path d="M865 1149L862 1149L857 1143L849 1116L850 1116L851 1116L855 1120L860 1126Z" fill="#FF0000" stroke="#FF0000"/><path d="M1070 1111L1069 1095L1066 1107L1068 1114Z" fill="#FFFF00" stroke="#FFFF00"/><path d="M926 1128L927 1137L923 1150L922 1152L920 1147L921 1139Z" fill="#00FF00" stroke="#00FF00"/><path d="M1077 1203L1078 1200L1079 1176L1078 1162L1075 1191Z" fill="#0000FF" stroke="#0000FF"/><path d="M1133 1102L1124 1065L1124 1059L1136 1089L1138 1099L1137 1104Z" fill="#FFFF00" stroke="#FFFF00"/><path d="M1065 1115L1065 1115L1066 1107L1062 1095L1063 1109Z" fill="#00FF00" stroke="#00FF00"/><path d="M985 1131L986 1125L982 1126L977 1153L979 1160Z" fill="#0000FF" stroke="#0000FF"/><path d="M975 1126L979 1125L985 1114L988 1102L987 1102L975 1122Z" fill="#0000FF" stroke="#0000FF"/><path d="M797 1088L803 1059L795 1059L794 1063Z" fill="#FF0000" stroke="#FF0000"/><path d="M1114 1193L1114 1195L1102 1217L1102 1217L1107 1203Z" fill="#FFFF00" stroke="#FFFF00"/><path d="M941 1080L939 1083L935 1059L941 1059L941 1077Z" fill="#FF0000" stroke="#FF0000"/><path d="M1076 1127L1071 1154L1075 1158L1077 1154L1079 1147L1082 1121L1082 1121L1081 1121Z" fill="#00FF00" stroke="#00FF00"/><path d="M948 1171L945 1152L942 1140L940 1138L939 1141Z" fill="#FF0000" stroke="#FF0000"/><path d="M829 1082L832 1103L830 1101L827 1095L828 1080Z" fill="#FFFF00" stroke="#FFFF00"/><path d="M1063 1159L1070 1164L1074 1183L1071 1190L1065 1179L1063 1159Z" fill="#00FF00" stroke="#00FF00"/><path d="M1134 1148L1129 1141L1128 1138L1125 1123L1129 1122L1135 1148Z" fill="#00FF00" stroke="#00FF00"/><path d="M1123 1194L1124 1198L1127 1207L1129 1196L1126 1189Z" fill="#00FF00" stroke="#00FF00"/><path d="M957 1204L941 1181L955 1194L971 1217L968 1217Z" fill="#FF0000" stroke="#FF0000"/><path d="M823 1059L829 1080L830 1082L832 1080L835 1059Z" fill="#00FF00" stroke="#00FF00"/><path d="M1069 1065L1071 1081L1071 1085L1069 1094L1064 1084L1063 1068L1063 1059L1067 1059Z" fill="#FF0000" stroke="#FF0000"/><path d="M960 1181L955 1176L953 1174L946 1158L948 1159L964 1176L976 1194Z" fill="#0000FF" stroke="#0000FF"/><path d="M1017 1088L1017 1088L1024 1092L1021 1101L1016 1111Z" fill="#00FF00" stroke="#00FF00"/><path d="M1059 1075L1064 1068L1063 1059L1049 1059L1051 1066Z" fill="#00FF00" stroke="#00FF00"/><path d="M977 1189L977 1217L968 1217L973 1187Z" fill="#0000FF" stroke="#0000FF"/><path d="M969 1105L972 1086L976 1078L974 1115L974 1118L974 1119L967 1130Z" fill="#FF0000" stroke="#FF0000"/><path d="M1122 1155L1125 1164L1143 1210L1146 1215L1133 1178Z" fill="#FF0000" stroke="#FF0000"/><path d="M1061 1190L1067 1217L1064 1217L1054 1181L1055 1178L1058 1182Z" fill="#FF0000" stroke="#FF0000"/><path d="M1115 1158L1116 1146L1113 1136L1110 1160L1111 1164L1113 1163L1115 1160Z" fill="#00FF00" stroke="#00FF00"/><path d="M1068 1135L1074 1155L1075 1154L1073 1127L1071 1122Z" fill="#FF0000" stroke="#FF0000"/><path d="M869 1126L850 1080L852 1082L867 1111L872 1122L872 1123L870 1126Z" fill="#800080" stroke="#800080"/><path d="M852 1059L864 1059L873 1079L870 1082L867 1080L862 1074L861 1073Z" fill="#FF0000" stroke="#FF0000"/><path d="M995 1126L992 1137L992 1142L1008 1105Z" fill="#00FF00" stroke="#00FF00"/><path d="M1110 1064L1113 1059L1106 1059L1100 1068L1099 1071L1101 1075Z" fill="#0000FF" stroke="#0000FF"/><path d="M1058 1090L1058 1097L1053 1085L1057 1087Z" fill="#FFFF00" stroke="#FFFF00"/><path d="M895 1089L895 1088L882 1121L882 1122L884 1123L889 1118L894 1101Z" fill="#00FF00" stroke="#00FF00"/><path d="M1122 1166L1117 1157L1118 1154L1122 1162L1123 1167Z" fill="#00FF00" stroke="#00FF00"/><path d="M944 1096L938 1080L937 1077L944 1088L945 1096Z" fill="#00FF00" stroke="#00FF00"/><path d="M785 1113L791 1113L792 1114L795 1137L791 1135L786 1118Z" fill="#FF0000" stroke="#FF0000"/><path d="M1131 1138L1125 1135L1124 1129L1124 1119L1126 1123Z" fill="#00FF00" stroke="#00FF00"/><path d="M1014 1192L1007 1217L1012 1217L1025 1179L1017 1186Z" fill="#00FF00" stroke="#00FF00"/><path d="M788 1113L786 1097L786 1094L788 1093L794 1113Z" fill="#FF0000" stroke="#FF0000"/><path d="M925 1089L927 1078L925 1072L924 1074L916 1107Z" fill="#FFFF00" stroke="#FFFF00"/><path d="M914 1149L916 1160L916 1161L905 1191L905 1182Z" fill="#00FF00" stroke="#00FF00"/><path d="M826 1167L825 1167L809 1183L809 1182L817 1171L825 1162Z" fill="#0000FF" stroke="#0000FF"/><path d="M872 1143L874 1155L876 1164L878 1171L884 1175L884 1174L882 1160L876 1147Z" fill="#0000FF" stroke="#0000FF"/><path d="M836 1182L835 1175L832 1172L831 1187L836 1202Z" fill="#0000FF" stroke="#0000FF"/><path d="M923 1177L920 1183L920 1184L920 1214L926 1180Z" fill="#00FF00" stroke="#00FF00"/><path d="M1126 1158L1127 1155L1125 1149L1120 1135L1119 1136L1122 1148Z" fill="#0000FF" stroke="#0000FF"/><path d="M772 1103L780 1126L783 1127L781 1113L781 1111L774 1101Z" fill="#FF0000" stroke="#FF0000"/><path d="M1129 1176L1123 1157L1124 1157L1127 1164L1129 1176Z" fill="#0000FF" stroke="#0000FF"/><path d="M1046 1122L1055 1152L1055 1156L1045 1141L1045 1121L1046 1122Z" fill="#FF0000" stroke="#FF0000"/><path d="M1115 1188L1114 1190L1112 1198L1111 1217L1116 1217L1117 1204L1115 1190Z" fill="#FF0000" stroke="#FF0000"/><path d="M992 1146L1000 1137L1000 1142L999 1147L990 1157Z" fill="#0000FF" stroke="#0000FF"/><path d="M814 1059L822 1059L807 1075L799 1079Z" fill="#FF0000" stroke="#FF0000"/><path d="M849 1174L849 1178L847 1182L845 1183L845 1182L845 1162L845 1163Z" fill="#00FF00" stroke="#00FF00"/><path d="M1082 1176L1083 1185L1081 1196L1076 1200Z" fill="#00FF00" stroke="#00FF00"/><path d="M1085 1078L1092 1077L1096 1070L1102 1059L1095 1059Z" fill="#800080" stroke="#800080"/><path d="M781 1088L778 1088L779 1101L786 1111L782 1089Z" fill="#FF0000" stroke="#FF0000"/><path d="M780 1146L783 1155L780 1164L772 1144L773 1141Z" fill="#0000FF" stroke="#0000FF"/><path d="M1106 1217L1111 1195L1113 1198L1111 1217Z" fill="#0000FF" stroke="#0000FF"/><path d="M819 1154L809 1161L802 1169L803 1173L803 1173L818 1156Z" fill="#00FF00" stroke="#00FF00"/><path d="M1010 1176L1016 1168L1016 1168L1023 1136L1019 1141L1015 1148Z" fill="#FF0000" stroke="#FF0000"/><path d="M921 1110L922 1107L925 1074L916 1092L915 1102L916 1108L919 1111Z" fill="#00FF00" stroke="#00FF00"/><path d="M1108 1187L1110 1183L1108 1183L1079 1213L1077 1217L1083 1217Z" fill="#00FF00" stroke="#00FF00"/><path d="M1035 1154L1034 1160L1032 1157L1031 1154L1026 1137L1033 1145Z" fill="#0000FF" stroke="#0000FF"/><path d="M782 1089L783 1111L783 1113L785 1114L786 1097L786 1094L784 1089Z" fill="#00FF00" stroke="#00FF00"/><path d="M866 1120L856 1074L855 1073L856 1084L861 1116Z" fill="#FF0000" stroke="#FF0000"/><path d="M850 1174L853 1167L850 1153L847 1163Z" fill="#FF0000" stroke="#FF0000"/><path d="M1016 1083L1014 1088L1020 1092L1024 1084L1020 1077Z" fill="#0000FF" stroke="#0000FF"/><path d="M1105 1059L1094 1069L1093 1070L1101 1059Z" fill="#0000FF" stroke="#0000FF"/><path d="M1122 1154L1122 1148L1119 1136L1115 1128L1115 1146L1118 1158L1121 1157Z" fill="#FF0000" stroke="#FF0000"/><path d="M1013 1098L1006 1098L998 1118L1004 1112Z" fill="#FF0000" stroke="#FF0000"/><path d="M1026 1183L1022 1217L1020 1217L1024 1172Z" fill="#FF0000" stroke="#FF0000"/><path d="M842 1059L843 1075L849 1091L850 1089L850 1077L844 1059Z" fill="#FFFF00" stroke="#FFFF00"/><path d="M1057 1110L1060 1114L1061 1114L1060 1108L1058 1094L1055 1090L1055 1097L1057 1107Z" fill="#FFFF00" stroke="#FFFF00"/><path d="M814 1131L817 1126L818 1124L810 1131L804 1139L803 1144Z" fill="#FFFF00" stroke="#FFFF00"/><path d="M836 1096L834 1077L838 1081L842 1099L842 1110L838 1110Z" fill="#FF0000" stroke="#FF0000"/><path d="M865 1059L866 1059L879 1074L884 1098L872 1079L872 1079Z" fill="#FF0000" stroke="#FF0000"/><path d="M1067 1135L1074 1155L1073 1164L1068 1159L1066 1136Z" fill="#FF0000" stroke="#FF0000"/><path d="M1015 1090L1016 1096L1005 1121L1004 1112L1010 1098Z" fill="#0000FF" stroke="#0000FF"/><path d="M1050 1198L1061 1217L1053 1217L1047 1200Z" fill="#0000FF" stroke="#0000FF"/><path d="M1126 1059L1132 1059L1146 1089L1126 1059Z" fill="#0000FF" stroke="#0000FF"/><path d="M886 1083L889 1059L882 1059L880 1072L881 1079L885 1085Z" fill="#00FF00" stroke="#00FF00"/><path d="M942 1171L938 1152L946 1172L950 1186L950 1186L942 1173Z" fill="#FF0000" stroke="#FF0000"/><path d="M992 1102L987 1124L988 1125L997 1100L995 1096Z" fill="#FF0000" stroke="#FF0000"/><path d="M1123 1162L1125 1160L1124 1158L1118 1148L1120 1154Z" fill="#FF0000" stroke="#FF0000"/><path d="M1139 1148L1140 1150L1142 1149L1125 1099L1125 1104L1129 1122Z" fill="#FFFF00" stroke="#FFFF00"/><path d="M997 1084L1010 1059L1012 1059L1005 1079L1004 1083Z" fill="#FF0000" stroke="#FF0000"/><path d="M963 1157L966 1162L973 1178L973 1179L966 1174L964 1167Z" fill="#0000FF" stroke="#0000FF"/><path d="M856 1149L857 1154L859 1166L860 1173L858 1177L857 1173L852 1149Z" fill="#FF0000" stroke="#FF0000"/><path d="M816 1141L812 1144L813 1139L825 1121L828 1119L826 1126Z" fill="#00FF00" stroke="#00FF00"/><path d="M989 1147L990 1146L996 1137L996 1126L996 1125L994 1124L989 1136L988 1140L988 1141Z" fill="#00FF00" stroke="#00FF00"/><path d="M826 1059L825 1059L822 1094L822 1097L824 1097L826 1095L829 1080Z" fill="#0000FF" stroke="#0000FF"/><path d="M901 1152L907 1145L911 1140L915 1144L914 1149L894 1182L895 1167L898 1159L900 1155Z" fill="#00FF00" stroke="#00FF00"/><path d="M929 1106L931 1104L933 1098L930 1076L928 1078L927 1089L926 1105Z" fill="#FFFF00" stroke="#FFFF00"/><path d="M902 1101L901 1103L899 1107L884 1122L885 1118L897 1101Z" fill="#FF0000" stroke="#FF0000"/><path d="M819 1155L822 1153L823 1149L823 1141L821 1144L818 1153Z" fill="#FF0000" stroke="#FF0000"/><path d="M941 1113L945 1121L945 1110L943 1106L940 1103Z" fill="#0000FF" stroke="#0000FF"/><path d="M775 1217L767 1194L769 1194L779 1217Z" fill="#FFFF00" stroke="#FFFF00"/><path d="M788 1089L780 1059L782 1059L792 1088L792 1093L790 1094Z" fill="#FF0000" stroke="#FF0000"/><path d="M881 1196L880 1202L879 1200L871 1171L877 1175L879 1185Z" fill="#FFFF00" stroke="#FFFF00"/><path d="M1109 1177L1112 1190L1113 1188L1116 1163L1113 1164L1109 1177Z" fill="#00FF00" stroke="#00FF00"/><path d="M839 1183L841 1182L857 1217L851 1217L842 1196L839 1187Z" fill="#FFFF00" stroke="#FFFF00"/><path d="M787 1088L778 1063L777 1059L780 1059L790 1089L788 1089Z" fill="#00FF00" stroke="#00FF00"/><path d="M822 1131L811 1144L806 1154L806 1156L808 1157L820 1138Z" fill="#FF0000" stroke="#FF0000"/><path d="M987 1171L987 1173L985 1177L983 1170L983 1169L984 1164L993 1146Z" fill="#0000FF" stroke="#0000FF"/><path d="M1117 1166L1115 1160L1114 1163L1115 1188L1115 1190L1118 1180L1118 1175Z" fill="#FFFF00" stroke="#FFFF00"/><path d="M1040 1090L1027 1059L1029 1059L1056 1103L1057 1112L1047 1100Z" fill="#FF0000" stroke="#FF0000"/><path d="M1105 1200L1106 1183L1106 1183L1104 1187L1092 1217L1097 1217L1104 1203Z" fill="#0000FF" stroke="#0000FF"/><path d="M1073 1066L1068 1065L1072 1081L1076 1076L1076 1075Z" fill="#FF0000" stroke="#FF0000"/><path d="M1037 1154L1032 1137L1026 1129L1027 1134Z" fill="#FF0000" stroke="#FF0000"/><path d="M966 1087L968 1086L970 1105L965 1105L964 1101Z" fill="#0000FF" stroke="#0000FF"/><path d="M1052 1177L1048 1178L1053 1200L1056 1198L1056 1183Z" fill="#0000FF" stroke="#0000FF"/><path d="M1056 1122L1054 1121L1046 1108L1045 1099L1050 1106Z" fill="#FF0000" stroke="#FF0000"/><path d="M1037 1059L1052 1090L1039 1075L1027 1059Z" fill="#FFFF00" stroke="#FFFF00"/><path d="M1018 1067L1021 1059L1019 1059L1016 1069Z" fill="#FFFF00" stroke="#FFFF00"/><path d="M777 1099L775 1099L768 1068L774 1070L774 1071Z" fill="#FF0000" stroke="#FF0000"/><path d="M1017 1192L1010 1217L1003 1217L1012 1198Z" fill="#0000FF" stroke="#0000FF"/><path d="M944 1171L938 1141L937 1145L943 1172L944 1173Z" fill="#FF0000" stroke="#FF0000"/><path d="M989 1177L988 1192L979 1202L980 1192L986 1170Z" fill="#00FF00" stroke="#00FF00"/><path d="M1128 1194L1122 1177L1122 1175L1124 1176L1125 1176L1127 1180L1130 1189Z" fill="#0000FF" stroke="#0000FF"/><path d="M893 1065L886 1082L897 1063Z" fill="#00FF00" stroke="#00FF00"/><path d="M1096 1105L1108 1088L1109 1087L1087 1107L1083 1112Z" fill="#FF0000" stroke="#FF0000"/><path d="M1039 1173L1042 1178L1053 1200L1058 1217L1056 1217L1039 1179Z" fill="#FF0000" stroke="#FF0000"/><path d="M831 1080L836 1096L835 1110L834 1116L831 1103L830 1082Z" fill="#0000FF" stroke="#0000FF"/><path d="M929 1180L921 1214L921 1217L923 1217L935 1179Z" fill="#FF0000" stroke="#FF0000"/><path d="M1078 1203L1081 1200L1086 1196L1088 1202L1088 1204L1086 1213L1085 1217L1073 1217Z" fill="#00FF00" stroke="#00FF00"/><path d="M869 1156L873 1165L876 1171L876 1155L869 1143L865 1137Z" fill="#FF0000" stroke="#FF0000"/><path d="M1094 1118L1087 1132L1084 1135L1080 1136L1080 1135L1089 1112L1102 1096L1099 1107L1097 1112Z" fill="#0000FF" stroke="#0000FF"/><path d="M987 1102L989 1096L990 1090L989 1079L984 1089L985 1106Z" fill="#0000FF" stroke="#0000FF"/><path d="M1085 1111L1086 1112L1086 1135L1078 1147L1079 1121L1083 1112Z" fill="#FFFF00" stroke="#FFFF00"/><path d="M954 1176L952 1174L939 1159L930 1152L944 1172L954 1186L961 1192L961 1191Z" fill="#00FF00" stroke="#00FF00"/><path d="M890 1203L887 1217L883 1217L884 1205L888 1179L895 1166Z" fill="#FF0000" stroke="#FF0000"/><path d="M942 1141L943 1138L940 1123L937 1122L936 1140L937 1146L940 1145Z" fill="#0000FF" stroke="#0000FF"/><path d="M1054 1183L1029 1144L1029 1145L1032 1154Z" fill="#FFFF00" stroke="#FFFF00"/><path d="M1025 1197L1035 1217L1042 1217L1030 1191L1024 1183Z" fill="#FF0000" stroke="#FF0000"/><path d="M1064 1117L1067 1132L1069 1133L1066 1119Z" fill="#FFFF00" stroke="#FFFF00"/><path d="M1002 1202L1008 1189L1007 1200L999 1209Z" fill="#800080" stroke="#800080"/><path d="M792 1158L789 1143L789 1162L791 1174L794 1175Z" fill="#FF0000" stroke="#FF0000"/><path d="M957 1117L956 1108L970 1131L971 1136L971 1137L962 1127Z" fill="#FF0000" stroke="#FF0000"/><path d="M811 1103L821 1090L818 1100L815 1103L811 1108Z" fill="#0000FF" stroke="#0000FF"/><path d="M1035 1179L1057 1217L1053 1217L1032 1182Z" fill="#FF0000" stroke="#FF0000"/><path d="M1128 1189L1132 1196L1141 1210L1125 1164L1125 1180Z" fill="#FF0000" stroke="#FF0000"/><path d="M1103 1183L1104 1175L1080 1204L1075 1213Z" fill="#FF0000" stroke="#FF0000"/><path d="M832 1164L830 1159L827 1163L827 1167L830 1182L833 1187L834 1172L833 1166Z" fill="#00FF00" stroke="#00FF00"/><path d="M1094 1173L1093 1175L1077 1204L1077 1202L1093 1165L1094 1164Z" fill="#FFFF00" stroke="#FFFF00"/><path d="M872 1164L867 1155L868 1171L871 1177L877 1184Z" fill="#FFFF00" stroke="#FFFF00"/><path d="M921 1106L909 1135L906 1138L913 1119Z" fill="#FFFF00" stroke="#FFFF00"/><path d="M1046 1183L1050 1189L1050 1182L1021 1139L1022 1144Z" fill="#800080" stroke="#800080"/><path d="M820 1167L818 1162L822 1153L823 1155L820 1166Z" fill="#FF0000" stroke="#FF0000"/><path d="M800 1102L796 1114L795 1113L788 1093L788 1088L789 1081Z" fill="#FFFF00" stroke="#FFFF00"/><path d="M1074 1217L1071 1204L1070 1185L1073 1191L1077 1203L1078 1217Z" fill="#FFFF00" stroke="#FFFF00"/><path d="M864 1178L879 1198L869 1177L865 1171L861 1165L858 1164L860 1169Z" fill="#FF0000" stroke="#FF0000"/><path d="M836 1143L830 1130L829 1126L827 1117L838 1135L842 1146L844 1154L841 1151Z" fill="#0000FF" stroke="#0000FF"/><path d="M890 1084L890 1077L901 1059L909 1059L906 1064Z" fill="#00FF00" stroke="#00FF00"/><path d="M929 1134L932 1136L934 1156L930 1176L930 1176L925 1150L928 1137Z" fill="#FF0000" stroke="#FF0000"/><path d="M1081 1083L1082 1082L1087 1059L1084 1059L1078 1075L1076 1085L1076 1087Z" fill="#00FF00" stroke="#00FF00"/><path d="M869 1059L878 1059L882 1072L882 1074Z" fill="#0000FF" stroke="#0000FF"/><path d="M855 1113L850 1113L843 1097L842 1091L843 1089Z" fill="#0000FF" stroke="#0000FF"/><path d="M1070 1204L1066 1201L1067 1214L1067 1217L1073 1217Z" fill="#0000FF" stroke="#0000FF"/><path d="M857 1143L858 1147L850 1141L850 1140L846 1115L847 1115L848 1116Z" fill="#0000FF" stroke="#0000FF"/><path d="M957 1127L958 1135L966 1150L966 1148L966 1143L965 1137Z" fill="#00FF00" stroke="#00FF00"/><path d="M1116 1204L1118 1196L1124 1217L1118 1217Z" fill="#0000FF" stroke="#0000FF"/><path d="M786 1118L782 1117L784 1129L787 1139L789 1135Z" fill="#FF0000" stroke="#FF0000"/><path d="M955 1148L955 1150L957 1159L969 1176L970 1175L970 1174L967 1167Z" fill="#FF0000" stroke="#FF0000"/><path d="M960 1194L968 1217L972 1217L958 1175L957 1176Z" fill="#0000FF" stroke="#0000FF"/><path d="M801 1139L793 1146L795 1140L815 1109L815 1110L808 1131Z" fill="#FF0000" stroke="#FF0000"/><path d="M1073 1094L1076 1076L1071 1081L1071 1085L1073 1095Z" fill="#FF0000" stroke="#FF0000"/><path d="M835 1164L832 1143L836 1151L836 1166Z" fill="#FFFF00" stroke="#FFFF00"/><path d="M830 1127L821 1149L820 1153L820 1155L820 1155L829 1138L831 1130L831 1128Z" fill="#0000FF" stroke="#0000FF"/><path d="M806 1100L809 1096L831 1059L827 1059L815 1075L807 1090Z" fill="#FF0000" stroke="#FF0000"/><path d="M889 1185L875 1203L895 1166L896 1165L898 1164L898 1164L889 1185Z" fill="#FF0000" stroke="#FF0000"/><path d="M991 1159L992 1164L995 1157L993 1146L992 1147Z" fill="#FFFF00" stroke="#FFFF00"/><path d="M989 1147L990 1142L1005 1105L1009 1098L1011 1095L1012 1095L1011 1098L1006 1118L1003 1123L990 1147L989 1148L989 1148Z" fill="#FFFF00" stroke="#FFFF00"/><path d="M1128 1157L1128 1157L1127 1156L1126 1143L1125 1141L1131 1148L1131 1151Z" fill="#0000FF" stroke="#0000FF"/><path d="M997 1079L991 1095L992 1095L1000 1084L1014 1059L1010 1059Z" fill="#0000FF" stroke="#0000FF"/><path d="M863 1149L866 1154L875 1161L855 1126L854 1126L854 1126Z" fill="#0000FF" stroke="#0000FF"/><path d="M1120 1166L1116 1166L1120 1175L1121 1169L1120 1167Z" fill="#FF0000" stroke="#FF0000"/><path d="M785 1190L786 1174L789 1175L795 1185L799 1206L800 1217L791 1217L785 1190Z" fill="#0000FF" stroke="#0000FF"/><path d="M850 1163L849 1162L846 1155L843 1141L850 1147L851 1153Z" fill="#FFFF00" stroke="#FFFF00"/><path d="M844 1075L843 1081L839 1077L834 1059L843 1059Z" fill="#0000FF" stroke="#0000FF"/><path d="M1044 1122L1056 1152L1059 1152L1056 1138L1054 1133L1046 1123Z" fill="#FFFF00" stroke="#FFFF00"/><path d="M994 1159L994 1164L993 1172L993 1172L987 1173L988 1171Z" fill="#0000FF" stroke="#0000FF"/><path d="M983 1140L985 1136L995 1107L989 1114L983 1125L982 1131Z" fill="#FF0000" stroke="#FF0000"/><path d="M882 1164L881 1165L883 1149L887 1137L894 1122L896 1123L891 1143Z" fill="#FFFF00" stroke="#FFFF00"/><path d="M870 1126L871 1126L852 1080L847 1074L865 1120Z" fill="#0000FF" stroke="#0000FF"/><path d="M1066 1117L1065 1115L1066 1107L1066 1107L1068 1114L1067 1119Z" fill="#FF0000" stroke="#FF0000"/><path d="M1039 1183L1042 1189L1043 1191L1036 1183L1032 1178L1021 1160L1022 1154Z" fill="#FF0000" stroke="#FF0000"/><path d="M939 1173L947 1186L945 1198L940 1193L933 1182L933 1182L938 1172Z" fill="#0000FF" stroke="#0000FF"/><path d="M893 1063L889 1065L890 1059L897 1059Z" fill="#0000FF" stroke="#0000FF"/><path d="M1077 1176L1079 1162L1080 1158L1082 1154L1083 1163L1079 1185Z" fill="#FF0000" stroke="#FF0000"/><path d="M1034 1182L1032 1189L1033 1191L1045 1217L1053 1217L1034 1182Z" fill="#FFFF00" stroke="#FFFF00"/><path d="M919 1128L922 1111L919 1108L916 1123L918 1132Z" fill="#00FF00" stroke="#00FF00"/><path d="M999 1214L1000 1196L995 1187L991 1194L989 1217L998 1217Z" fill="#0000FF" stroke="#0000FF"/><path d="M868 1164L870 1184L877 1196L881 1200L872 1171Z" fill="#00FF00" stroke="#00FF00"/><path d="M1114 1094L1124 1119L1124 1100L1124 1099L1123 1096L1114 1090Z" fill="#FF0000" stroke="#FF0000"/><path d="M779 1103L781 1101L780 1088L775 1074L772 1071L776 1099Z" fill="#0000FF" stroke="#0000FF"/><path d="M1010 1090L1012 1083L1006 1084L999 1095L998 1098L1005 1098Z" fill="#FF0000" stroke="#FF0000"/><path d="M1119 1094L1120 1090L1119 1081L1115 1059L1115 1059L1112 1059L1118 1093Z" fill="#FF0000" stroke="#FF0000"/><path d="M1103 1111L1106 1105L1094 1112L1089 1118L1096 1119Z" fill="#FF0000" stroke="#FF0000"/><path d="M1108 1122L1109 1120L1112 1106L1109 1099L1103 1111L1104 1120Z" fill="#0000FF" stroke="#0000FF"/><path d="M823 1157L814 1171L804 1182L806 1173L821 1156Z" fill="#FFFF00" stroke="#FFFF00"/><path d="M884 1205L885 1205L888 1217L877 1217L875 1202L877 1196Z" fill="#FF0000" stroke="#FF0000"/><path d="M1074 1114L1074 1106L1072 1095L1068 1085L1067 1094L1067 1095L1072 1111Z" fill="#0000FF" stroke="#0000FF"/><path d="M938 1122L938 1124L945 1138L958 1152L967 1159L962 1152L939 1123Z" fill="#00FF00" stroke="#00FF00"/><path d="M1056 1106L1051 1099L1047 1087L1057 1105Z" fill="#0000FF" stroke="#0000FF"/><path d="M979 1119L969 1155L973 1153L981 1126L981 1122L979 1118Z" fill="#0000FF" stroke="#0000FF"/><path d="M988 1146L980 1164L980 1160L987 1131L990 1140L990 1141Z" fill="#00FF00" stroke="#00FF00"/><path d="M926 1113L930 1105L933 1106L931 1115L923 1132Z" fill="#0000FF" stroke="#0000FF"/><path d="M911 1205L911 1203L917 1203L916 1217L907 1217Z" fill="#FF0000" stroke="#FF0000"/><path d="M967 1090L964 1076L955 1059L952 1059L964 1085L966 1089Z" fill="#FF0000" stroke="#FF0000"/><path d="M921 1161L906 1191L906 1192L919 1181Z" fill="#FF0000" stroke="#FF0000"/><path d="M1019 1069L1017 1077L1023 1084L1024 1080L1024 1073L1020 1067Z" fill="#FF0000" stroke="#FF0000"/><path d="M924 1126L921 1128L920 1132L919 1139L924 1128Z" fill="#FF0000" stroke="#FF0000"/><path d="M1081 1112L1077 1121L1077 1121L1078 1096L1078 1095L1080 1085L1081 1087Z" fill="#FF0000" stroke="#FF0000"/><path d="M1108 1177L1108 1174L1106 1170L1105 1170L1100 1176L1097 1183L1096 1200Z" fill="#800080" stroke="#800080"/><path d="M782 1146L775 1141L775 1126L778 1127L780 1133Z" fill="#0000FF" stroke="#0000FF"/><path d="M963 1143L967 1157L968 1167L962 1148Z" fill="#FF0000" stroke="#FF0000"/><path d="M1091 1085L1096 1078L1104 1077L1099 1087L1081 1107L1085 1096Z" fill="#0000FF" stroke="#0000FF"/><path d="M1073 1059L1068 1059L1070 1065L1074 1066Z" fill="#0000FF" stroke="#0000FF"/><path d="M1074 1106L1077 1096L1077 1095L1074 1094L1073 1095L1072 1106Z" fill="#0000FF" stroke="#0000FF"/><path d="M787 1190L780 1174L777 1182L781 1195L787 1190Z" fill="#FF0000" stroke="#FF0000"/><path d="M1132 1176L1123 1157L1122 1156L1122 1155L1122 1158L1122 1160L1130 1175Z" fill="#FF0000" stroke="#FF0000"/><path d="M1052 1123L1057 1133L1057 1114L1055 1110Z" fill="#00FF00" stroke="#00FF00"/><path d="M856 1154L860 1166L866 1169L866 1164L864 1161Z" fill="#0000FF" stroke="#0000FF"/><path d="M1062 1086L1063 1084L1068 1094L1068 1095L1067 1107L1067 1107L1064 1095Z" fill="#0000FF" stroke="#0000FF"/><path d="M903 1104L899 1116L902 1114L919 1085L913 1085Z" fill="#FF0000" stroke="#FF0000"/><path d="M864 1200L871 1217L875 1217L871 1196L864 1184L858 1177L863 1198Z" fill="#00FF00" stroke="#00FF00"/><path d="M775 1059L770 1059L772 1068L777 1070Z" fill="#00FF00" stroke="#00FF00"/><path d="M836 1182L834 1175L834 1166L843 1187L845 1196L843 1197Z" fill="#00FF00" stroke="#00FF00"/><path d="M977 1179L974 1187L976 1192L986 1170L987 1169L982 1172Z" fill="#00FF00" stroke="#00FF00"/><path d="M1021 1183L1026 1217L1031 1217L1027 1197L1022 1184Z" fill="#FF0000" stroke="#FF0000"/><path d="M983 1077L981 1059L989 1059Z" fill="#FF0000" stroke="#FF0000"/><path d="M811 1124L813 1117L808 1110L803 1131Z" fill="#0000FF" stroke="#0000FF"/><path d="M807 1124L810 1117L818 1104L819 1103L820 1108L813 1118L806 1126Z" fill="#00FF00" stroke="#00FF00"/><path d="M873 1202L872 1200L867 1196L871 1217L881 1217Z" fill="#800080" stroke="#800080"/><path d="M1120 1167L1121 1169L1125 1177L1125 1177L1126 1175L1120 1160L1119 1162Z" fill="#0000FF" stroke="#0000FF"/><path d="M929 1113L926 1111L923 1126L923 1128L924 1137L925 1134L926 1132Z" fill="#0000FF" stroke="#0000FF"/><path d="M802 1102L795 1114L790 1137L790 1137L796 1150L800 1140L804 1109L804 1099Z" fill="#FF0000" stroke="#FF0000"/><path d="M829 1127L829 1125L826 1126L818 1141L816 1149Z" fill="#FF0000" stroke="#FF0000"/><path d="M1067 1119L1068 1114L1070 1111L1071 1114L1072 1122L1069 1135L1068 1136L1068 1133Z" fill="#FF0000" stroke="#FF0000"/><path d="M1025 1184L1029 1178L1032 1183L1031 1197Z" fill="#00FF00" stroke="#00FF00"/><path d="M1108 1120L1109 1111L1108 1111L1104 1119L1098 1129L1097 1133L1096 1135L1098 1138Z" fill="#00FF00" stroke="#00FF00"/><path d="M866 1217L854 1217L852 1202L852 1183L854 1188Z" fill="#00FF00" stroke="#00FF00"/><path d="M967 1121L945 1090L944 1089L942 1085L955 1099Z" fill="#FFFF00" stroke="#FFFF00"/><path d="M1023 1176L1029 1168L1028 1172L1011 1217L1010 1217L1021 1179Z" fill="#0000FF" stroke="#0000FF"/><path d="M1136 1122L1130 1104L1126 1102L1123 1104L1130 1119L1132 1123Z" fill="#FF0000" stroke="#FF0000"/><path d="M862 1082L880 1111L865 1079L865 1079Z" fill="#FF0000" stroke="#FF0000"/><path d="M878 1118L885 1113L879 1079L877 1072L876 1074L875 1098Z" fill="#0000FF" stroke="#0000FF"/><path d="M1098 1170L1101 1174L1109 1160L1112 1150Z" fill="#0000FF" stroke="#0000FF"/><path d="M791 1059L792 1063L794 1081L793 1088L785 1059Z" fill="#FFFF00" stroke="#FFFF00"/><path d="M839 1197L841 1196L845 1217L834 1217L833 1211Z" fill="#FFFF00" stroke="#FFFF00"/><path d="M888 1194L891 1185L892 1185L915 1160Z" fill="#0000FF" stroke="#0000FF"/><path d="M857 1116L854 1095L850 1074L847 1078L855 1115L856 1116Z" fill="#0000FF" stroke="#0000FF"/><path d="M1114 1093L1113 1093L1109 1064L1109 1059L1116 1059Z" fill="#FFFF00" stroke="#FFFF00"/><path d="M944 1123L965 1152L962 1142L949 1123L948 1123Z" fill="#00FF00" stroke="#00FF00"/><path d="M907 1155L891 1164L880 1185L903 1160L904 1159Z" fill="#00FF00" stroke="#00FF00"/><path d="M1081 1111L1087 1083L1082 1087L1079 1112Z" fill="#FF0000" stroke="#FF0000"/><path d="M874 1120L876 1137L877 1143L881 1147L886 1137L885 1122L885 1121L882 1115L881 1113L874 1118Z" fill="#0000FF" stroke="#0000FF"/><path d="M945 1152L958 1172L948 1152L939 1138L938 1140Z" fill="#0000FF" stroke="#0000FF"/><path d="M1052 1122L1054 1123L1055 1110L1055 1107L1053 1105L1051 1106L1052 1122Z" fill="#00FF00" stroke="#00FF00"/><path d="M1115 1146L1119 1128L1119 1127L1110 1120L1110 1122L1110 1131L1111 1136Z" fill="#FF0000" stroke="#FF0000"/><path d="M782 1133L784 1129L783 1117L782 1114L781 1113L780 1127Z" fill="#FF0000" stroke="#FF0000"/><path d="M961 1090L967 1101L967 1087L961 1076Z" fill="#00FF00" stroke="#00FF00"/><path d="M1102 1133L1090 1152L1079 1162L1083 1155L1099 1135L1102 1132Z" fill="#0000FF" stroke="#0000FF"/><path d="M953 1090L963 1101L965 1105L967 1108L969 1117L963 1113L960 1108L955 1099L952 1089Z" fill="#FF0000" stroke="#FF0000"/><path d="M817 1103L816 1114L824 1098L820 1096L818 1100Z" fill="#FF0000" stroke="#FF0000"/><path d="M1005 1175L1000 1178L1002 1158L1005 1148L1005 1147L1012 1156Z" fill="#0000FF" stroke="#0000FF"/><path d="M1019 1067L1023 1073L1025 1059L1021 1059Z" fill="#FF0000" stroke="#FF0000"/><path d="M1052 1156L1054 1177L1057 1183L1059 1181L1059 1178L1058 1165Z" fill="#FFFF00" stroke="#FFFF00"/><path d="M1015 1136L1016 1131L1025 1120L1025 1133L1018 1161L1015 1168Z" fill="#FF0000" stroke="#FF0000"/><path d="M834 1182L836 1200L841 1218L839 1200Z" fill="#FF0000"/><path d="M880 1084L874 1090L871 1097L877 1091Z" fill="#0000FF"/><path d="M945 1103L938 1117L933 1132L941 1118Z" fill="#FF0000"/><path d="M1023 1154L1029 1169L1037 1183L1032 1168Z" fill="#FFFF00"/><path d="M880 1084L889 1101L900 1117L891 1100Z" fill="#00FF00"/><path d="M945 1118L942 1134L941 1150L944 1134Z" fill="#00FF00"/><path d="M998 1078L994 1087L995 1096L998 1087Z" fill="#FF0000"/><path d="M986 1177L986 1186L989 1195L988 1186Z" fill="#FF0000"/><path d="M944 1086L938 1099L935 1114L940 1100Z" fill="#0000FF"/><path d="M1012 1142L1006 1149L1004 1158L1009 1151Z" fill="#FFFF00"/><path d="M1010 1059L1007 1071L1007 1083L1010 1071Z" fill="#FF0000"/><path d="M898 1135L906 1148L914 1160L907 1147Z" fill="#FF0000"/><path d="M985 1182L982 1190L981 1198L985 1190Z" fill="#0000FF"/><path d="M1033 1105L1035 1120L1040 1134L1038 1119Z" fill="#0000FF"/><path d="M837 1146L840 1160L847 1173L844 1159Z" fill="#00FF00"/><path d="M859 1162L853 1176L851 1191L857 1177Z" fill="#00FF00"/><path d="M976 1109L977 1122L983 1134L981 1121Z" fill="#0000FF"/><path d="M1064 1188L1071 1209L1080 1229L1073 1208Z" fill="#0000FF"/><path d="M1059 1134L1054 1147L1051 1159L1056 1147Z" fill="#00FF00"/><path d="M839 1110L849 1129L861 1146L851 1127Z" fill="#FFFF00"/><path d="M881 1046L880 1063L882 1081L883 1063Z" fill="#0000FF"/><path d="M1033 1055L1031 1076L1031 1097L1034 1076Z" fill="#FF0000"/><path d="M941 1133L941 1153L944 1173L944 1153Z" fill="#0000FF"/><path d="M994 1064L997 1074L1001 1083L998 1073Z" fill="#FF0000"/><path d="M897 1175L896 1183L898 1191L899 1183Z" fill="#FF0000"/><path d="M970 1147L968 1159L969 1171L970 1159Z" fill="#00FF00"/><path d="M1052 1192L1051 1202L1052 1211L1053 1202Z" fill="#FF0000"/><path d="M854 1187L855 1209L858 1230L857 1209Z" fill="#FF0000"/><path d="M842 1181L845 1188L850 1194L847 1187Z" fill="#0000FF"/><path d="M1006 1149L1002 1162L1000 1175L1004 1162Z" fill="#00FF00"/><path d="M897 1082L900 1093L905 1103L902 1092Z" fill="#0000FF"/><path d="M890 1152L885 1166L882 1180L887 1166Z" fill="#FFFF00"/><path d="M1019 1137L1024 1149L1030 1160L1025 1148Z" fill="#00FF00"/><path d="M1011 1193L1006 1205L1003 1217L1008 1205Z" fill="#FF0000"/><path d="M1020 1122L1014 1132L1010 1144L1017 1134Z" fill="#FF0000"/><path d="M1030 1052L1027 1071L1027 1089L1029 1071Z" fill="#FF0000"/><path d="M864 1171L865 1186L868 1199L867 1185Z" fill="#FFFF00"/><path d="M855 1078L856 1090L860 1101L859 1089Z" fill="#FFFF00"/><path d="M850 1121L849 1138L851 1154L852 1137Z" fill="#00FF00"/><path d="M933 1170L934 1179L939 1185L938 1177Z" fill="#00FF00"/><path d="M1047 1069L1055 1089L1066 1109L1058 1088Z" fill="#0000FF"/><path d="M959 1205L959 1215L963 1223L963 1214Z" fill="#FF0000"/><path d="M839 1095L841 1107L846 1118L844 1106Z" fill="#FF0000"/><path d="M930 1095L935 1107L941 1119L936 1107Z" fill="#FF0000"/><path d="M1050 1085L1045 1102L1042 1120L1047 1102Z" fill="#FF0000"/><path d="M997 1061L990 1076L988 1092L994 1077Z" fill="#FFFF00"/><path d="M1054 1137L1050 1155L1048 1172L1052 1155Z" fill="#0000FF"/><path d="M996 1079L1004 1097L1015 1113L1007 1095Z" fill="#0000FF"/><path d="M954 1177L949 1192L947 1207L952 1192Z" fill="#FFFF00"/><path d="M1017 1204L1013 1212L1009 1221L1014 1213Z" fill="#FF0000"/><path d="M840 1156L839 1169L841 1182L842 1169Z" fill="#FF0000"/><path d="M915 1059L904 1074L895 1091L906 1075Z" fill="#FFFF00"/><path d="M1056 1057L1060 1070L1066 1081L1062 1069Z" fill="#FF0000"/><path d="M880 1063L872 1077L864 1091L873 1077Z" fill="#FFFF00"/><path d="M870 1068L867 1080L865 1093L869 1081Z" fill="#0000FF"/><path d="M965 1127L974 1145L986 1160L977 1143Z" fill="#FF0000"/><path d="M978 1064L973 1080L970 1097L975 1081Z" fill="#FF0000"/><path d="M908 1124L912 1142L918 1159L914 1141Z" fill="#00FF00"/><path d="M962 1115L954 1134L949 1153L957 1135Z" fill="#FFFF00"/><path d="M944 1184L946 1202L949 1220L948 1202Z" fill="#00FF00"/><path d="M941 1136l4 2l2 4l-3 2Z" fill="#00FFFF"/><path d="M996 1199l5 2l2 5l-4 2Z" fill="#00FFFF"/><path d="M1032 1138l6 3l3 6l-5 3Z" fill="#00FFFF"/><path d="M1009 1159l4 2l2 4l-3 2Z" fill="#00FFFF"/><path d="M1067 1066l4 2l2 4l-3 2Z" fill="#00FFFF"/><path d="M858 1165l5 3l3 5l-4 3Z" fill="#00FFFF"/><path d="M1070 1086l3 2l2 3l-3 2Z" fill="#00FFFF"/></g>
<path d="M831.2 1216.8V1058.6H1075.4" fill="none" stroke="#000" stroke-width="1.2"/>
<clipPath id="c3"><rect x="1102.3" y="1131.6" width="244.9" height="159.0"/></clipPath>
<g clip-path="url(#c3)" stroke-width="0.6" stroke-linejoin="round" shape-rendering="crispEdges"><rect x="1102.3" y="1131.6" width="244.9" height="159.0" fill="#0000FF"/><path d="M1152 1216L1150 1213L1155 1209L1162 1211L1162 1211L1166 1223L1160 1224Z" fill="#FF0000" stroke="#FF0000"/><path d="M1193 1227L1193 1233L1188 1230L1190 1227Z" fill="#FFFF00" stroke="#FFFF00"/><path d="M1246 1147L1254 1149L1260 1148L1255 1140L1246 1147Z" fill="#FF0000" stroke="#FF0000"/><path d="M1102 1273L1105 1273L1109 1257L1102 1257Z" fill="#FFFF00" stroke="#FFFF00"/><path d="M1173 1172L1171 1161L1157 1168L1157 1171L1169 1177L1172 1176L1173 1175Z" fill="#00FF00" stroke="#00FF00"/><path d="M1347 1199L1347 1212L1339 1208L1344 1201Z" fill="#FF0000" stroke="#FF0000"/><path d="M1311 1215L1311 1215L1299 1212L1297 1205L1310 1204Z" fill="#00FF00" stroke="#00FF00"/><path d="M1257 1167L1254 1149L1260 1148L1262 1148L1264 1150L1260 1168Z" fill="#FFFF00" stroke="#FFFF00"/><path d="M1256 1282L1253 1276L1260 1264L1262 1265L1263 1268L1257 1281Z" fill="#FF0000" stroke="#FF0000"/><path d="M1224 1252L1227 1257L1237 1254L1236 1247L1229 1244L1225 1249Z" fill="#FFFF00" stroke="#FFFF00"/><path d="M1275 1140L1277 1132L1263 1132L1262 1148L1264 1150L1266 1150Z" fill="#0000FF" stroke="#0000FF"/><path d="M1291 1232L1287 1235L1280 1230L1288 1219L1295 1220L1296 1223Z" fill="#0000FF" stroke="#0000FF"/><path d="M1166 1133L1166 1132L1200 1132L1198 1134L1176 1141Z" fill="#00FF00" stroke="#00FF00"/><path d="M1314 1201L1312 1201L1310 1204L1311 1215L1314 1217L1316 1216L1318 1215L1320 1210Z" fill="#FF0000" stroke="#FF0000"/><path d="M1271 1273L1271 1270L1276 1263L1286 1272L1282 1275L1272 1274Z" fill="#FF0000" stroke="#FF0000"/><path d="M1277 1283L1281 1280L1282 1275L1272 1274L1273 1280Z" fill="#0000FF" stroke="#0000FF"/><path d="M1209 1258L1209 1256L1199 1249L1193 1247L1192 1247L1187 1270L1188 1270L1209 1259Z" fill="#FFFF00" stroke="#FFFF00"/><path d="M1216 1289L1207 1279L1207 1277L1215 1273L1225 1276Z" fill="#00FF00" stroke="#00FF00"/><path d="M1316 1153L1306 1149L1308 1144L1321 1142L1321 1150Z" fill="#FFFF00" stroke="#FFFF00"/><path d="M1140 1172L1142 1170L1147 1159L1143 1153L1134 1154L1132 1156L1125 1171L1140 1173L1140 1173Z" fill="#FFFF00" stroke="#FFFF00"/><path d="M1329 1201L1330 1200L1337 1198L1344 1201L1339 1208L1339 1208L1329 1203Z" fill="#00FF00" stroke="#00FF00"/><path d="M1252 1174L1251 1179L1252 1181L1260 1186L1268 1175L1265 1170L1260 1168L1257 1167L1255 1168Z" fill="#FF0000" stroke="#FF0000"/><path d="M1223 1191L1235 1184L1239 1204L1236 1210L1235 1211L1222 1204Z" fill="#800080" stroke="#800080"/><path d="M1185 1211L1193 1211L1195 1214L1190 1227L1188 1230L1186 1230L1176 1226L1176 1226L1182 1212Z" fill="#0000FF" stroke="#0000FF"/><path d="M1253 1288L1252 1291L1242 1291L1230 1276L1234 1273L1248 1267L1253 1276L1256 1282Z" fill="#00FF00" stroke="#00FF00"/><path d="M1269 1282L1273 1280L1272 1274L1271 1273L1262 1279Z" fill="#FFFF00" stroke="#FFFF00"/><path d="M1315 1288L1315 1291L1311 1291L1312 1287Z" fill="#FF0000" stroke="#FF0000"/><path d="M1265 1170L1275 1157L1274 1155L1266 1150L1264 1150L1260 1168Z" fill="#00FF00" stroke="#00FF00"/><path d="M1315 1288L1312 1287L1300 1282L1300 1280L1319 1280L1315 1287Z" fill="#0000FF" stroke="#0000FF"/><path d="M1316 1216L1329 1228L1330 1220L1318 1215Z" fill="#0000FF" stroke="#0000FF"/><path d="M1265 1170L1275 1157L1277 1157L1288 1168L1285 1174L1270 1175L1268 1175Z" fill="#0000FF" stroke="#0000FF"/><path d="M1314 1217L1314 1233L1313 1234L1305 1229L1301 1225L1311 1215L1311 1215Z" fill="#00FF00" stroke="#00FF00"/><path d="M1165 1136L1165 1147L1168 1152L1171 1153L1176 1141L1166 1133Z" fill="#FF0000" stroke="#FF0000"/><path d="M1312 1287L1300 1282L1297 1291L1311 1291Z" fill="#0000FF" stroke="#0000FF"/><path d="M1129 1256L1128 1261L1117 1263L1116 1262L1114 1257L1116 1253Z" fill="#00FF00" stroke="#00FF00"/><path d="M1191 1149L1201 1170L1208 1164L1218 1152L1215 1138L1211 1132L1200 1132L1198 1134Z" fill="#0000FF" stroke="#0000FF"/><path d="M1168 1261L1170 1262L1176 1266L1178 1249L1172 1249Z" fill="#FF0000" stroke="#FF0000"/><path d="M1312 1132L1331 1132L1321 1142L1308 1144L1308 1139Z" fill="#00FF00" stroke="#00FF00"/><path d="M1246 1147L1255 1140L1260 1132L1255 1132L1246 1147Z" fill="#FF0000" stroke="#FF0000"/><path d="M1288 1185L1289 1182L1285 1174L1270 1175L1274 1188L1283 1189Z" fill="#FFFF00" stroke="#FFFF00"/><path d="M1315 1287L1329 1291L1336 1291L1321 1279L1319 1280Z" fill="#FF0000" stroke="#FF0000"/><path d="M1216 1289L1225 1276L1227 1275L1230 1276L1242 1291L1216 1291Z" fill="#FF0000" stroke="#FF0000"/><path d="M1176 1141L1198 1134L1191 1149L1180 1155L1173 1155L1171 1153Z" fill="#FFFF00" stroke="#FFFF00"/><path d="M1241 1142L1244 1132L1255 1132L1246 1147Z" fill="#FF0000" stroke="#FF0000"/><path d="M1162 1192L1158 1189L1151 1190L1144 1196L1156 1202L1162 1192Z" fill="#0000FF" stroke="#0000FF"/><path d="M1255 1168L1257 1167L1254 1149L1246 1147L1244 1152L1249 1165Z" fill="#0000FF" stroke="#0000FF"/><path d="M1117 1263L1121 1272L1119 1284L1105 1273L1116 1262Z" fill="#FF0000" stroke="#FF0000"/><path d="M1188 1270L1190 1274L1192 1291L1159 1291L1159 1289L1179 1269L1187 1270Z" fill="#FF0000" stroke="#FF0000"/><path d="M1318 1197L1313 1183L1322 1178L1326 1179L1327 1199Z" fill="#800080" stroke="#800080"/><path d="M1219 1204L1207 1217L1212 1222L1232 1215L1235 1211L1222 1204Z" fill="#00FF00" stroke="#00FF00"/><path d="M1272 1228L1250 1230L1250 1230L1248 1218L1253 1217L1270 1224L1271 1224Z" fill="#00FF00" stroke="#00FF00"/><path d="M1230 1233L1238 1237L1250 1230L1248 1218L1236 1210L1235 1211L1232 1215L1229 1229Z" fill="#FF0000" stroke="#FF0000"/><path d="M1328 1205L1331 1219L1336 1217L1339 1208L1329 1203Z" fill="#00FF00" stroke="#00FF00"/><path d="M1209 1242L1199 1249L1209 1256L1210 1255Z" fill="#FF0000" stroke="#FF0000"/><path d="M1154 1177L1154 1177L1157 1171L1169 1177L1163 1190L1162 1192L1158 1189L1154 1179Z" fill="#FF0000" stroke="#FF0000"/><path d="M1336 1217L1347 1225L1347 1212L1339 1208L1339 1208Z" fill="#00FF00" stroke="#00FF00"/><path d="M1238 1142L1215 1138L1211 1132L1244 1132L1241 1142Z" fill="#0000FF" stroke="#0000FF"/><path d="M1203 1215L1196 1214L1198 1224L1202 1233L1210 1232L1211 1232L1212 1222L1207 1217Z" fill="#0000FF" stroke="#0000FF"/><path d="M1120 1237L1116 1241L1102 1239L1102 1210L1102 1210L1116 1221Z" fill="#800080" stroke="#800080"/><path d="M1260 1148L1262 1148L1263 1132L1260 1132L1255 1140Z" fill="#FF0000" stroke="#FF0000"/><path d="M1256 1214L1253 1217L1248 1218L1236 1210L1239 1204L1253 1196L1260 1195L1268 1201L1268 1201L1265 1205Z" fill="#FFFF00" stroke="#FFFF00"/><path d="M1268 1175L1270 1175L1274 1188L1268 1201L1260 1195L1260 1186Z" fill="#0000FF" stroke="#0000FF"/><path d="M1279 1258L1267 1241L1284 1246L1283 1255Z" fill="#0000FF" stroke="#0000FF"/><path d="M1117 1143L1109 1149L1102 1147L1102 1132L1121 1132L1121 1132Z" fill="#0000FF" stroke="#0000FF"/><path d="M1270 1284L1273 1291L1252 1291L1253 1288Z" fill="#0000FF" stroke="#0000FF"/><path d="M1167 1195L1169 1197L1162 1211L1155 1209L1156 1202L1162 1192Z" fill="#FFFF00" stroke="#FFFF00"/><path d="M1235 1182L1251 1179L1252 1181L1248 1186L1235 1183Z" fill="#00FF00" stroke="#00FF00"/><path d="M1188 1172L1201 1170L1204 1178L1199 1188L1188 1188L1186 1181L1185 1175Z" fill="#FF0000" stroke="#FF0000"/><path d="M1195 1214L1190 1227L1193 1227L1198 1224L1196 1214Z" fill="#00FF00" stroke="#00FF00"/><path d="M1171 1198L1169 1197L1167 1195L1178 1188L1183 1192L1182 1193Z" fill="#00FF00" stroke="#00FF00"/><path d="M1283 1132L1278 1132L1284 1139L1295 1137L1295 1135Z" fill="#FFFF00" stroke="#FFFF00"/><path d="M1256 1247L1240 1243L1236 1247L1237 1254L1238 1256L1251 1257Z" fill="#0000FF" stroke="#0000FF"/><path d="M1183 1164L1180 1155L1173 1155L1171 1161L1173 1172Z" fill="#FF0000" stroke="#FF0000"/><path d="M1299 1156L1288 1168L1305 1175L1306 1164Z" fill="#00FF00" stroke="#00FF00"/><path d="M1144 1213L1136 1207L1134 1202L1134 1199L1144 1196L1156 1202L1155 1209L1150 1213Z" fill="#0000FF" stroke="#0000FF"/><path d="M1276 1144L1274 1155L1266 1150L1275 1140Z" fill="#FF0000" stroke="#FF0000"/><path d="M1178 1188L1183 1192L1186 1190L1188 1188L1186 1181L1177 1185L1177 1186Z" fill="#FF0000" stroke="#FF0000"/><path d="M1312 1201L1304 1193L1302 1194L1295 1203L1297 1205L1310 1204Z" fill="#0000FF" stroke="#0000FF"/><path d="M1316 1154L1316 1153L1306 1149L1299 1153L1299 1156L1306 1164L1314 1164Z" fill="#FFFF00" stroke="#FFFF00"/><path d="M1186 1230L1188 1246L1185 1245L1181 1241L1176 1227L1176 1226L1176 1226Z" fill="#FF0000" stroke="#FF0000"/><path d="M1314 1201L1320 1210L1328 1205L1329 1203L1329 1201L1327 1199L1318 1197Z" fill="#00FF00" stroke="#00FF00"/><path d="M1165 1147L1145 1146L1143 1153L1147 1159L1149 1160L1168 1152Z" fill="#FF0000" stroke="#FF0000"/><path d="M1231 1176L1238 1169L1236 1157L1232 1156L1220 1154L1228 1175Z" fill="#00FF00" stroke="#00FF00"/><path d="M1292 1272L1299 1279L1312 1263L1308 1251L1292 1261Z" fill="#FF0000" stroke="#FF0000"/><path d="M1140 1172L1154 1177L1154 1179L1148 1180L1140 1173Z" fill="#0000FF" stroke="#0000FF"/><path d="M1305 1229L1296 1234L1309 1245L1313 1234Z" fill="#0000FF" stroke="#0000FF"/><path d="M1312 1183L1306 1179L1290 1183L1302 1194L1304 1193Z" fill="#FF0000" stroke="#FF0000"/><path d="M1139 1184L1131 1191L1128 1190L1124 1176L1125 1171L1125 1171L1140 1173Z" fill="#FF0000" stroke="#FF0000"/><path d="M1288 1168L1285 1174L1289 1182L1290 1183L1306 1179L1305 1175L1288 1168Z" fill="#00FF00" stroke="#00FF00"/><path d="M1185 1211L1188 1194L1186 1190L1183 1192L1182 1193Z" fill="#FF0000" stroke="#FF0000"/><path d="M1213 1197L1200 1190L1198 1202L1212 1201L1214 1200Z" fill="#FF0000" stroke="#FF0000"/><path d="M1324 1161L1326 1152L1347 1145L1347 1159L1324 1162Z" fill="#0000FF" stroke="#0000FF"/><path d="M1119 1284L1120 1287L1119 1291L1102 1291L1102 1273L1105 1273L1105 1273Z" fill="#FF0000" stroke="#FF0000"/><path d="M1315 1288L1315 1291L1329 1291L1315 1287Z" fill="#0000FF" stroke="#0000FF"/><path d="M1216 1289L1207 1279L1203 1291L1216 1291Z" fill="#0000FF" stroke="#0000FF"/><path d="M1320 1169L1322 1178L1326 1179L1332 1179L1347 1177L1347 1177L1347 1159L1324 1162Z" fill="#00FF00" stroke="#00FF00"/><path d="M1276 1263L1286 1272L1292 1272L1292 1261L1283 1255L1279 1258L1276 1260Z" fill="#FF0000" stroke="#FF0000"/><path d="M1266 1215L1265 1205L1256 1214Z" fill="#00FF00" stroke="#00FF00"/><path d="M1172 1176L1177 1185L1177 1186L1163 1190L1169 1177Z" fill="#0000FF" stroke="#0000FF"/><path d="M1165 1136L1145 1143L1145 1146L1165 1147Z" fill="#0000FF" stroke="#0000FF"/><path d="M1234 1180L1235 1182L1251 1179L1252 1174Z" fill="#FFFF00" stroke="#FFFF00"/><path d="M1301 1135L1296 1144L1296 1151L1299 1153L1306 1149L1308 1144L1308 1139Z" fill="#0000FF" stroke="#0000FF"/><path d="M1314 1233L1329 1232L1333 1249L1329 1250L1309 1248L1309 1245L1313 1234Z" fill="#0000FF" stroke="#0000FF"/><path d="M1321 1279L1320 1268L1322 1267L1333 1267L1345 1291L1336 1291Z" fill="#FF0000" stroke="#FF0000"/><path d="M1314 1217L1314 1233L1329 1232L1329 1232L1329 1228L1316 1216Z" fill="#0000FF" stroke="#0000FF"/><path d="M1116 1253L1114 1257L1109 1257L1102 1257L1102 1239L1116 1241Z" fill="#0000FF" stroke="#0000FF"/><path d="M1140 1173L1140 1173L1139 1184L1144 1184L1148 1180Z" fill="#0000FF" stroke="#0000FF"/><path d="M1266 1215L1270 1224L1253 1217L1256 1214Z" fill="#00FF00" stroke="#00FF00"/><path d="M1207 1277L1199 1274L1190 1274L1192 1291L1203 1291L1207 1279Z" fill="#00FF00" stroke="#00FF00"/><path d="M1248 1186L1253 1196L1260 1195L1260 1186L1252 1181Z" fill="#FFFF00" stroke="#FFFF00"/><path d="M1157 1258L1148 1275L1153 1282L1170 1262L1168 1261Z" fill="#FFFF00" stroke="#FFFF00"/><path d="M1210 1255L1209 1256L1209 1258L1225 1262L1227 1257L1224 1252L1215 1251Z" fill="#FF0000" stroke="#FF0000"/><path d="M1183 1164L1180 1155L1191 1149L1201 1170L1201 1170L1188 1172Z" fill="#FF0000" stroke="#FF0000"/><path d="M1227 1275L1225 1262L1227 1257L1237 1254L1238 1256L1234 1273L1230 1276Z" fill="#FF0000" stroke="#FF0000"/><path d="M1137 1248L1153 1252L1157 1258L1157 1258L1148 1275L1147 1275L1147 1274L1140 1264L1136 1251Z" fill="#0000FF" stroke="#0000FF"/><path d="M1329 1250L1322 1267L1333 1267L1341 1253L1333 1249Z" fill="#0000FF" stroke="#0000FF"/><path d="M1301 1135L1308 1139L1312 1132L1298 1132Z" fill="#0000FF" stroke="#0000FF"/><path d="M1251 1258L1248 1267L1253 1276L1260 1264Z" fill="#FF0000" stroke="#FF0000"/><path d="M1111 1164L1102 1168L1102 1173L1110 1181L1124 1176L1125 1171Z" fill="#00FF00" stroke="#00FF00"/><path d="M1182 1212L1176 1226L1166 1223L1162 1211L1176 1209Z" fill="#0000FF" stroke="#0000FF"/><path d="M1212 1201L1198 1202L1196 1204L1193 1211L1195 1214L1196 1214L1203 1215Z" fill="#00FF00" stroke="#00FF00"/><path d="M1283 1132L1295 1135L1298 1132Z" fill="#FF0000" stroke="#FF0000"/><path d="M1117 1143L1109 1149L1111 1161L1122 1153Z" fill="#FF0000" stroke="#FF0000"/><path d="M1145 1143L1142 1132L1121 1132L1121 1132L1134 1154L1143 1153L1145 1146Z" fill="#0000FF" stroke="#0000FF"/><path d="M1341 1253L1347 1252L1347 1291L1345 1291L1333 1267Z" fill="#0000FF" stroke="#0000FF"/><path d="M1119 1220L1126 1204L1134 1202L1136 1207L1126 1218Z" fill="#FF0000" stroke="#FF0000"/><path d="M1185 1175L1186 1181L1177 1185L1172 1176L1173 1175Z" fill="#800080" stroke="#800080"/><path d="M1198 1236L1193 1247L1192 1247L1188 1246L1186 1230L1188 1230L1193 1233Z" fill="#FF0000" stroke="#FF0000"/><path d="M1235 1183L1235 1184L1239 1204L1253 1196L1248 1186Z" fill="#800080" stroke="#800080"/><path d="M1148 1180L1144 1184L1151 1190L1158 1189L1154 1179Z" fill="#0000FF" stroke="#0000FF"/><path d="M1139 1232L1144 1213L1136 1207L1126 1218Z" fill="#00FF00" stroke="#00FF00"/><path d="M1283 1189L1274 1188L1268 1201L1268 1201L1278 1206L1279 1205Z" fill="#00FF00" stroke="#00FF00"/><path d="M1132 1156L1125 1171L1125 1171L1111 1164L1111 1161L1122 1153Z" fill="#0000FF" stroke="#0000FF"/><path d="M1193 1227L1193 1233L1198 1236L1202 1233L1198 1224Z" fill="#FFFF00" stroke="#FFFF00"/><path d="M1288 1185L1289 1182L1290 1183L1302 1194L1295 1203L1293 1203Z" fill="#FF0000" stroke="#FF0000"/><path d="M1305 1229L1296 1234L1291 1232L1296 1223L1301 1225Z" fill="#FF0000" stroke="#FF0000"/><path d="M1215 1185L1214 1182L1204 1178L1199 1188L1200 1190L1213 1197Z" fill="#FF0000" stroke="#FF0000"/><path d="M1228 1237L1229 1244L1225 1249L1218 1240Z" fill="#0000FF" stroke="#0000FF"/><path d="M1213 1237L1210 1232L1202 1233L1198 1236L1193 1247L1199 1249L1209 1242Z" fill="#FF0000" stroke="#FF0000"/><path d="M1226 1176L1214 1182L1204 1178L1201 1170L1201 1170L1208 1164Z" fill="#FF0000" stroke="#FF0000"/><path d="M1230 1233L1238 1237L1240 1243L1236 1247L1229 1244L1228 1237Z" fill="#00FF00" stroke="#00FF00"/><path d="M1126 1204L1102 1210L1102 1210L1102 1203L1112 1192L1128 1190L1131 1191L1134 1199L1134 1202Z" fill="#FFFF00" stroke="#FFFF00"/><path d="M1210 1266L1199 1274L1207 1277L1215 1273Z" fill="#800080" stroke="#800080"/><path d="M1327 1199L1326 1179L1332 1179L1332 1195L1330 1200L1329 1201Z" fill="#0000FF" stroke="#0000FF"/><path d="M1329 1250L1309 1248L1308 1250L1308 1251L1312 1263L1320 1268L1322 1267Z" fill="#FF0000" stroke="#FF0000"/><path d="M1176 1209L1162 1211L1162 1211L1169 1197L1171 1198Z" fill="#FFFF00" stroke="#FFFF00"/><path d="M1136 1251L1140 1264L1129 1263L1128 1261L1129 1256Z" fill="#0000FF" stroke="#0000FF"/><path d="M1257 1281L1263 1268L1271 1270L1271 1273L1262 1279Z" fill="#800080" stroke="#800080"/><path d="M1291 1232L1287 1235L1288 1243L1308 1250L1309 1248L1309 1245L1296 1234Z" fill="#FFFF00" stroke="#FFFF00"/><path d="M1288 1219L1279 1210L1271 1224L1272 1228L1272 1229L1280 1230Z" fill="#00FF00" stroke="#00FF00"/><path d="M1139 1232L1126 1218L1119 1220L1116 1221L1120 1237L1134 1238L1139 1233Z" fill="#FF0000" stroke="#FF0000"/><path d="M1111 1161L1109 1149L1102 1147L1102 1168L1111 1164Z" fill="#FFFF00" stroke="#FFFF00"/><path d="M1290 1148L1296 1151L1296 1144L1295 1137L1284 1139Z" fill="#0000FF" stroke="#0000FF"/><path d="M1132 1156L1122 1153L1117 1143L1121 1132L1134 1154Z" fill="#0000FF" stroke="#0000FF"/><path d="M1316 1154L1324 1161L1324 1162L1320 1169L1314 1164Z" fill="#00FF00" stroke="#00FF00"/><path d="M1109 1257L1105 1273L1105 1273L1116 1262L1114 1257Z" fill="#FFFF00" stroke="#FFFF00"/><path d="M1129 1263L1128 1268L1147 1274L1140 1264Z" fill="#0000FF" stroke="#0000FF"/><path d="M1276 1263L1271 1270L1263 1268L1262 1265L1269 1258L1276 1260Z" fill="#FF0000" stroke="#FF0000"/><path d="M1329 1228L1329 1232L1347 1230L1347 1225L1336 1217L1331 1219L1330 1220Z" fill="#800080" stroke="#800080"/><path d="M1298 1132L1298 1132L1295 1135L1295 1137L1296 1144L1301 1135Z" fill="#FF0000" stroke="#FF0000"/><path d="M1288 1219L1279 1210L1278 1206L1279 1205L1293 1203L1295 1203L1297 1205L1299 1212L1295 1220Z" fill="#00FF00" stroke="#00FF00"/><path d="M1276 1144L1274 1155L1275 1157L1277 1157L1283 1151Z" fill="#FFFF00" stroke="#FFFF00"/><path d="M1286 1272L1292 1272L1299 1279L1300 1280L1300 1282L1297 1291L1293 1291L1281 1280L1282 1275Z" fill="#00FF00" stroke="#00FF00"/><path d="M1128 1190L1112 1192L1110 1181L1124 1176Z" fill="#0000FF" stroke="#0000FF"/><path d="M1251 1257L1238 1256L1234 1273L1248 1267L1251 1258Z" fill="#0000FF" stroke="#0000FF"/><path d="M1171 1153L1173 1155L1171 1161L1157 1168L1149 1160L1168 1152Z" fill="#00FF00" stroke="#00FF00"/><path d="M1155 1235L1155 1236L1161 1238L1176 1226L1176 1226L1176 1226L1166 1223L1160 1224Z" fill="#00FF00" stroke="#00FF00"/><path d="M1288 1185L1293 1203L1279 1205L1283 1189Z" fill="#00FF00" stroke="#00FF00"/><path d="M1186 1190L1188 1194L1196 1204L1198 1202L1200 1190L1199 1188L1188 1188Z" fill="#FF0000" stroke="#FF0000"/><path d="M1185 1211L1188 1194L1196 1204L1193 1211L1185 1211Z" fill="#FF0000" stroke="#FF0000"/><path d="M1119 1220L1126 1204L1102 1210L1116 1221Z" fill="#0000FF" stroke="#0000FF"/><path d="M1347 1199L1347 1185L1337 1198L1344 1201Z" fill="#00FF00" stroke="#00FF00"/><path d="M1290 1148L1296 1151L1299 1153L1299 1156L1288 1168L1288 1168L1277 1157L1283 1151Z" fill="#FFFF00" stroke="#FFFF00"/><path d="M1276 1260L1279 1258L1267 1241L1267 1241L1258 1246L1269 1258Z" fill="#00FF00" stroke="#00FF00"/><path d="M1266 1215L1270 1224L1271 1224L1279 1210L1278 1206L1268 1201L1265 1205Z" fill="#FFFF00" stroke="#FFFF00"/><path d="M1213 1237L1210 1232L1211 1232L1229 1229L1230 1233L1228 1237L1218 1240L1216 1240Z" fill="#0000FF" stroke="#0000FF"/><path d="M1316 1154L1316 1153L1321 1150L1326 1152L1324 1161Z" fill="#00FF00" stroke="#00FF00"/><path d="M1134 1238L1137 1248L1136 1251L1129 1256L1116 1253L1116 1241L1120 1237Z" fill="#00FF00" stroke="#00FF00"/><path d="M1320 1210L1318 1215L1330 1220L1331 1219L1328 1205Z" fill="#FF0000" stroke="#FF0000"/><path d="M1213 1237L1216 1240L1215 1251L1210 1255L1209 1242Z" fill="#0000FF" stroke="#0000FF"/><path d="M1140 1172L1142 1170L1154 1177L1154 1177Z" fill="#00FF00" stroke="#00FF00"/><path d="M1153 1235L1139 1233L1139 1232L1144 1213L1150 1213L1152 1216Z" fill="#00FF00" stroke="#00FF00"/><path d="M1183 1164L1173 1172L1173 1175L1185 1175L1188 1172Z" fill="#FF0000" stroke="#FF0000"/><path d="M1269 1282L1273 1280L1277 1283L1276 1291L1273 1291L1270 1284Z" fill="#0000FF" stroke="#0000FF"/><path d="M1172 1249L1178 1249L1185 1245L1181 1241L1171 1241L1168 1244Z" fill="#0000FF" stroke="#0000FF"/><path d="M1209 1259L1188 1270L1190 1274L1199 1274L1210 1266Z" fill="#FF0000" stroke="#FF0000"/><path d="M1231 1176L1234 1180L1252 1174L1255 1168L1249 1165L1238 1169Z" fill="#00FF00" stroke="#00FF00"/><path d="M1165 1136L1145 1143L1142 1132L1166 1132L1166 1133Z" fill="#0000FF" stroke="#0000FF"/><path d="M1215 1185L1213 1197L1214 1200L1219 1204L1222 1204L1223 1191Z" fill="#0000FF" stroke="#0000FF"/><path d="M1139 1184L1131 1191L1134 1199L1144 1196L1151 1190L1144 1184Z" fill="#0000FF" stroke="#0000FF"/><path d="M1192 1247L1187 1270L1179 1269L1176 1266L1178 1249L1185 1245L1188 1246Z" fill="#FF0000" stroke="#FF0000"/><path d="M1120 1287L1119 1291L1159 1291L1159 1289L1153 1282L1148 1275L1147 1275Z" fill="#FFFF00" stroke="#FFFF00"/><path d="M1229 1229L1232 1215L1212 1222L1211 1232Z" fill="#FF0000" stroke="#FF0000"/><path d="M1225 1276L1215 1273L1210 1266L1209 1259L1209 1258L1225 1262L1227 1275Z" fill="#FF0000" stroke="#FF0000"/><path d="M1311 1215L1299 1212L1295 1220L1296 1223L1301 1225Z" fill="#FF0000" stroke="#FF0000"/><path d="M1216 1240L1218 1240L1225 1249L1224 1252L1215 1251Z" fill="#0000FF" stroke="#0000FF"/><path d="M1314 1201L1312 1201L1304 1193L1312 1183L1313 1183L1318 1197Z" fill="#00FF00" stroke="#00FF00"/><path d="M1277 1283L1281 1280L1293 1291L1276 1291Z" fill="#FF0000" stroke="#FF0000"/><path d="M1228 1175L1226 1176L1208 1164L1218 1152L1220 1154Z" fill="#FFFF00" stroke="#FFFF00"/><path d="M1155 1236L1161 1238L1167 1244L1157 1258L1153 1252Z" fill="#FF0000" stroke="#FF0000"/><path d="M1253 1288L1270 1284L1269 1282L1262 1279L1257 1281L1256 1282Z" fill="#0000FF" stroke="#0000FF"/><path d="M1314 1164L1306 1164L1305 1175L1306 1179L1312 1183L1313 1183L1322 1178L1320 1169Z" fill="#FF0000" stroke="#FF0000"/><path d="M1157 1168L1157 1171L1154 1177L1142 1170L1147 1159L1149 1160Z" fill="#FF0000" stroke="#FF0000"/><path d="M1153 1235L1139 1233L1134 1238L1137 1248L1153 1252L1155 1236L1155 1235Z" fill="#FF0000" stroke="#FF0000"/><path d="M1319 1280L1300 1280L1299 1279L1312 1263L1320 1268L1321 1279Z" fill="#FF0000" stroke="#FF0000"/><path d="M1159 1289L1179 1269L1176 1266L1170 1262L1153 1282Z" fill="#0000FF" stroke="#0000FF"/><path d="M1185 1211L1182 1193L1171 1198L1176 1209L1182 1212L1185 1211Z" fill="#FF0000" stroke="#FF0000"/><path d="M1278 1132L1284 1139L1290 1148L1283 1151L1276 1144L1275 1140L1277 1132Z" fill="#FF0000" stroke="#FF0000"/><path d="M1128 1261L1117 1263L1121 1272L1128 1268L1129 1263Z" fill="#FF0000" stroke="#FF0000"/><path d="M1178 1188L1167 1195L1162 1192L1162 1192L1163 1190L1177 1186Z" fill="#FF0000" stroke="#FF0000"/><path d="M1257 1246L1250 1230L1250 1230L1238 1237L1240 1243L1256 1247Z" fill="#FFFF00" stroke="#FFFF00"/><path d="M1112 1192L1110 1181L1102 1173L1102 1203Z" fill="#0000FF" stroke="#0000FF"/><path d="M1219 1204L1207 1217L1203 1215L1212 1201L1214 1200Z" fill="#FFFF00" stroke="#FFFF00"/><path d="M1153 1235L1152 1216L1160 1224L1155 1235Z" fill="#00FF00" stroke="#00FF00"/><path d="M1330 1200L1332 1195L1347 1177L1347 1177L1347 1185L1337 1198Z" fill="#0000FF" stroke="#0000FF"/><path d="M1236 1157L1244 1152L1246 1147L1246 1147L1246 1147L1241 1142L1238 1142L1232 1156Z" fill="#0000FF" stroke="#0000FF"/><path d="M1161 1238L1176 1226L1176 1227L1171 1241L1168 1244L1167 1244Z" fill="#FFFF00" stroke="#FFFF00"/><path d="M1121 1272L1128 1268L1147 1274L1147 1275L1120 1287L1119 1284Z" fill="#FF0000" stroke="#FF0000"/><path d="M1321 1150L1321 1142L1331 1132L1347 1132L1347 1145L1326 1152Z" fill="#FF0000" stroke="#FF0000"/><path d="M1332 1195L1332 1179L1347 1177Z" fill="#FFFF00" stroke="#FFFF00"/><path d="M1283 1255L1292 1261L1308 1251L1308 1250L1288 1243L1284 1246Z" fill="#FF0000" stroke="#FF0000"/><path d="M1181 1241L1176 1227L1171 1241Z" fill="#FFFF00" stroke="#FFFF00"/><path d="M1269 1258L1258 1246L1257 1246L1256 1247L1251 1257L1251 1258L1260 1264L1262 1265Z" fill="#00FF00" stroke="#00FF00"/><path d="M1167 1244L1168 1244L1172 1249L1168 1261L1157 1258L1157 1258Z" fill="#0000FF" stroke="#0000FF"/><path d="M1329 1232L1333 1249L1341 1253L1347 1252L1347 1230L1329 1232Z" fill="#FF0000" stroke="#FF0000"/><path d="M1220 1154L1218 1152L1215 1138L1238 1142L1232 1156Z" fill="#FFFF00" stroke="#FFFF00"/><path d="M1231 1176L1234 1180L1235 1182L1235 1183L1235 1184L1223 1191L1215 1185L1214 1182L1226 1176L1228 1175Z" fill="#0000FF" stroke="#0000FF"/><path d="M1267 1241L1267 1241L1272 1229L1280 1230L1287 1235L1288 1243L1284 1246Z" fill="#FF0000" stroke="#FF0000"/><path d="M1238 1169L1249 1165L1244 1152L1236 1157Z" fill="#FF0000" stroke="#FF0000"/><path d="M1258 1246L1267 1241L1272 1229L1272 1228L1250 1230L1257 1246Z" fill="#FFFF00" stroke="#FFFF00"/><path d="M1217 1245L1232 1247L1232 1248L1217 1246Z" fill="#FFFF00"/><path d="M1151 1246L1137 1261L1135 1259L1149 1244Z" fill="#0000FF"/><path d="M1219 1258L1236 1268L1235 1270L1218 1259Z" fill="#FF0000"/><path d="M1223 1128L1222 1154L1219 1154L1221 1128Z" fill="#800080"/><path d="M1331 1250L1330 1272L1328 1272L1329 1250Z" fill="#FF0000"/><path d="M1169 1140L1180 1144L1179 1147L1168 1143Z" fill="#00FFFF"/><path d="M1201 1203L1176 1207L1176 1204L1201 1201Z" fill="#FF0000"/><path d="M1241 1150L1248 1156L1246 1158L1240 1152Z" fill="#0000FF"/><path d="M1332 1225L1331 1233L1328 1233L1330 1225Z" fill="#00FF00"/><path d="M1131 1244L1136 1268L1135 1269L1130 1245Z" fill="#FF0000"/><path d="M1201 1202L1189 1227L1186 1225L1198 1200Z" fill="#FF0000"/><path d="M1177 1175L1184 1197L1181 1198L1173 1177Z" fill="#FF0000"/><path d="M1165 1269L1174 1296L1173 1297L1163 1269Z" fill="#0000FF"/><path d="M1113 1189L1113 1206L1110 1207L1109 1189Z" fill="#FF0000"/><path d="M1279 1239L1288 1243L1287 1246L1278 1242Z" fill="#FF0000"/><path d="M1345 1287L1321 1288L1321 1286L1345 1285Z" fill="#0000FF"/><path d="M1172 1219L1164 1220L1163 1218L1172 1217Z" fill="#FF0000"/><path d="M1136 1232L1144 1254L1142 1255L1134 1233Z" fill="#FF0000"/><path d="M1127 1133L1148 1147L1147 1148L1126 1134Z" fill="#FF0000"/><path d="M1312 1125L1323 1153L1321 1153L1310 1126Z" fill="#FF0000"/><path d="M1205 1158L1213 1161L1212 1163L1204 1160Z" fill="#0000FF"/><path d="M1122 1179L1145 1195L1145 1196L1121 1180Z" fill="#0000FF"/><path d="M1353 1287L1340 1289L1340 1287L1353 1285Z" fill="#00FF00"/><path d="M1130 1257L1128 1276L1125 1275L1127 1257Z" fill="#0000FF"/><path d="M1244 1196L1242 1215L1239 1215L1242 1195Z" fill="#0000FF"/><path d="M1140 1217L1164 1232L1163 1235L1138 1220Z" fill="#FF0000"/><path d="M1175 1263L1185 1265L1185 1267L1174 1265Z" fill="#00FF00"/><path d="M1320 1149L1314 1154L1312 1151L1318 1146Z" fill="#00FF00"/><path d="M1272 1203L1269 1228L1268 1227L1271 1203Z" fill="#0000FF"/><path d="M1184 1219L1182 1232L1180 1232L1182 1219Z" fill="#FFFF00"/><path d="M1191 1188L1170 1192L1169 1189L1190 1185Z" fill="#FFFF00"/><path d="M1294 1171L1321 1182L1320 1184L1293 1172Z" fill="#00FF00"/><path d="M1155 1278L1160 1301L1158 1302L1153 1278Z" fill="#0000FF"/><path d="M1223 1209L1203 1210L1203 1206L1223 1206Z" fill="#00FF00"/><path d="M1232 1285L1230 1294L1228 1294L1230 1285Z" fill="#00FF00"/><path d="M1306 1141L1279 1143L1279 1141L1306 1139Z" fill="#0000FF"/><path d="M1235 1134L1222 1148L1221 1147L1234 1133Z" fill="#0000FF"/><path d="M1275 1182L1280 1196L1278 1196L1273 1183Z" fill="#0000FF"/><path d="M1323 1236L1328 1244L1326 1246L1321 1237Z" fill="#FF0000"/><path d="M1191 1224L1197 1234L1196 1234L1190 1225Z" fill="#0000FF"/><path d="M1149 1124L1154 1148L1152 1148L1147 1124Z" fill="#0000FF"/><path d="M1314 1254L1299 1277L1297 1276L1312 1252Z" fill="#FF0000"/><path d="M1224 1273L1231 1284L1230 1285L1223 1274Z" fill="#00FF00"/><path d="M1138 1261L1159 1263L1159 1264L1138 1262Z" fill="#0000FF"/><path d="M1183 1202L1210 1215L1209 1217L1182 1204Z" fill="#FF0000"/><path d="M1227 1189L1231 1211L1228 1211L1224 1190Z" fill="#FF0000"/><path d="M1272 1246L1247 1256L1246 1255L1272 1244Z" fill="#800080"/><path d="M1345 1138L1347 1146L1345 1146L1343 1138Z" fill="#FF0000"/><path d="M1313 1182L1297 1189L1296 1186L1312 1180Z" fill="#FF0000"/><path d="M1266 1284L1257 1286L1256 1284L1265 1281Z" fill="#00FF00"/><path d="M1231 1218L1232 1228L1230 1228L1229 1218Z" fill="#00FF00"/><path d="M1194 1179L1207 1191L1205 1193L1191 1182Z" fill="#00FF00"/><path d="M1179 1270L1175 1280L1172 1279L1176 1269Z" fill="#0000FF"/><path d="M1182 1258L1180 1279L1177 1279L1179 1258Z" fill="#0000FF"/><path d="M1124 1198L1110 1204L1110 1203L1123 1197Z" fill="#FF0000"/><path d="M1149 1139L1149 1157L1146 1157L1146 1139Z" fill="#FF0000"/><path d="M1187 1250L1173 1255L1172 1254L1186 1248Z" fill="#FFFF00"/><path d="M1300 1135L1314 1144L1313 1146L1299 1137Z" fill="#FF0000"/><path d="M1176 1130L1199 1148L1198 1150L1174 1132Z" fill="#0000FF"/><path d="M1206 1216L1217 1225L1215 1227L1204 1218Z" fill="#FFFF00"/><path d="M1196 1158L1189 1180L1187 1179L1194 1157Z" fill="#0000FF"/><path d="M1256 1226L1242 1238L1241 1236L1255 1225Z" fill="#0000FF"/><path d="M1228 1219L1220 1230L1217 1229L1225 1217Z" fill="#FF0000"/><path d="M1202 1203L1195 1220L1193 1220L1200 1202Z" fill="#800080"/><path d="M1149 1238L1145 1253L1143 1253L1147 1238Z" fill="#FF0000"/><path d="M1182 1150L1195 1157L1194 1159L1181 1153Z" fill="#0000FF"/><path d="M1198 1132L1192 1146L1190 1145L1196 1131Z" fill="#FFFF00"/><path d="M1296 1218L1282 1224L1281 1221L1295 1215Z" fill="#00FF00"/><path d="M1196 1195L1168 1202L1167 1199L1195 1192Z" fill="#0000FF"/><path d="M1271 1241L1268 1256L1266 1256L1269 1241Z" fill="#FF0000"/><path d="M1175 1162l7 4l4 7l-5 4Z" fill="#00FFFF"/><path d="M1277 1183l4 2l2 4l-3 2Z" fill="#00FFFF"/><path d="M1326 1209l6 3l3 6l-4 3Z" fill="#00FFFF"/><path d="M1216 1276l6 3l3 6l-4 3Z" fill="#00FFFF"/><path d="M1192 1247l6 3l3 6l-5 3Z" fill="#00FFFF"/><path d="M1274 1158l6 3l3 6l-5 3Z" fill="#00FFFF"/><path d="M1131 1219l4 2l2 4l-3 2Z" fill="#00FFFF"/></g>
<clipPath id="c4"><rect x="1379.7" y="1138.9" width="244.6" height="159.2"/></clipPath>
<g clip-path="url(#c4)" stroke-width="0.6" stroke-linejoin="round" shape-rendering="crispEdges"><rect x="1379.7" y="1138.9" width="244.6" height="159.2" fill="#0000FF"/><path d="M1444 1163L1433 1164L1430 1158L1430 1156L1440 1146L1443 1145L1445 1162Z" fill="#00FF00" stroke="#00FF00"/><path d="M1481 1155L1478 1145L1465 1154L1463 1161L1466 1174L1483 1165Z" fill="#00FF00" stroke="#00FF00"/><path d="M1397 1189L1398 1189L1401 1189L1408 1209L1402 1214L1395 1211L1388 1195Z" fill="#00FF00" stroke="#00FF00"/><path d="M1598 1268L1607 1255L1612 1269L1602 1273Z" fill="#00FF00" stroke="#00FF00"/><path d="M1566 1162L1560 1161L1551 1177L1558 1186L1575 1179Z" fill="#FF0000" stroke="#FF0000"/><path d="M1498 1180L1521 1168L1523 1169L1523 1177L1507 1189Z" fill="#800080" stroke="#800080"/><path d="M1430 1156L1422 1148L1411 1158L1411 1161L1430 1158Z" fill="#0000FF" stroke="#0000FF"/><path d="M1415 1298L1426 1283L1434 1282L1436 1283L1439 1287L1439 1290L1429 1298Z" fill="#0000FF" stroke="#0000FF"/><path d="M1572 1277L1581 1286L1581 1285L1591 1267L1587 1257L1572 1275Z" fill="#00FF00" stroke="#00FF00"/><path d="M1568 1161L1585 1175L1584 1181L1575 1179L1566 1162Z" fill="#800080" stroke="#800080"/><path d="M1463 1235L1449 1255L1444 1255L1431 1249L1432 1241L1451 1232L1452 1232Z" fill="#00FF00" stroke="#00FF00"/><path d="M1551 1284L1572 1277L1572 1275L1567 1267L1555 1257L1547 1263L1543 1284Z" fill="#FFFF00" stroke="#FFFF00"/><path d="M1591 1139L1591 1139L1600 1147L1597 1156L1589 1154L1589 1145Z" fill="#FFFF00" stroke="#FFFF00"/><path d="M1510 1236L1516 1260L1532 1257L1535 1239L1519 1232L1513 1233Z" fill="#FFFF00" stroke="#FFFF00"/><path d="M1497 1162L1495 1166L1493 1172L1494 1179L1496 1179L1498 1180L1521 1168L1516 1157L1497 1161Z" fill="#FF0000" stroke="#FF0000"/><path d="M1498 1153L1497 1161L1497 1162L1479 1144L1481 1139L1486 1139Z" fill="#0000FF" stroke="#0000FF"/><path d="M1602 1273L1601 1279L1609 1286L1624 1278L1624 1276L1612 1269Z" fill="#00FF00" stroke="#00FF00"/><path d="M1524 1185L1523 1177L1507 1189L1509 1193L1514 1193Z" fill="#FF0000" stroke="#FF0000"/><path d="M1598 1236L1606 1237L1603 1223L1600 1225L1596 1232Z" fill="#0000FF" stroke="#0000FF"/><path d="M1598 1268L1591 1267L1581 1285L1583 1285L1601 1279L1602 1273Z" fill="#FF0000" stroke="#FF0000"/><path d="M1499 1200L1506 1198L1514 1212L1510 1219L1488 1208Z" fill="#FF0000" stroke="#FF0000"/><path d="M1520 1203L1533 1197L1546 1212L1542 1214L1515 1211Z" fill="#0000FF" stroke="#0000FF"/><path d="M1411 1174L1405 1185L1427 1198L1430 1181L1426 1176L1411 1174Z" fill="#00FF00" stroke="#00FF00"/><path d="M1591 1139L1570 1139L1576 1152L1589 1145Z" fill="#FF0000" stroke="#FF0000"/><path d="M1397 1227L1380 1228L1380 1243L1400 1245L1399 1229Z" fill="#FF0000" stroke="#FF0000"/><path d="M1432 1241L1451 1232L1456 1208L1448 1212L1430 1238Z" fill="#0000FF" stroke="#0000FF"/><path d="M1499 1200L1496 1179L1494 1179L1466 1196L1467 1199L1474 1208L1488 1208Z" fill="#FF0000" stroke="#FF0000"/><path d="M1609 1169L1609 1181L1610 1182L1614 1186L1624 1187L1624 1160L1611 1166Z" fill="#FFFF00" stroke="#FFFF00"/><path d="M1493 1172L1494 1179L1466 1196L1466 1196L1465 1193L1466 1174L1483 1165Z" fill="#FF0000" stroke="#FF0000"/><path d="M1537 1171L1548 1177L1532 1195L1524 1185L1523 1177L1523 1169L1529 1169Z" fill="#0000FF" stroke="#0000FF"/><path d="M1455 1260L1477 1259L1482 1248L1481 1245L1450 1255Z" fill="#0000FF" stroke="#0000FF"/><path d="M1477 1231L1463 1235L1452 1232L1474 1209Z" fill="#FF0000" stroke="#FF0000"/><path d="M1597 1156L1600 1147L1606 1149L1609 1157L1609 1160L1598 1156Z" fill="#FF0000" stroke="#FF0000"/><path d="M1395 1170L1402 1170L1411 1174L1405 1185L1401 1189L1398 1189L1388 1172L1392 1171Z" fill="#00FF00" stroke="#00FF00"/><path d="M1569 1230L1556 1229L1556 1248L1557 1251L1566 1248L1570 1241Z" fill="#FF0000" stroke="#FF0000"/><path d="M1430 1181L1448 1182L1465 1193L1466 1196L1427 1199L1427 1198Z" fill="#00FF00" stroke="#00FF00"/><path d="M1427 1199L1410 1210L1425 1228L1432 1209Z" fill="#FF0000" stroke="#FF0000"/><path d="M1410 1259L1400 1245L1380 1243L1380 1259L1403 1267Z" fill="#00FF00" stroke="#00FF00"/><path d="M1581 1286L1581 1285L1583 1285L1608 1290L1608 1298L1579 1298Z" fill="#FF0000" stroke="#FF0000"/><path d="M1535 1294L1534 1298L1577 1298L1551 1284L1543 1284Z" fill="#FF0000" stroke="#FF0000"/><path d="M1397 1189L1380 1179L1380 1197L1388 1195Z" fill="#800080" stroke="#800080"/><path d="M1607 1253L1607 1255L1612 1269L1624 1276L1624 1254L1607 1253Z" fill="#00FF00" stroke="#00FF00"/><path d="M1477 1292L1483 1282L1486 1284L1491 1298L1480 1298Z" fill="#0000FF" stroke="#0000FF"/><path d="M1532 1257L1547 1263L1543 1284L1535 1294L1513 1264L1516 1260Z" fill="#FF0000" stroke="#FF0000"/><path d="M1444 1163L1448 1182L1465 1193L1466 1174L1463 1161L1445 1162Z" fill="#0000FF" stroke="#0000FF"/><path d="M1479 1144L1478 1145L1481 1155L1495 1166L1497 1162Z" fill="#00FF00" stroke="#00FF00"/><path d="M1477 1292L1480 1298L1460 1298L1468 1281Z" fill="#0000FF" stroke="#0000FF"/><path d="M1479 1144L1478 1145L1465 1154L1447 1141L1447 1139L1481 1139Z" fill="#FF0000" stroke="#FF0000"/><path d="M1391 1155L1391 1155L1380 1157L1380 1170L1388 1172L1392 1171Z" fill="#FF0000" stroke="#FF0000"/><path d="M1570 1192L1586 1194L1586 1203L1583 1204L1570 1200Z" fill="#0000FF" stroke="#0000FF"/><path d="M1445 1162L1463 1161L1465 1154L1447 1141L1443 1145Z" fill="#FF0000" stroke="#FF0000"/><path d="M1624 1207L1612 1199L1606 1211L1608 1213L1624 1210Z" fill="#0000FF" stroke="#0000FF"/><path d="M1440 1146L1423 1141L1422 1148L1430 1156Z" fill="#00FF00" stroke="#00FF00"/><path d="M1392 1156L1395 1170L1392 1171L1391 1155Z" fill="#0000FF" stroke="#0000FF"/><path d="M1549 1154L1554 1153L1556 1154L1560 1161L1551 1177L1548 1177L1537 1171Z" fill="#0000FF" stroke="#0000FF"/><path d="M1402 1214L1397 1227L1380 1228L1380 1212L1395 1211Z" fill="#0000FF" stroke="#0000FF"/><path d="M1439 1290L1452 1295L1455 1298L1429 1298Z" fill="#FF0000" stroke="#FF0000"/><path d="M1410 1210L1408 1209L1402 1214L1397 1227L1399 1229L1426 1233L1425 1228Z" fill="#00FF00" stroke="#00FF00"/><path d="M1570 1200L1555 1202L1550 1212L1574 1214L1583 1204Z" fill="#FF0000" stroke="#FF0000"/><path d="M1608 1216L1608 1213L1624 1210L1624 1227L1619 1227Z" fill="#0000FF" stroke="#0000FF"/><path d="M1427 1199L1427 1199L1466 1196L1466 1196L1467 1199L1456 1208L1448 1212L1432 1209Z" fill="#FF0000" stroke="#FF0000"/><path d="M1388 1195L1380 1197L1380 1212L1395 1211Z" fill="#00FF00" stroke="#00FF00"/><path d="M1436 1283L1440 1277L1447 1276L1448 1279L1439 1287Z" fill="#FF0000" stroke="#FF0000"/><path d="M1583 1204L1574 1214L1574 1215L1587 1225L1589 1222L1591 1208L1586 1203Z" fill="#FF0000" stroke="#FF0000"/><path d="M1397 1189L1380 1179L1380 1170L1388 1172L1398 1189Z" fill="#0000FF" stroke="#0000FF"/><path d="M1444 1163L1448 1182L1430 1181L1426 1176L1433 1164Z" fill="#0000FF" stroke="#0000FF"/><path d="M1434 1282L1433 1271L1440 1277L1436 1283Z" fill="#0000FF" stroke="#0000FF"/><path d="M1411 1158L1400 1148L1401 1139L1422 1139L1423 1141L1422 1148Z" fill="#00FF00" stroke="#00FF00"/><path d="M1606 1237L1609 1239L1611 1237L1619 1227L1608 1216L1603 1223Z" fill="#0000FF" stroke="#0000FF"/><path d="M1624 1207L1612 1199L1614 1186L1624 1187Z" fill="#0000FF" stroke="#0000FF"/><path d="M1587 1250L1587 1251L1587 1251L1607 1253L1607 1253L1609 1239L1606 1237L1598 1236Z" fill="#FF0000" stroke="#FF0000"/><path d="M1587 1251L1587 1251L1587 1252L1567 1267L1555 1257L1557 1251L1566 1248Z" fill="#00FF00" stroke="#00FF00"/><path d="M1498 1153L1497 1161L1516 1157L1516 1139L1514 1139Z" fill="#00FF00" stroke="#00FF00"/><path d="M1434 1282L1433 1271L1426 1256L1426 1283Z" fill="#FFFF00" stroke="#FFFF00"/><path d="M1608 1290L1583 1285L1601 1279L1609 1286Z" fill="#0000FF" stroke="#0000FF"/><path d="M1450 1255L1449 1255L1463 1235L1477 1231L1483 1240L1481 1245Z" fill="#00FF00" stroke="#00FF00"/><path d="M1582 1234L1587 1250L1587 1251L1566 1248L1570 1241Z" fill="#0000FF" stroke="#0000FF"/><path d="M1582 1233L1586 1229L1587 1225L1574 1215L1573 1228Z" fill="#800080" stroke="#800080"/><path d="M1532 1257L1547 1263L1555 1257L1557 1251L1556 1248L1536 1239L1535 1239Z" fill="#0000FF" stroke="#0000FF"/><path d="M1439 1287L1448 1279L1450 1282L1452 1295L1439 1290Z" fill="#FF0000" stroke="#FF0000"/><path d="M1624 1139L1624 1145L1609 1157L1606 1149L1618 1139Z" fill="#FF0000" stroke="#FF0000"/><path d="M1624 1298L1608 1298L1608 1290L1609 1286L1624 1278Z" fill="#00FF00" stroke="#00FF00"/><path d="M1549 1154L1554 1153L1546 1139L1530 1139L1539 1153Z" fill="#00FF00" stroke="#00FF00"/><path d="M1595 1164L1609 1169L1611 1166L1609 1160L1598 1156Z" fill="#00FF00" stroke="#00FF00"/><path d="M1607 1253L1624 1254L1624 1246L1611 1237L1609 1239Z" fill="#FF0000" stroke="#FF0000"/><path d="M1392 1156L1402 1170L1395 1170Z" fill="#FF0000" stroke="#FF0000"/><path d="M1546 1212L1548 1213L1549 1218L1536 1239L1535 1239L1519 1232L1542 1214Z" fill="#FF0000" stroke="#FF0000"/><path d="M1551 1284L1572 1277L1581 1286L1579 1298L1577 1298Z" fill="#0000FF" stroke="#0000FF"/><path d="M1423 1141L1440 1146L1443 1145L1447 1141L1447 1139L1422 1139Z" fill="#00FF00" stroke="#00FF00"/><path d="M1591 1139L1600 1147L1606 1149L1618 1139Z" fill="#FF0000" stroke="#FF0000"/><path d="M1585 1162L1589 1154L1597 1156L1598 1156L1595 1164L1587 1164Z" fill="#FFFF00" stroke="#FFFF00"/><path d="M1567 1267L1587 1252L1587 1257L1572 1275Z" fill="#0000FF" stroke="#0000FF"/><path d="M1586 1229L1587 1225L1589 1222L1600 1225L1596 1232Z" fill="#800080" stroke="#800080"/><path d="M1584 1181L1589 1186L1610 1182L1609 1181L1587 1165L1585 1175Z" fill="#00FF00" stroke="#00FF00"/><path d="M1546 1212L1548 1213L1550 1212L1555 1202L1558 1186L1558 1186L1551 1177L1548 1177L1532 1195L1533 1197Z" fill="#00FF00" stroke="#00FF00"/><path d="M1587 1251L1587 1252L1587 1257L1591 1267L1598 1268L1607 1255L1607 1253Z" fill="#FFFF00" stroke="#FFFF00"/><path d="M1510 1236L1483 1240L1477 1231L1474 1209L1474 1208L1488 1208L1510 1219L1513 1233Z" fill="#FFFF00" stroke="#FFFF00"/><path d="M1380 1157L1391 1155L1400 1148L1401 1139L1380 1139Z" fill="#0000FF" stroke="#0000FF"/><path d="M1515 1211L1514 1212L1510 1219L1513 1233L1519 1232L1542 1214Z" fill="#0000FF" stroke="#0000FF"/><path d="M1582 1234L1587 1250L1598 1236L1596 1232L1586 1229L1582 1233Z" fill="#00FF00" stroke="#00FF00"/><path d="M1405 1185L1401 1189L1408 1209L1410 1210L1427 1199L1427 1199L1427 1198Z" fill="#0000FF" stroke="#0000FF"/><path d="M1573 1228L1574 1215L1574 1214L1550 1212L1548 1213L1549 1218L1556 1229L1569 1230Z" fill="#0000FF" stroke="#0000FF"/><path d="M1403 1267L1380 1259L1380 1298L1398 1298Z" fill="#0000FF" stroke="#0000FF"/><path d="M1585 1162L1574 1158L1576 1152L1589 1145L1589 1154Z" fill="#00FF00" stroke="#00FF00"/><path d="M1520 1203L1514 1193L1509 1193L1506 1198L1514 1212L1515 1211Z" fill="#800080" stroke="#800080"/><path d="M1575 1179L1558 1186L1558 1186L1570 1192L1586 1194L1589 1186L1584 1181Z" fill="#FF0000" stroke="#FF0000"/><path d="M1432 1209L1448 1212L1430 1238L1426 1233L1425 1228Z" fill="#FF0000" stroke="#FF0000"/><path d="M1609 1157L1624 1145L1624 1160L1611 1166L1609 1160Z" fill="#FF0000" stroke="#FF0000"/><path d="M1410 1259L1400 1245L1399 1229L1426 1233L1430 1238L1432 1241L1431 1249L1425 1254Z" fill="#00FF00" stroke="#00FF00"/><path d="M1600 1225L1589 1222L1591 1208L1606 1211L1608 1213L1608 1216L1603 1223Z" fill="#0000FF" stroke="#0000FF"/><path d="M1486 1284L1501 1269L1497 1267L1472 1275L1471 1275L1483 1282Z" fill="#0000FF" stroke="#0000FF"/><path d="M1568 1161L1574 1158L1576 1152L1570 1139L1565 1139L1556 1154L1560 1161L1566 1162Z" fill="#00FF00" stroke="#00FF00"/><path d="M1587 1164L1587 1165L1609 1181L1609 1169L1595 1164Z" fill="#0000FF" stroke="#0000FF"/><path d="M1455 1260L1465 1273L1447 1276L1444 1255L1449 1255L1450 1255Z" fill="#FFFF00" stroke="#FFFF00"/><path d="M1472 1275L1477 1259L1482 1248L1497 1267Z" fill="#FF0000" stroke="#FF0000"/><path d="M1426 1283L1415 1298L1398 1298L1403 1267L1410 1259L1425 1254L1426 1256Z" fill="#FF0000" stroke="#FF0000"/><path d="M1430 1158L1411 1161L1411 1174L1426 1176L1433 1164Z" fill="#00FF00" stroke="#00FF00"/><path d="M1498 1180L1496 1179L1499 1200L1506 1198L1509 1193L1507 1189Z" fill="#00FF00" stroke="#00FF00"/><path d="M1502 1269L1504 1298L1534 1298L1535 1294L1513 1264Z" fill="#FF0000" stroke="#FF0000"/><path d="M1554 1153L1546 1139L1565 1139L1556 1154Z" fill="#FF0000" stroke="#FF0000"/><path d="M1474 1209L1474 1208L1467 1199L1456 1208L1451 1232L1452 1232Z" fill="#0000FF" stroke="#0000FF"/><path d="M1501 1269L1497 1267L1482 1248L1481 1245L1483 1240L1510 1236L1516 1260L1513 1264L1502 1269Z" fill="#800080" stroke="#800080"/><path d="M1486 1139L1498 1153L1514 1139Z" fill="#800080" stroke="#800080"/><path d="M1433 1271L1426 1256L1425 1254L1431 1249L1444 1255L1447 1276L1447 1276L1440 1277Z" fill="#FF0000" stroke="#FF0000"/><path d="M1472 1275L1477 1259L1455 1260L1465 1273L1469 1276L1471 1275Z" fill="#0000FF" stroke="#0000FF"/><path d="M1611 1237L1624 1246L1624 1227L1619 1227Z" fill="#0000FF" stroke="#0000FF"/><path d="M1549 1218L1536 1239L1556 1248L1556 1229Z" fill="#FFFF00" stroke="#FFFF00"/><path d="M1469 1277L1450 1282L1452 1295L1455 1298L1460 1298L1468 1281Z" fill="#FF0000" stroke="#FF0000"/><path d="M1486 1284L1491 1298L1504 1298L1502 1269L1501 1269Z" fill="#0000FF" stroke="#0000FF"/><path d="M1469 1276L1469 1277L1450 1282L1448 1279L1447 1276L1447 1276L1465 1273Z" fill="#FFFF00" stroke="#FFFF00"/><path d="M1582 1234L1570 1241L1569 1230L1573 1228L1582 1233Z" fill="#00FF00" stroke="#00FF00"/><path d="M1495 1166L1481 1155L1483 1165L1493 1172Z" fill="#800080" stroke="#800080"/><path d="M1570 1192L1558 1186L1555 1202L1570 1200Z" fill="#FFFF00" stroke="#FFFF00"/><path d="M1549 1154L1537 1171L1529 1169L1539 1153Z" fill="#0000FF" stroke="#0000FF"/><path d="M1392 1156L1402 1170L1411 1174L1411 1174L1411 1161L1411 1158L1400 1148L1391 1155L1391 1155Z" fill="#FF0000" stroke="#FF0000"/><path d="M1585 1162L1574 1158L1568 1161L1585 1175L1587 1165L1587 1164Z" fill="#FF0000" stroke="#FF0000"/><path d="M1586 1194L1589 1186L1610 1182L1614 1186L1612 1199L1606 1211L1591 1208L1586 1203Z" fill="#FF0000" stroke="#FF0000"/><path d="M1520 1203L1514 1193L1524 1185L1532 1195L1533 1197Z" fill="#FF0000" stroke="#FF0000"/><path d="M1539 1153L1530 1139L1516 1139L1516 1157L1521 1168L1523 1169L1529 1169Z" fill="#0000FF" stroke="#0000FF"/><path d="M1477 1292L1468 1281L1469 1277L1469 1276L1471 1275L1483 1282Z" fill="#00FF00" stroke="#00FF00"/><path d="M1421 1250L1428 1254L1426 1257L1419 1252Z" fill="#FF0000"/><path d="M1453 1227L1437 1242L1435 1240L1451 1225Z" fill="#0000FF"/><path d="M1609 1162L1633 1166L1633 1167L1609 1163Z" fill="#FF0000"/><path d="M1551 1292L1546 1299L1543 1297L1548 1290Z" fill="#FFFF00"/><path d="M1541 1204L1550 1230L1547 1231L1538 1205Z" fill="#00FF00"/><path d="M1521 1222L1507 1230L1506 1228L1520 1220Z" fill="#800080"/><path d="M1602 1160L1609 1175L1607 1175L1600 1161Z" fill="#FF0000"/><path d="M1602 1243L1618 1248L1617 1251L1601 1245Z" fill="#FF0000"/><path d="M1412 1192L1441 1195L1441 1196L1412 1194Z" fill="#FF0000"/><path d="M1460 1249L1445 1251L1445 1249L1459 1246Z" fill="#0000FF"/><path d="M1579 1262L1575 1273L1572 1271L1576 1261Z" fill="#0000FF"/><path d="M1471 1207L1463 1214L1462 1213L1471 1206Z" fill="#FFFF00"/><path d="M1548 1170L1563 1173L1562 1175L1547 1173Z" fill="#FF0000"/><path d="M1502 1285L1495 1303L1493 1303L1500 1284Z" fill="#00FF00"/><path d="M1453 1134L1470 1149L1469 1150L1452 1135Z" fill="#00FF00"/><path d="M1413 1140L1416 1151L1414 1152L1411 1140Z" fill="#0000FF"/><path d="M1523 1194L1502 1205L1501 1203L1522 1191Z" fill="#00FF00"/><path d="M1616 1281L1614 1295L1612 1295L1614 1281Z" fill="#00FF00"/><path d="M1429 1224L1406 1238L1405 1236L1428 1222Z" fill="#FF0000"/><path d="M1605 1222L1587 1246L1586 1245L1604 1222Z" fill="#00FF00"/><path d="M1591 1219L1581 1232L1579 1230L1588 1217Z" fill="#FF0000"/><path d="M1562 1232L1582 1236L1581 1238L1562 1234Z" fill="#0000FF"/><path d="M1598 1173L1596 1195L1593 1194L1595 1172Z" fill="#800080"/><path d="M1607 1279L1622 1279L1622 1281L1607 1281Z" fill="#00FF00"/><path d="M1532 1279L1524 1292L1522 1291L1531 1278Z" fill="#0000FF"/><path d="M1568 1139L1579 1147L1577 1149L1567 1142Z" fill="#FF0000"/><path d="M1415 1283L1443 1284L1443 1287L1415 1286Z" fill="#FF0000"/><path d="M1615 1212L1613 1231L1612 1231L1614 1212Z" fill="#0000FF"/><path d="M1549 1232L1539 1248L1537 1247L1547 1231Z" fill="#FF0000"/><path d="M1416 1279L1415 1306L1411 1306L1413 1278Z" fill="#00FF00"/><path d="M1468 1174L1459 1193L1458 1192L1467 1173Z" fill="#FF0000"/><path d="M1530 1136L1526 1144L1524 1143L1528 1135Z" fill="#00FFFF"/><path d="M1457 1184L1454 1209L1452 1208L1454 1184Z" fill="#FF0000"/><path d="M1626 1197L1619 1226L1615 1225L1623 1196Z" fill="#FF0000"/><path d="M1526 1225L1520 1236L1517 1234L1524 1224Z" fill="#FFFF00"/><path d="M1514 1242L1539 1256L1538 1258L1513 1244Z" fill="#0000FF"/><path d="M1582 1243L1595 1258L1593 1260L1580 1245Z" fill="#00FF00"/><path d="M1424 1149L1419 1161L1416 1160L1422 1148Z" fill="#FF0000"/><path d="M1408 1153L1438 1154L1438 1155L1408 1155Z" fill="#FF0000"/><path d="M1593 1242L1598 1253L1595 1254L1590 1243Z" fill="#00FF00"/><path d="M1472 1170L1482 1184L1480 1185L1469 1171Z" fill="#FF0000"/><path d="M1463 1140L1467 1151L1465 1152L1461 1141Z" fill="#FF0000"/><path d="M1483 1247L1492 1264L1489 1266L1480 1248Z" fill="#0000FF"/><path d="M1592 1153L1598 1167L1597 1168L1591 1153Z" fill="#FF0000"/><path d="M1498 1279L1504 1296L1501 1297L1495 1280Z" fill="#FF0000"/><path d="M1478 1218L1501 1226L1501 1227L1478 1219Z" fill="#FF0000"/><path d="M1486 1245L1499 1266L1497 1268L1483 1247Z" fill="#FFFF00"/><path d="M1467 1257L1445 1273L1443 1271L1466 1254Z" fill="#0000FF"/><path d="M1594 1282L1599 1307L1597 1308L1591 1282Z" fill="#FFFF00"/><path d="M1467 1162L1474 1188L1472 1188L1466 1162Z" fill="#FF0000"/><path d="M1470 1134L1456 1157L1454 1156L1468 1132Z" fill="#FF0000"/><path d="M1537 1262L1524 1265L1523 1263L1536 1260Z" fill="#0000FF"/><path d="M1477 1272L1487 1272L1487 1275L1476 1275Z" fill="#FFFF00"/><path d="M1475 1187L1497 1203L1495 1205L1473 1189Z" fill="#0000FF"/><path d="M1475 1171L1463 1192L1461 1191L1472 1170Z" fill="#00FF00"/><path d="M1580 1255L1560 1277L1558 1274L1578 1253Z" fill="#0000FF"/><path d="M1518 1266L1546 1269L1546 1272L1517 1270Z" fill="#FFFF00"/><path d="M1489 1222L1486 1245L1483 1245L1486 1221Z" fill="#FF0000"/><path d="M1482 1247L1502 1247L1502 1249L1482 1249Z" fill="#FF0000"/><path d="M1573 1151L1567 1177L1564 1176L1570 1151Z" fill="#0000FF"/><path d="M1577 1243L1572 1249L1570 1248L1576 1242Z" fill="#FF0000"/><path d="M1431 1262L1439 1267L1438 1270L1430 1265Z" fill="#FF0000"/><path d="M1590 1215L1590 1227L1587 1227L1587 1215Z" fill="#0000FF"/><path d="M1475 1229L1455 1234L1455 1232L1475 1226Z" fill="#0000FF"/><path d="M1531 1247L1552 1251L1552 1253L1530 1249Z" fill="#0000FF"/><path d="M1608 1138L1593 1158L1592 1157L1607 1138Z" fill="#FF0000"/><path d="M1503 1197L1499 1206L1496 1204L1500 1196Z" fill="#FF0000"/><path d="M1585 1241L1591 1267L1588 1267L1582 1242Z" fill="#0000FF"/><path d="M1604 1150L1606 1161L1604 1162L1603 1151Z" fill="#00FF00"/><path d="M1509 1204L1483 1216L1482 1215L1508 1202Z" fill="#FF0000"/><path d="M1446 1140l5 2l2 5l-4 2Z" fill="#00FFFF"/><path d="M1518 1279l4 2l2 4l-3 2Z" fill="#00FFFF"/><path d="M1606 1268l4 2l2 4l-3 2Z" fill="#00FFFF"/><path d="M1570 1288l8 4l4 8l-6 4Z" fill="#00FFFF"/><path d="M1549 1201l6 3l3 6l-4 3Z" fill="#00FFFF"/><path d="M1539 1237l4 2l2 4l-3 2Z" fill="#00FFFF"/><path d="M1596 1225l3 2l2 3l-3 2Z" fill="#00FFFF"/></g>
<path d="M571.5 1256.0L612.4 1149.4" stroke="#000" stroke-width="6.0" stroke-dasharray="17 8" fill="none"/>
<path d="M618.8 1132.6L620.0 1154.5L603.2 1148.1Z" fill="#000"/>
<path d="M1020.5 1047.8L1002.0 1024.0" stroke="#000" stroke-width="6.0" stroke-dasharray="17 8" fill="none"/>
<path d="M991.0 1009.8L1010.4 1020.1L996.2 1031.1Z" fill="#000"/>
<path d="M1040.8 1222.0L1001.8 1273.6" stroke="#000" stroke-width="6.0" stroke-dasharray="17 8" fill="none"/>
<path d="M991.0 1288.0L995.9 1266.6L1010.2 1277.5Z" fill="#000"/>
<path d="M1225.0 1120.0L1163.1 1061.9" stroke="#000" stroke-width="6.0" stroke-dasharray="17 8" fill="none"/>
<path d="M1150.0 1049.6L1170.7 1056.7L1158.4 1069.8Z" fill="#000"/>
<path d="M1225.0 1294.0L1166.1 1323.0" stroke="#000" stroke-width="6.0" stroke-dasharray="17 8" fill="none"/>
<path d="M1150.0 1331.0L1164.0 1314.1L1171.9 1330.2Z" fill="#000"/>
<path d="M1524.5 1131.0L1490.7 1078.0" stroke="#000" stroke-width="6.0" stroke-dasharray="17 8" fill="none"/>
<path d="M1481.0 1062.8L1499.3 1074.8L1484.2 1084.5Z" fill="#000"/>
<path d="M1542.0 1310.0L1503.4 1333.6" stroke="#000" stroke-width="6.0" stroke-dasharray="17 8" fill="none"/>
<path d="M1488.0 1343.0L1500.4 1324.9L1509.8 1340.3Z" fill="#000"/>
<rect x="508.8" y="2156.8" width="58.8" height="5.7" fill="#808080" stroke="#000" stroke-width="2.2"/>
<rect x="567.6" y="2151.5" width="58.8" height="11.0" fill="#FF0000" stroke="#000" stroke-width="2.2"/>
<rect x="626.4" y="2140.9" width="58.8" height="21.6" fill="#0000FF" stroke="#000" stroke-width="2.2"/>
<rect x="685.2" y="2135.6" width="58.8" height="26.9" fill="#FFFF00" stroke="#000" stroke-width="2.2"/>
<rect x="803.2" y="2141.4" width="58.8" height="21.1" fill="#808080" stroke="#000" stroke-width="2.2"/>
<rect x="862.0" y="2129.0" width="58.8" height="33.5" fill="#FF0000" stroke="#000" stroke-width="2.2"/>
<rect x="920.8" y="2111.3" width="58.8" height="51.2" fill="#0000FF" stroke="#000" stroke-width="2.2"/>
<rect x="979.6" y="2114.0" width="58.8" height="48.5" fill="#FFFF00" stroke="#000" stroke-width="2.2"/>
<rect x="1096.7" y="2018.6" width="58.8" height="143.9" fill="#808080" stroke="#000" stroke-width="2.2"/>
<rect x="1155.5" y="2000.1" width="58.8" height="162.4" fill="#FF0000" stroke="#000" stroke-width="2.2"/>
<rect x="1214.3" y="1975.4" width="58.8" height="187.1" fill="#0000FF" stroke="#000" stroke-width="2.2"/>
<rect x="1273.1" y="1976.2" width="58.8" height="186.3" fill="#FFFF00" stroke="#000" stroke-width="2.2"/>
<rect x="1390.7" y="1587.5" width="58.8" height="575.0" fill="#808080" stroke="#000" stroke-width="2.2"/>
<rect x="1449.5" y="1620.7" width="58.8" height="541.8" fill="#FF0000" stroke="#000" stroke-width="2.2"/>
<rect x="1508.3" y="1663.5" width="58.8" height="499.0" fill="#0000FF" stroke="#000" stroke-width="2.2"/>
<rect x="1567.1" y="1675.4" width="58.8" height="487.1" fill="#FFFF00" stroke="#000" stroke-width="2.2"/>
<path d="M480.0 1542.5H1655.6V2162.5H480.0Z" fill="none" stroke="#000" stroke-width="3.8"/>
<text transform="translate(446.57 2173.55) scale(0.8750 1)" font-size="41.60" font-weight="400" fill="#000" xml:space="preserve">0</text>
<text transform="translate(426.37 2071.45) scale(0.8750 1)" font-size="41.60" font-weight="400" fill="#000" xml:space="preserve">50</text>
<text transform="translate(406.17 1969.35) scale(0.8750 1)" font-size="41.60" font-weight="400" fill="#000" xml:space="preserve">100</text>
<text transform="translate(406.17 1867.25) scale(0.8750 1)" font-size="41.60" font-weight="400" fill="#000" xml:space="preserve">150</text>
<text transform="translate(406.17 1765.15) scale(0.8750 1)" font-size="41.60" font-weight="400" fill="#000" xml:space="preserve">200</text>
<text transform="translate(406.17 1663.05) scale(0.8750 1)" font-size="41.60" font-weight="400" fill="#000" xml:space="preserve">250</text>
<text transform="translate(406.17 1560.95) scale(0.8750 1)" font-size="41.60" font-weight="400" fill="#000" xml:space="preserve">300</text>
<text transform="translate(567.05 2209.55) scale(0.8650 1)" font-size="41.30" font-weight="400" fill="#000" xml:space="preserve">0.3-0.35</text>
<text transform="translate(850.94 2209.55) scale(0.8650 1)" font-size="41.30" font-weight="400" fill="#000" xml:space="preserve">0.35-0.40</text>
<text transform="translate(1144.93 2209.55) scale(0.8650 1)" font-size="41.30" font-weight="400" fill="#000" xml:space="preserve">0.40-0.45</text>
<text transform="translate(1438.74 2209.55) scale(0.8650 1)" font-size="41.30" font-weight="400" fill="#000" xml:space="preserve">0.45-0.50</text>
<text transform="translate(949.27 2253.31) scale(0.8808 1)" font-size="39.05" font-weight="700" fill="#000" xml:space="preserve">Schmid Factor</text>
<text transform="translate(382.60 2141.00) rotate(-90) scale(1.0091 1)" font-size="39.04" font-weight="700" fill="#000" xml:space="preserve">Weighted Schmid Factor (WSF)</text>
<rect x="504" y="1547.8" width="280.3" height="197.4" fill="#fff" stroke="#333" stroke-width="1.5"/>
<rect x="512.3" y="1558.0" width="78.7" height="33.0" rx="1.5" fill="#808080" stroke="#000" stroke-width="2.4"/>
<text transform="translate(601.64 1589.04) scale(0.8860 1)" font-size="39.00" font-weight="700" fill="#000" xml:space="preserve">As-printed</text>
<rect x="512.3" y="1606.0" width="78.7" height="33.0" rx="1.5" fill="#FF0000" stroke="#000" stroke-width="2.4"/>
<text transform="translate(600.25 1636.45) scale(0.8860 1)" font-size="39.00" font-weight="700" fill="#000" xml:space="preserve">HSA 2</text>
<rect x="512.3" y="1653.8" width="78.7" height="34.0" rx="1.5" fill="#0000FF" stroke="#000" stroke-width="2.4"/>
<text transform="translate(600.25 1684.75) scale(0.8860 1)" font-size="39.00" font-weight="700" fill="#000" xml:space="preserve">HSA 3</text>
<rect x="512.3" y="1702.3" width="78.7" height="34.0" rx="1.5" fill="#FFFF00" stroke="#000" stroke-width="2.4"/>
<text transform="translate(600.25 1733.25) scale(0.8860 1)" font-size="39.00" font-weight="700" fill="#000" xml:space="preserve">HSA 5</text>
<text transform="translate(821.51 1623.35) scale(1 1.0338)" font-size="39.83" font-weight="700" fill="#000" xml:space="preserve">(h)</text>
</svg></body></html>
